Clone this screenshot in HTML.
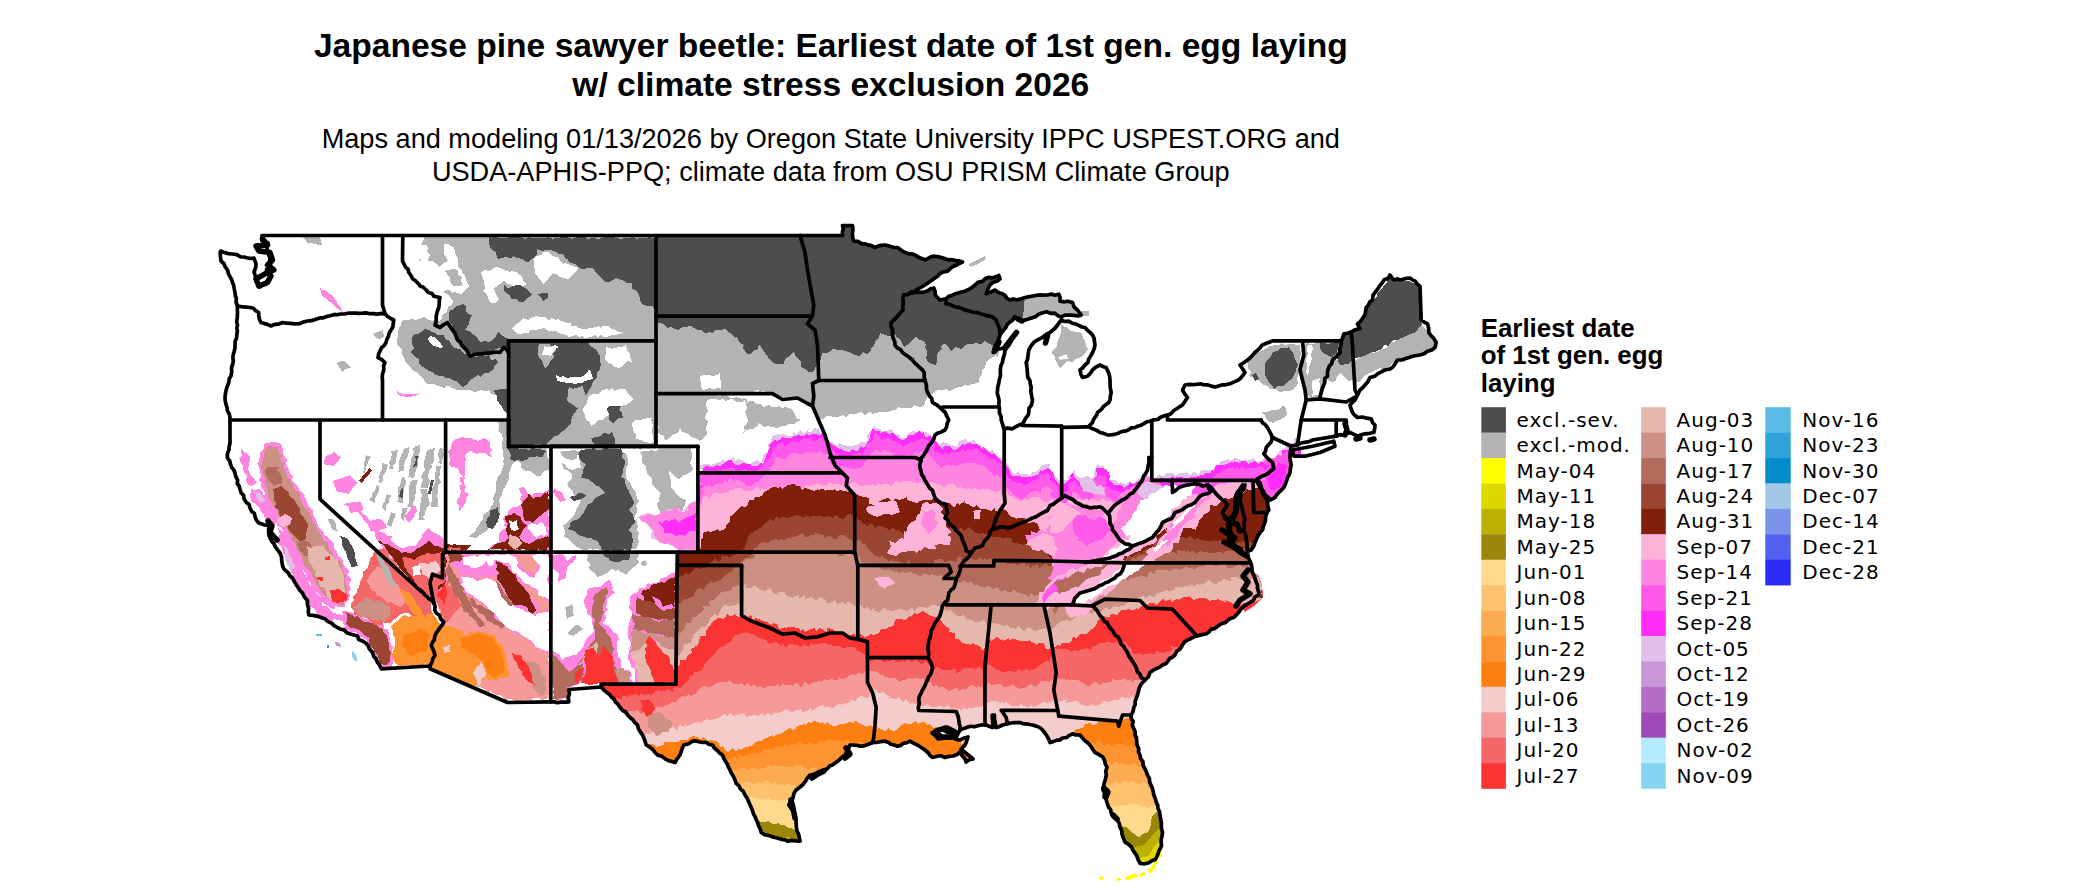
<!DOCTYPE html>
<html><head><meta charset="utf-8"><title>Japanese pine sawyer beetle map</title>
<style>
html,body{margin:0;padding:0;background:#fff;}
body{width:2100px;height:892px;position:relative;overflow:hidden;font-family:"Liberation Sans",sans-serif;color:#000;}
.t{position:absolute;left:0;width:1661.6px;text-align:center;white-space:nowrap;}
.title{font-weight:bold;font-size:33.6px;line-height:39.6px;top:25.6px;}
.sub{font-size:27.15px;line-height:33px;top:122.4px;}
.lt{position:absolute;left:1480.7px;top:314.5px;font-weight:bold;font-size:25.9px;line-height:27.7px;white-space:nowrap;}
svg{position:absolute;left:0;top:0;}
.ll{font-family:"DejaVu Sans",sans-serif;font-size:20px;letter-spacing:1px;fill:#000;}
.bd polyline,.bd polygon{stroke:#000;stroke-width:3.7;stroke-linejoin:round;stroke-linecap:round;}
</style></head><body>
<div class="t title">Japanese pine sawyer beetle: Earliest date of 1st gen. egg laying<br>w/ climate stress exclusion 2026</div>
<div class="t sub">Maps and modeling 01/13/2026 by Oregon State University IPPC USPEST.ORG and<br>USDA-APHIS-PPQ; climate data from OSU PRISM Climate Group</div>
<div class="lt">Earliest date<br>of 1st gen. egg<br>laying</div>
<svg width="2100" height="892" viewBox="0 0 2100 892">
<defs><clipPath id="us"><polygon points="262,235.5 842.5,235.5 842.5,225.5 852.5,225.5 853.8,241.2 865,243.8 875,247.5 885,245 897.5,247.5 905,252.5 915,255 925,260 935,256.2 945,258.8 962.5,262 950,268.8 937.5,276.2 925,285 915,291.2 903.8,295 915,292.5 927.5,291 933.8,288 935.5,295.5 940,300 946,298.8 955,293.8 965,291.2 975,285 985,278.8 998.8,275.5 1000,278.8 990,285 986.2,293.8 995,290 1002.5,293.8 1010,300 1021.2,298.8 1032.5,296.2 1047.5,295 1058.8,294.2 1060,301.2 1072.5,302.5 1077.5,310 1081.2,315 1071,315.2 1064.9,315.2 1060.9,317.2 1054.8,313.2 1046.7,311.7 1038.7,314.2 1030.6,318.2 1020.5,320.3 1014.5,316.7 1007.4,324.3 1000.3,334.4 997,343 994,349 993.3,352.5 998,349 1005.4,346.5 1016.5,332.4 1006.5,348 1004.4,354.5 1002.4,362.6 1000.3,370.7 999.3,380 997.5,390 998.8,405 1001.2,420 1003.8,428.8 1012.5,428.8 1022.5,423.8 1028.8,412.5 1032.5,400 1031.2,387.5 1027.5,375 1026.2,362.5 1028.8,350 1033.8,342.5 1042.5,337.5 1050,332.5 1057.5,325 1061.2,320 1075,323.8 1085,327.5 1092.5,335 1095,345 1091.2,355 1085,365 1080,370 1082.5,377.5 1087.5,376.2 1092.5,370 1100,365 1106.2,367.5 1110,380 1111.2,392.5 1108.8,402.5 1103.8,406.2 1097.5,412.5 1092.5,422.5 1088.8,426.2 1100,432.5 1110,435 1125,431.2 1137.5,426.2 1150,421.2 1167.5,415 1182.5,405 1187.5,397.5 1182.5,390 1185,385 1200,383.8 1215,387 1230,383.8 1240,378.8 1245,372.5 1240,365 1247.5,360 1255,352.5 1265,343.8 1272.5,340.9 1302.5,340.9 1341.2,340.9 1343.8,333.8 1351.2,332 1360,328.8 1357.5,323.8 1365,315 1366.2,307.5 1372.5,300 1375,292.5 1382.5,282.5 1390,275 1393.8,280 1410,278 1420,286.2 1421.2,320 1427.5,323.8 1428.8,332.5 1436.2,342.5 1435,347.5 1427.5,351.2 1420,355 1412.5,356.2 1405,358.8 1397.5,360 1392.5,367.5 1385,370 1377.5,373.8 1370,377.5 1365,385 1360,390 1357.5,395 1355,400 1350,405 1352.5,412.5 1357.5,417.5 1362,417 1371.2,418.8 1375,425 1373.8,432.5 1365,433.8 1357.5,436.2 1350,432.5 1346.2,433.8 1336.2,436.2 1312.5,440 1297.5,445 1291.2,446.2 1290,458.8 1291.2,465 1287.5,477.5 1283.8,487.5 1275,497.5 1270,500 1265,495 1260,487.5 1256.2,480 1260,482.5 1262.5,492.5 1267.5,500 1268.8,510 1267,512.5 1265,522.5 1260,532.5 1255,542.5 1251.2,550 1247.5,551.2 1246.2,540 1243.8,530 1245,520 1242.5,510 1240,500 1241,492 1245,485 1241,488 1237,493 1235,500 1235,510 1231.2,517.5 1227.5,525 1230,532.5 1228.8,540 1232.5,547.5 1240,552.5 1247.5,556.2 1250,561.2 1253.8,575 1257.5,585 1258.8,595 1250,602.5 1242.5,607.5 1236.2,615 1228,620 1218,626 1206,634 1197,636 1187.5,640 1182.5,645 1175,655 1162.5,665 1150,672.5 1145,680 1141.2,684 1137.5,695 1133.8,707.5 1131.2,715 1135,735 1140,755 1147.5,775 1153.8,795 1160,815 1162.5,832.5 1161.6,845.6 1159,850.8 1155.6,859.3 1148.8,862.7 1140.3,863.5 1136.9,855.9 1131.8,847.3 1125,842.2 1121.6,830.3 1117.3,820.1 1111.3,813.3 1107.1,803 1102.8,789.4 1105.4,779.2 1107.1,767.3 1102.8,757 1095,752.5 1087.5,742.5 1080,735 1072.5,733.8 1060,740 1050,742.5 1042.5,730 1032.5,725 1020,722.5 1007.5,723.8 1002.5,725 996.2,727.5 994.5,715 992.5,727.5 986.2,725 971.2,726.2 960,730 957,736 950,733 940,729 932,733 938,739 950,738 960,740 968,737 966,743 961,749 967,754 973,759 966,762 960,752 953,756 945,757.5 938,756 932.5,757.5 925,750 917.5,745 910,741.2 897.5,746.2 885,741.2 872.5,742.5 860,746.2 850,745 845,755 832.5,765 820,771.2 810,775 802.5,785 793.8,793.8 788.8,805 793.8,812.5 796.2,825 800,841.2 787.5,841.2 775,837.5 761.2,832.5 757.5,822.5 751.2,807.5 745,795 735,780 730,770 722.5,755 712.5,745 702.5,742.5 692.5,741.2 683.8,745 680,755 675,762.5 665,758.8 655,752.5 646.2,745 642.5,735 637.5,725 630,717.5 620,707.5 610,695 601.2,687 568.8,689.5 568.8,701.8 550.8,701.8 507.5,702.5 430,668.8 430,666 381.2,668.8 377.5,662.5 372.5,652.5 365,642.5 353.8,635 337.5,627.5 325,618.8 308.8,615 307.5,600.5 300,590.5 292.5,578 282.5,565.5 280,553 270,538 268.8,525.5 258.8,523 250,508 241.2,493 235,473 227.5,458 230,443 230,420 227,407.5 225,397.5 228.8,382.5 232.5,365 235,345 237.5,325 237.5,306 235,292.5 232.5,282.5 227.5,270 221,261 220.5,251 232,254 244,257 254,258 256,264 254,272 256,280 260,287 266,284 270,276 271,268 270,258 267,250 268,243 262,241 262,235.5"/><polygon points="1292.5,450 1312.5,446.2 1333.8,441.2 1335,446.2 1320,452.5 1305,456.2 1293.8,456.2"/><polygon points="1245,485 1241,492 1240,500 1242.5,510 1245,520 1243.8,530 1246.2,540 1241,488 1237,493 1235,500 1235,510 1231.2,517.5 1227.5,525 1230,532.5 1228.8,540 1232.5,547.5 1240,552.5 1247.5,556.2 1250,561.2"/><polygon points="1253,575 1257,585 1258,595 1250,602 1242,607 1245,611.5 1253,606.5 1263,597 1261.5,584 1257.5,574"/></clipPath></defs>
<g clip-path="url(#us)" shape-rendering="crispEdges">
<polygon fill="#e0c0e8" points="635,898 637,894 636,892 634,890 634,886 634,880 636,881 634,874 637,874 636,868 638,863 638,860 634,856 635,856 634,851 637,847 636,842 634,839 637,836 635,834 636,829 637,827 635,823 636,821 637,815 638,810 636,810 634,805 634,803 637,799 638,794 637,792 636,787 638,786 636,781 634,778 637,776 638,769 635,767 634,763 634,758 634,757 634,751 635,751 634,745 636,744 638,740 635,735 635,733 638,726 634,723 635,721 636,716 634,714 635,711 638,708 636,704 637,698 638,698 638,694 635,689 634,687 634,680 635,677 635,673 634,670 634,668 634,667 637,660 635,657 635,652 638,653 636,647 634,642 635,639 638,635 634,635 636,628 636,624 636,625 638,620 635,615 634,614 636,610 635,604 638,604 638,600 638,596 635,591 635,585 634,583 635,582 638,577 638,576 638,569 635,565 634,562 637,562 638,556 637,554 634,550 639,546 639,541 637,538 638,534 643,527 642,526 646,517 646,511 653,513 652,512 659,510 659,508 661,506 668,509 669,510 672,510 677,507 677,505 680,504 683,501 685,501 689,498 693,501 696,502 697,496 698,489 698,486 697,485 698,480 701,476 700,473 702,470 700,466 704,464 709,464 711,465 716,463 718,462 720,462 723,460 726,462 730,460 734,457 735,461 740,458 739,460 742,460 745,463 751,464 751,463 757,460 761,464 761,462 764,454 770,451 768,445 771,441 772,436 778,434 780,436 781,434 787,435 787,436 793,436 793,432 796,434 800,430 804,433 809,429 808,432 813,431 814,428 820,430 820,433 826,433 826,437 829,441 834,443 837,447 839,443 843,445 844,445 847,446 851,446 856,445 858,444 860,442 863,442 868,441 867,436 872,429 875,425 876,429 878,428 883,431 884,431 889,430 891,429 892,429 895,435 899,434 901,439 908,437 908,433 911,432 913,431 917,432 923,431 923,434 926,432 928,433 933,437 935,440 937,442 940,444 943,442 947,443 951,445 955,446 958,446 959,441 965,439 967,441 967,442 974,440 976,443 976,443 981,446 986,448 987,450 991,451 992,449 994,452 997,456 1002,458 1006,463 1008,464 1012,472 1014,474 1018,472 1021,474 1021,474 1027,474 1030,477 1032,472 1035,472 1039,470 1042,465 1042,465 1048,464 1050,464 1049,469 1054,474 1057,478 1059,481 1062,480 1067,480 1070,482 1067,476 1073,475 1074,468 1076,475 1079,477 1081,478 1088,476 1091,478 1094,477 1094,472 1098,463 1099,466 1104,466 1105,471 1108,477 1108,480 1115,480 1118,483 1121,482 1121,483 1127,484 1127,483 1130,480 1132,483 1136,482 1139,478 1143,477 1145,480 1151,479 1153,479 1157,477 1159,474 1162,476 1165,476 1166,473 1172,473 1173,474 1175,476 1181,473 1183,473 1185,473 1186,472 1190,475 1194,472 1199,475 1200,471 1201,470 1205,470 1208,470 1212,471 1216,466 1218,464 1220,462 1222,461 1229,459 1230,461 1235,458 1235,458 1238,459 1244,461 1247,457 1246,461 1253,459 1254,457 1256,462 1262,461 1265,457 1264,456 1269,458 1274,458 1276,457 1278,453 1279,451 1283,449 1288,444 1288,443 1294,443 1294,438 1299,438 1298,440 1300,442 1298,448 1301,452 1301,455 1298,457 1301,463 1298,463 1299,470 1299,472 1300,478 1298,477 1298,483 1300,485 1301,491 1299,492 1301,496 1301,499 1298,506 1298,510 1299,510 1298,514 1300,520 1297,521 1298,528 1297,527 1297,532 1301,538 1300,542 1301,542 1298,548 1300,547 1300,553 1299,556 1298,558 1298,563 1302,565 1302,569 1299,576 1301,577 1297,581 1299,587 1298,588 1301,589 1299,597 1301,597 1297,600 1301,605 1301,611 1299,612 1302,617 1298,621 1298,622 1297,628 1301,631 1302,631 1298,637 1302,643 1299,643 1299,648 1302,650 1301,656 1301,660 1300,661 1299,665 1301,667 1298,674 1298,674 1297,680 1299,685 1301,689 1298,688 1298,693 1301,697 1298,700 1300,705 1301,709 1300,709 1301,713 1300,717 1301,720 1298,724 1298,730 1300,731 1299,738 1300,738 1301,743 1302,744 1300,751 1301,755 1297,755 1298,758 1302,764 1302,766 1302,770 1299,775 1302,775 1300,782 1298,784 1298,786 1299,792 1301,793 1297,798 1301,800 1299,804 1301,809 1298,810 1299,816 1301,817 1298,824 1299,825 1299,832 1299,834 1299,837 1302,843 1299,842 1301,846 1297,853 1300,856 1299,860 1300,860 1297,865 1301,871 1298,873 1299,876 1298,878 1300,885 1298,886 1302,892 1298,891 1302,899 1300,898 1299,899 1295,901 1291,898 1287,899 1282,902 1281,898 1274,899 1272,899 1266,899 1266,902 1259,900 1259,898 1256,898 1251,900 1248,899 1243,900 1240,901 1236,900 1231,901 1230,899 1228,901 1223,898 1219,898 1214,900 1210,900 1209,898 1206,898 1203,901 1198,898 1195,899 1193,898 1189,902 1185,902 1179,902 1177,902 1176,898 1171,902 1164,899 1164,898 1161,899 1158,898 1152,902 1147,899 1145,899 1140,898 1137,902 1136,902 1130,901 1126,900 1125,899 1123,900 1118,902 1112,902 1111,899 1108,899 1106,900 1099,901 1096,898 1094,898 1091,899 1086,902 1083,901 1078,898 1073,898 1072,900 1068,902 1063,899 1062,898 1055,899 1052,899 1049,900 1047,899 1044,900 1038,902 1035,898 1031,901 1031,901 1025,899 1020,901 1019,899 1016,900 1014,901 1007,902 1003,900 1001,899 996,901 992,900 993,898 986,901 984,901 982,898 976,899 971,902 971,901 964,902 964,900 960,900 954,898 951,898 948,901 946,902 943,899 938,900 936,900 930,901 930,899 926,898 919,899 918,902 915,899 912,899 905,902 904,901 900,902 896,902 893,902 889,901 886,899 880,901 876,902 873,898 869,902 867,898 862,898 862,901 858,901 852,900 850,902 848,902 841,902 842,902 834,899 831,898 831,902 826,902 823,899 817,898 816,899 811,900 806,899 804,901 800,899 800,900 796,901 788,900 787,901 783,901 780,899 778,898 775,898 767,899 767,902 760,900 759,901 754,900 751,902 747,902 744,899 742,900 736,901 732,901 732,901 728,899 723,899 722,898 719,898 712,899 712,900 706,902 701,900 699,901 697,901 691,899 687,902 686,901 680,900 680,900 673,900 673,899 666,899 665,902 659,898 656,899 654,898 649,898 649,901 641,902 638,899"/>
<polygon fill="#ff2df7" points="638,901 637,896 635,894 634,888 636,884 636,884 637,879 637,875 635,872 636,869 638,865 636,862 636,857 637,856 637,852 637,848 637,844 635,841 634,836 637,834 637,829 636,826 636,822 637,821 635,816 637,812 636,811 634,805 635,803 638,798 634,795 636,792 636,788 637,784 636,782 635,778 636,775 634,772 635,765 635,763 634,759 636,757 635,751 635,750 638,745 635,743 636,737 635,736 637,732 636,728 635,726 635,721 637,718 636,713 636,709 637,706 637,702 636,699 636,695 634,693 635,688 635,685 636,683 637,678 638,676 634,673 638,669 635,666 637,659 634,659 637,653 634,649 635,648 635,642 638,641 635,638 636,634 637,631 637,627 635,623 636,620 636,617 636,611 635,607 636,603 636,600 636,598 636,596 634,592 636,587 637,585 635,580 638,575 637,574 634,570 637,568 635,564 636,559 638,554 637,553 636,549 637,544 638,541 638,535 640,531 643,526 646,521 648,515 651,517 655,515 656,512 659,511 664,512 664,512 671,511 670,510 673,510 680,510 682,508 686,505 687,502 691,502 694,501 697,503 698,497 696,493 699,492 700,486 701,484 700,478 700,475 701,472 703,470 703,468 706,466 712,467 716,466 715,465 720,466 725,463 726,461 730,460 731,459 733,463 736,465 739,465 743,463 748,464 751,464 751,466 757,466 760,463 763,464 765,459 767,454 770,447 769,446 775,439 776,441 779,440 783,437 785,438 789,438 791,438 794,436 799,435 801,436 806,435 807,433 808,435 814,434 815,434 821,435 822,433 825,436 828,439 831,444 835,446 835,446 840,449 844,450 844,451 850,452 852,449 856,451 859,450 860,446 864,448 866,445 870,438 870,435 873,428 875,431 880,431 880,433 886,431 888,434 893,433 894,434 896,435 899,439 902,440 906,439 908,435 914,435 913,435 919,431 921,433 924,432 925,437 931,436 933,439 937,443 941,448 943,449 944,446 947,446 949,446 954,450 957,449 962,444 963,443 964,445 968,443 973,444 976,444 978,444 983,450 983,447 986,450 992,454 994,453 997,457 1000,460 1000,459 1006,466 1009,468 1011,475 1012,476 1016,476 1020,476 1022,477 1027,477 1030,476 1030,477 1034,476 1039,474 1040,470 1042,471 1048,468 1050,469 1053,473 1054,475 1055,480 1060,484 1061,486 1064,484 1067,481 1071,478 1070,475 1073,473 1075,478 1078,481 1084,480 1086,480 1088,480 1091,481 1097,475 1096,468 1103,468 1105,469 1109,473 1110,477 1109,480 1114,485 1115,485 1121,485 1122,485 1124,488 1129,485 1129,483 1134,484 1136,482 1140,483 1144,482 1145,479 1150,480 1153,478 1156,479 1159,481 1161,477 1166,479 1168,477 1169,479 1172,476 1175,478 1177,477 1182,477 1183,478 1189,478 1190,477 1194,477 1195,477 1202,475 1203,475 1206,473 1211,473 1211,470 1214,471 1216,465 1222,465 1222,465 1227,464 1231,462 1234,463 1234,461 1239,463 1241,461 1245,461 1248,464 1250,463 1255,461 1258,464 1260,462 1264,462 1266,463 1270,460 1271,459 1275,460 1279,457 1282,454 1282,450 1289,450 1289,447 1294,444 1296,441 1299,441 1297,443 1301,449 1301,452 1300,456 1301,456 1300,461 1300,464 1299,470 1300,471 1299,475 1301,478 1298,483 1298,487 1301,490 1298,493 1299,495 1298,499 1298,503 1298,506 1298,511 1301,515 1299,518 1298,522 1299,525 1300,528 1298,531 1298,535 1299,539 1297,542 1301,545 1299,549 1298,555 1298,557 1298,558 1301,563 1298,566 1299,571 1298,573 1301,578 1298,580 1299,585 1300,589 1301,592 1300,596 1300,598 1300,603 1301,604 1301,607 1300,613 1299,618 1300,619 1301,625 1300,626 1299,630 1300,633 1299,637 1299,640 1301,645 1299,647 1298,650 1298,655 1300,656 1301,661 1301,666 1301,667 1299,674 1298,674 1300,679 1301,684 1300,688 1300,690 1300,693 1299,697 1299,702 1300,704 1298,707 1299,711 1300,716 1301,718 1299,722 1302,724 1300,729 1298,731 1302,737 1300,737 1301,743 1301,748 1301,749 1298,752 1300,756 1298,758 1300,764 1299,769 1300,768 1299,775 1299,778 1298,780 1301,785 1300,787 1300,792 1299,795 1300,800 1300,801 1298,804 1301,807 1298,811 1300,817 1300,821 1298,821 1301,826 1301,829 1299,832 1298,839 1300,840 1300,843 1298,849 1300,853 1300,855 1299,856 1302,863 1299,867 1301,868 1300,874 1300,877 1299,879 1301,881 1299,887 1300,891 1299,892 1299,895 1302,899 1297,898 1293,900 1289,898 1284,901 1282,899 1278,899 1274,898 1273,899 1267,901 1263,899 1263,899 1258,901 1256,899 1250,901 1247,902 1243,902 1240,899 1237,899 1234,899 1231,900 1226,899 1223,899 1221,898 1216,900 1211,901 1208,901 1205,899 1201,898 1197,901 1194,901 1190,900 1187,900 1183,898 1180,899 1176,901 1173,900 1172,901 1168,901 1162,899 1158,901 1157,899 1152,901 1150,899 1147,899 1142,899 1137,902 1136,901 1130,898 1126,899 1124,900 1119,899 1118,899 1115,900 1111,899 1107,901 1103,898 1101,901 1095,898 1094,900 1087,899 1084,901 1081,902 1080,898 1076,900 1073,901 1067,898 1066,900 1063,901 1059,901 1055,900 1049,901 1047,900 1045,899 1041,898 1037,901 1032,900 1031,901 1026,899 1021,899 1019,899 1015,899 1013,901 1007,899 1005,900 1003,899 997,902 993,900 990,901 988,901 982,901 981,900 978,901 972,899 969,899 964,899 962,901 959,898 955,900 952,899 947,898 947,901 940,901 940,900 933,900 931,899 928,898 926,901 921,902 918,899 913,899 908,901 908,899 902,901 901,902 895,901 894,901 888,899 887,899 881,900 878,901 874,898 872,901 869,901 866,902 861,900 856,899 854,898 851,899 847,902 842,898 840,899 837,898 834,901 830,900 825,901 822,900 818,900 816,901 813,899 807,900 805,899 800,898 797,900 796,902 792,902 789,900 785,898 781,900 776,900 775,900 770,899 765,902 761,899 760,900 754,901 751,900 748,900 745,900 740,899 739,900 733,901 730,898 727,899 724,900 719,900 715,900 714,898 709,898 706,901 703,901 700,898 698,901 691,901 688,899 687,900 683,899 679,898 674,899 669,900 666,899 665,900 662,900 659,900 655,901 649,901 646,901 644,901 638,899"/>
<polygon fill="#ff59ec" points="637,902 637,894 637,891 636,891 634,888 637,881 634,879 638,876 634,869 634,870 634,865 635,862 635,856 638,854 637,852 638,845 635,842 636,842 638,834 634,835 637,829 636,824 638,822 638,819 634,815 635,814 636,806 634,804 636,802 635,797 634,795 635,788 636,790 634,782 637,779 635,777 635,773 636,772 638,764 636,764 638,760 637,756 635,751 637,750 638,746 635,743 637,738 637,734 636,730 634,726 635,726 636,720 635,715 635,711 634,711 636,706 636,702 634,697 635,695 637,692 638,688 638,685 634,680 636,680 635,676 636,673 634,667 638,663 635,658 634,656 637,652 635,648 637,648 637,641 637,641 637,633 638,634 635,627 634,625 638,622 638,616 635,616 637,610 637,607 634,603 634,601 635,597 636,592 636,587 638,587 638,580 637,580 635,574 634,570 637,567 638,565 636,562 636,559 637,553 639,549 639,547 640,541 642,539 642,531 645,529 646,520 651,522 655,519 659,517 661,515 661,515 664,517 669,515 674,516 673,515 679,517 679,510 685,509 689,508 691,507 695,508 695,511 695,506 695,501 698,498 697,493 699,491 702,486 699,480 700,478 701,473 706,475 707,476 710,473 712,474 719,470 721,472 722,468 726,470 727,468 732,467 735,470 737,471 740,471 746,469 749,473 749,469 751,473 754,473 757,472 760,467 766,461 767,460 771,456 773,449 773,448 778,443 780,444 783,442 784,446 788,445 790,442 793,441 796,442 799,442 804,438 806,439 812,438 812,441 818,440 818,438 821,438 823,440 828,444 830,446 835,453 837,454 841,457 845,456 845,455 849,459 851,455 855,454 860,452 862,456 863,454 866,448 867,443 872,442 875,433 877,435 880,437 881,440 883,439 890,438 891,441 893,441 898,442 901,444 903,447 907,444 910,443 911,442 914,442 918,440 921,439 923,439 929,441 930,442 935,444 934,451 939,453 944,455 947,451 947,455 953,452 952,453 955,452 962,451 963,448 965,452 970,449 972,450 976,448 979,451 981,452 983,454 986,455 989,459 991,459 997,461 998,462 1004,465 1006,473 1007,475 1012,481 1013,481 1017,483 1021,483 1023,485 1028,484 1028,484 1034,480 1037,481 1037,479 1040,474 1045,474 1047,473 1052,477 1049,479 1053,482 1058,487 1059,492 1062,491 1065,492 1069,490 1069,483 1072,482 1075,479 1075,480 1078,487 1081,485 1087,487 1087,488 1093,485 1093,480 1098,475 1103,477 1106,475 1106,481 1106,487 1109,486 1112,490 1118,492 1119,491 1120,491 1127,494 1130,491 1130,489 1134,489 1137,489 1140,488 1145,486 1148,487 1147,485 1152,485 1155,485 1157,487 1160,486 1166,485 1167,486 1170,486 1171,483 1177,481 1181,481 1182,481 1187,483 1190,482 1192,483 1193,480 1199,480 1202,480 1201,479 1207,483 1209,481 1211,480 1216,474 1216,474 1219,473 1223,470 1227,469 1230,467 1235,468 1238,467 1240,471 1241,466 1244,469 1247,469 1249,468 1255,468 1258,467 1262,466 1265,470 1268,467 1268,466 1273,465 1277,462 1278,463 1281,458 1282,454 1286,456 1292,451 1295,449 1296,451 1298,449 1300,448 1298,453 1298,458 1297,462 1298,462 1299,466 1299,473 1300,475 1297,478 1297,483 1297,486 1298,488 1300,491 1297,498 1298,501 1301,503 1297,504 1301,508 1299,514 1297,517 1297,521 1299,523 1298,527 1298,529 1298,536 1299,540 1297,544 1299,547 1300,550 1298,553 1298,554 1297,559 1299,562 1301,564 1300,568 1300,575 1300,575 1298,581 1302,581 1300,588 1301,590 1301,594 1301,595 1302,601 1299,603 1298,610 1300,610 1299,614 1298,617 1299,625 1302,627 1299,629 1301,635 1301,637 1298,641 1301,645 1297,648 1299,649 1302,655 1301,656 1301,663 1302,666 1301,670 1300,671 1301,677 1301,678 1302,682 1302,684 1302,691 1298,694 1298,695 1299,698 1300,705 1301,708 1299,712 1301,715 1302,719 1299,719 1300,726 1299,728 1301,733 1297,735 1297,736 1301,741 1300,745 1299,747 1299,754 1300,755 1298,758 1301,763 1301,768 1298,771 1297,775 1298,776 1302,780 1298,786 1300,790 1299,791 1302,795 1302,797 1301,800 1300,803 1298,811 1300,814 1299,815 1298,819 1302,823 1299,828 1302,831 1298,834 1300,839 1299,841 1301,843 1300,848 1302,851 1299,857 1298,860 1301,862 1300,866 1302,870 1301,870 1299,874 1302,881 1298,883 1300,884 1299,891 1301,892 1301,895 1300,900 1299,901 1294,901 1289,902 1287,901 1281,898 1279,902 1277,899 1270,900 1270,898 1266,898 1260,898 1257,899 1257,902 1249,899 1250,898 1243,900 1238,899 1236,899 1236,899 1228,902 1226,902 1223,901 1218,898 1217,900 1212,901 1210,899 1204,902 1202,899 1199,899 1196,898 1193,900 1187,902 1183,899 1178,900 1178,901 1173,902 1168,899 1167,902 1164,901 1161,899 1158,901 1152,899 1150,899 1144,902 1142,900 1139,902 1133,899 1129,900 1128,902 1125,900 1120,900 1116,902 1115,902 1109,901 1108,900 1105,902 1101,902 1097,902 1091,901 1090,901 1085,898 1083,902 1078,899 1074,898 1073,902 1070,899 1066,898 1063,899 1055,901 1052,899 1048,900 1047,902 1041,902 1038,899 1037,899 1032,900 1028,901 1025,902 1024,900 1017,901 1013,900 1012,898 1009,901 1005,900 1001,900 996,902 997,902 993,899 990,898 984,898 980,901 978,900 972,898 969,899 965,901 963,900 958,901 954,899 952,901 951,901 947,902 943,901 936,899 932,902 932,901 926,899 922,901 923,899 915,898 913,902 912,900 905,898 901,901 899,902 898,901 892,902 887,898 886,900 880,899 876,902 876,902 874,900 869,899 866,902 859,898 856,900 853,898 852,901 847,898 845,900 838,899 837,902 833,901 828,899 828,899 820,900 817,898 815,900 812,901 808,898 806,898 801,900 798,901 793,901 792,900 785,902 784,898 779,902 775,899 774,902 770,901 764,898 765,902 757,898 754,902 751,901 751,901 747,899 740,898 739,898 737,901 729,902 726,900 722,901 722,902 714,902 714,902 710,901 707,901 701,898 699,899 695,898 693,898 690,902 685,898 682,899 678,898 677,900 670,898 669,902 666,898 660,899 658,898 654,902 651,898 644,898 644,900 640,900"/>
<polygon fill="#ff85e0" points="635,901 637,899 637,895 638,892 637,883 637,885 636,881 634,878 636,873 635,867 635,864 634,861 639,859 639,856 638,854 638,846 634,843 633,839 638,840 635,835 638,832 638,827 634,825 635,820 635,816 639,810 636,810 636,808 635,804 637,801 634,793 635,794 633,787 637,787 634,781 637,779 637,776 634,769 633,768 634,762 639,761 637,757 637,754 635,747 633,743 635,740 634,739 639,737 635,734 634,726 635,724 637,721 637,716 639,714 638,708 638,706 638,706 637,699 633,695 638,691 637,691 637,685 634,681 639,679 637,676 634,670 633,671 634,668 635,663 634,660 635,654 636,649 634,650 635,644 638,639 634,636 635,633 637,630 638,624 637,626 634,617 636,614 636,614 634,607 636,604 634,602 634,596 635,595 639,592 633,587 637,585 638,584 638,576 639,575 634,569 639,565 635,561 641,558 640,552 640,549 640,546 644,538 651,535 649,531 655,533 654,531 661,530 661,530 667,531 667,532 675,531 677,529 680,526 679,526 686,521 685,518 690,518 691,523 696,524 696,519 695,516 697,509 699,508 700,505 701,497 703,493 704,491 700,490 704,486 707,487 708,485 712,487 714,485 719,483 723,484 724,480 727,483 730,478 735,481 740,479 739,481 745,483 746,486 751,486 756,482 759,483 756,486 760,479 764,475 771,473 769,468 773,466 775,459 775,457 781,458 785,460 789,455 786,458 792,453 796,453 796,453 801,455 801,454 808,452 811,454 810,452 817,453 820,451 825,455 823,453 831,455 830,464 836,464 838,466 841,469 841,466 844,467 846,467 851,469 852,469 861,468 860,468 864,464 867,460 870,456 869,456 875,450 877,450 880,453 880,453 884,450 890,452 893,454 895,451 894,456 901,456 900,456 904,459 906,455 911,456 918,450 916,454 924,450 923,453 926,454 930,454 930,456 934,460 940,467 941,468 946,465 948,465 954,467 951,465 958,466 961,463 965,465 964,463 967,463 974,463 973,461 979,465 979,465 984,466 988,468 989,471 993,475 993,476 997,475 1003,481 1006,486 1006,487 1012,492 1012,494 1019,498 1021,500 1025,496 1025,499 1026,497 1030,492 1035,491 1041,493 1041,488 1042,488 1047,486 1051,489 1053,490 1050,495 1056,499 1060,501 1061,504 1066,505 1067,501 1072,500 1072,492 1074,492 1076,492 1083,501 1081,499 1087,498 1086,501 1094,498 1093,491 1096,491 1098,487 1106,487 1105,491 1106,497 1112,499 1111,506 1116,503 1117,503 1125,503 1124,507 1130,507 1131,507 1135,502 1137,503 1141,499 1141,503 1144,502 1148,498 1151,499 1158,496 1160,497 1159,499 1163,496 1167,499 1172,497 1170,498 1177,499 1182,495 1184,498 1184,495 1187,495 1190,493 1192,497 1196,495 1202,496 1201,497 1208,497 1210,495 1214,489 1216,488 1220,484 1221,484 1226,483 1229,485 1232,480 1236,483 1237,482 1236,484 1242,481 1244,483 1250,484 1249,481 1252,479 1256,479 1262,480 1260,478 1267,478 1269,479 1274,481 1274,478 1280,474 1283,473 1283,471 1287,465 1291,468 1293,464 1295,464 1300,458 1298,462 1302,468 1297,473 1296,474 1299,479 1299,478 1299,486 1301,487 1297,493 1301,493 1301,501 1299,501 1300,508 1297,508 1298,514 1297,516 1299,521 1297,526 1302,527 1301,528 1302,534 1301,539 1298,543 1297,541 1299,550 1302,554 1299,557 1300,556 1300,564 1299,566 1298,568 1299,572 1299,573 1296,579 1301,584 1298,585 1299,588 1300,596 1298,598 1301,602 1301,605 1298,610 1302,608 1302,614 1297,616 1301,623 1297,625 1300,632 1298,634 1298,634 1297,639 1300,642 1297,645 1297,648 1298,653 1298,657 1299,663 1299,667 1299,666 1300,669 1298,672 1301,681 1299,681 1299,684 1301,688 1297,694 1300,693 1302,701 1299,704 1302,706 1299,709 1300,714 1301,720 1297,720 1302,726 1300,728 1299,734 1300,734 1298,736 1302,743 1297,744 1300,749 1299,754 1299,756 1302,760 1300,762 1299,767 1301,768 1299,773 1299,779 1300,779 1299,786 1298,788 1297,789 1297,796 1298,796 1297,800 1301,806 1302,811 1300,814 1297,818 1299,817 1301,825 1299,824 1302,831 1300,836 1297,834 1298,837 1301,844 1298,845 1298,851 1301,857 1299,861 1300,861 1298,863 1303,871 1301,870 1298,873 1299,880 1297,883 1301,883 1300,891 1300,893 1302,897 1299,899 1299,902 1295,900 1287,898 1285,901 1279,902 1281,900 1272,902 1271,901 1269,901 1264,903 1264,903 1259,899 1254,899 1253,902 1249,902 1247,901 1239,902 1235,901 1231,902 1230,899 1229,897 1225,902 1217,902 1216,902 1213,900 1211,898 1207,898 1200,898 1200,900 1196,899 1192,901 1185,900 1185,898 1181,899 1176,903 1176,903 1170,900 1168,902 1163,902 1159,903 1156,898 1154,898 1150,897 1148,900 1143,898 1139,899 1133,902 1129,900 1125,902 1127,897 1121,900 1119,901 1113,903 1108,898 1109,898 1101,900 1099,898 1099,900 1094,899 1092,898 1088,901 1085,902 1079,900 1077,900 1069,902 1070,901 1066,898 1061,902 1060,903 1052,901 1051,899 1045,898 1043,900 1039,899 1037,902 1034,898 1032,899 1029,903 1020,900 1022,899 1016,899 1009,898 1006,899 1006,900 1004,901 997,903 995,900 993,901 986,901 983,903 979,903 974,897 974,898 970,898 968,901 964,903 962,901 957,897 949,900 951,899 946,897 941,902 939,902 932,898 929,902 925,903 923,902 921,899 920,899 915,897 912,903 904,901 902,898 899,901 899,903 895,901 890,898 887,900 881,902 877,898 873,898 872,902 866,900 865,900 860,900 854,897 853,898 852,898 849,898 841,900 839,899 838,898 834,902 829,900 828,901 820,897 816,899 813,901 811,899 808,903 803,898 800,899 800,901 794,898 788,898 789,901 781,901 777,900 776,898 774,901 770,898 767,900 763,898 761,897 754,899 750,898 750,903 744,899 742,898 737,901 734,898 728,900 730,903 721,900 720,898 718,900 715,899 712,902 706,898 703,898 700,901 696,903 689,901 691,898 684,897 682,901 677,901 674,901 670,903 667,897 662,901 663,901 655,902 655,898 649,901 644,897 642,902 642,899"/>
<polygon fill="#ffb3d9" points="638,901 638,897 638,894 638,890 634,886 636,882 635,879 636,874 635,872 636,868 637,863 636,860 637,859 637,855 635,853 636,847 635,844 637,842 636,838 635,833 635,829 635,828 637,822 635,821 637,817 637,813 635,807 635,803 638,802 637,801 638,794 635,790 637,789 636,784 635,781 637,779 638,776 636,770 635,769 634,762 635,762 638,756 638,755 636,748 637,745 634,745 636,738 636,734 634,731 635,726 635,726 635,722 637,716 634,715 637,710 635,709 638,703 636,701 635,695 635,694 637,690 634,685 635,683 635,682 634,678 635,674 635,669 635,663 637,664 635,660 636,657 634,651 635,649 637,646 636,640 637,636 635,635 636,633 634,627 635,621 634,618 635,616 636,612 637,610 638,604 636,602 635,601 635,597 635,591 637,589 635,583 638,581 634,579 636,574 635,573 636,566 640,562 638,557 640,555 642,549 644,545 648,540 650,536 652,532 659,533 661,531 663,529 664,531 670,529 673,528 676,528 678,527 681,524 684,524 685,520 691,521 694,523 696,520 696,519 698,515 698,509 701,507 703,497 706,496 710,499 712,494 716,493 719,493 718,494 723,493 727,492 731,490 734,490 733,490 736,488 742,488 742,489 746,491 752,491 755,488 757,487 761,490 763,487 763,490 768,488 773,486 775,487 778,487 778,489 782,488 788,485 790,486 791,485 797,486 798,486 799,487 805,488 806,484 809,486 814,485 816,483 821,485 822,486 823,485 827,486 829,483 835,484 836,484 839,484 841,485 845,486 849,485 853,482 856,483 860,486 862,486 864,486 869,484 868,486 873,484 875,487 878,483 880,485 883,484 888,484 891,486 892,486 895,481 901,483 903,481 907,481 910,481 912,483 914,482 916,484 922,481 924,485 925,485 932,482 932,482 935,483 939,484 941,485 944,487 949,484 950,484 953,484 958,488 962,485 961,488 966,489 968,487 970,490 975,488 978,490 983,489 982,489 989,489 991,491 993,491 995,492 1001,490 1001,495 1007,492 1009,496 1013,496 1012,497 1018,500 1019,501 1024,500 1024,499 1028,500 1031,497 1036,497 1039,497 1041,500 1042,500 1045,502 1048,501 1052,499 1055,501 1059,501 1062,503 1067,503 1068,500 1073,500 1075,502 1076,502 1079,498 1081,500 1088,499 1089,501 1091,498 1095,500 1100,502 1100,500 1104,498 1107,502 1109,501 1114,502 1118,502 1118,506 1120,505 1123,506 1126,503 1130,502 1132,501 1137,500 1142,501 1142,499 1148,498 1150,497 1154,498 1155,500 1156,496 1162,498 1165,496 1167,496 1170,496 1173,496 1175,497 1177,498 1182,495 1183,496 1188,497 1190,495 1196,494 1199,497 1202,497 1202,496 1207,492 1211,494 1214,491 1213,490 1216,485 1222,483 1224,485 1225,484 1228,482 1234,482 1234,480 1241,481 1242,481 1246,483 1249,481 1251,482 1252,484 1259,483 1262,481 1265,479 1267,481 1271,481 1274,477 1276,477 1277,474 1282,474 1286,472 1285,469 1290,469 1289,472 1288,478 1289,482 1289,486 1289,486 1289,489 1290,494 1288,500 1289,499 1292,504 1289,506 1288,513 1290,516 1289,518 1292,522 1292,528 1288,532 1288,534 1292,538 1290,542 1288,544 1289,547 1288,552 1290,556 1291,559 1292,563 1290,564 1292,568 1288,571 1291,578 1291,580 1292,584 1290,586 1291,589 1288,594 1292,596 1291,602 1288,602 1290,607 1292,613 1290,616 1291,616 1292,620 1288,625 1288,629 1290,634 1290,637 1291,640 1289,642 1290,646 1291,650 1289,654 1292,655 1289,658 1288,662 1290,669 1291,673 1292,675 1290,676 1289,680 1291,683 1290,688 1290,692 1288,697 1292,700 1288,703 1292,709 1291,707 1292,714 1289,719 1292,722 1289,724 1289,726 1291,731 1289,735 1292,738 1292,742 1292,743 1290,749 1291,754 1291,755 1291,759 1291,765 1288,765 1292,767 1291,771 1291,778 1289,780 1289,785 1290,788 1289,791 1292,796 1292,797 1290,801 1289,806 1288,809 1291,814 1288,814 1290,821 1288,824 1289,826 1292,827 1289,831 1288,836 1291,840 1288,845 1290,845 1292,852 1289,856 1292,856 1288,863 1292,863 1291,870 1291,873 1292,874 1292,881 1289,883 1291,888 1290,888 1289,893 1288,898 1292,899 1287,901 1281,901 1281,899 1274,899 1274,900 1270,898 1263,899 1264,898 1256,901 1253,901 1249,899 1249,902 1244,900 1238,899 1236,901 1235,901 1230,901 1225,899 1222,899 1221,899 1215,899 1214,901 1209,899 1208,902 1202,900 1200,899 1194,898 1192,901 1186,900 1187,900 1180,902 1179,899 1172,901 1172,902 1168,899 1163,899 1160,900 1158,902 1155,900 1152,898 1148,901 1144,900 1141,898 1137,902 1131,902 1127,901 1125,900 1120,902 1119,898 1117,899 1110,900 1108,902 1106,901 1099,898 1094,900 1094,900 1092,900 1085,900 1081,902 1079,900 1075,899 1071,900 1068,902 1065,899 1059,898 1057,901 1056,899 1052,900 1048,900 1042,898 1041,901 1036,902 1035,899 1028,900 1027,899 1020,900 1017,901 1016,899 1012,899 1007,898 1007,900 1003,899 1000,900 995,899 991,898 990,901 984,901 979,899 976,902 971,900 972,901 968,899 962,901 958,901 955,901 953,902 951,899 948,898 944,898 939,899 936,899 930,901 928,901 924,898 922,899 917,898 913,901 912,901 906,901 904,899 900,900 897,898 892,899 887,899 887,900 880,901 877,901 873,898 870,900 867,902 867,899 862,901 858,899 856,902 848,899 846,898 843,902 838,902 835,898 835,899 828,898 825,898 821,899 819,900 814,900 813,901 808,902 806,900 801,899 796,902 795,898 793,902 785,901 782,900 782,899 777,901 772,901 769,902 765,901 760,899 757,898 756,898 754,898 749,902 743,899 743,900 740,899 734,902 730,902 729,899 724,902 718,902 718,901 714,898 712,898 708,901 702,901 699,901 693,902 692,902 689,902 684,900 679,900 676,902 676,900 674,902 670,898 665,901 661,898 659,900 654,902 649,898 649,899 641,898 642,901"/>
<polygon fill="#80200a" points="599,898 602,897 600,891 600,891 598,886 598,885 598,881 602,876 598,873 600,868 598,865 601,860 602,858 599,853 600,852 600,849 600,844 602,839 598,836 599,832 600,828 602,826 602,824 601,821 599,817 599,813 600,810 599,805 601,803 602,797 599,793 601,792 601,789 600,785 602,781 601,778 600,775 600,769 600,766 600,764 599,759 600,756 602,751 598,750 600,746 600,742 599,737 602,737 599,732 599,726 602,726 599,720 601,719 600,714 599,712 602,709 598,704 602,701 600,695 598,694 598,691 601,686 602,685 601,677 600,675 599,674 601,667 599,664 600,661 600,660 599,656 599,653 602,647 600,642 600,641 601,636 598,632 600,629 599,627 602,623 599,620 599,617 598,612 600,611 599,604 598,601 599,598 601,595 600,591 601,590 600,586 599,583 600,578 599,573 598,572 599,568 600,564 599,559 599,557 600,551 604,553 604,552 608,554 612,552 614,552 617,552 622,554 625,555 628,551 628,552 632,553 635,557 634,559 637,565 635,565 638,570 638,565 638,562 640,558 637,553 643,555 646,554 647,552 649,555 652,553 656,552 660,555 662,552 667,554 669,552 674,551 674,552 678,553 681,554 686,553 685,554 688,552 691,553 697,551 698,554 701,547 701,546 701,540 703,537 703,533 708,531 710,532 714,531 718,529 719,531 725,529 727,524 730,521 730,516 733,515 737,510 741,506 745,507 748,505 749,500 754,500 755,497 757,497 762,496 764,492 768,490 773,487 775,487 779,488 780,486 782,489 787,486 787,485 794,484 796,486 798,486 801,487 802,490 805,488 811,490 814,491 818,489 817,490 823,489 825,491 826,490 833,490 834,489 836,491 841,490 842,491 846,491 848,492 853,491 855,493 858,495 859,496 865,497 869,498 869,504 874,505 878,506 877,502 880,501 884,499 888,498 893,501 894,499 896,499 899,500 905,498 907,497 907,500 910,501 917,503 920,501 920,501 923,500 927,500 931,500 933,499 937,501 940,501 942,501 943,503 949,503 953,507 956,506 957,503 959,505 965,501 964,503 968,504 970,506 974,507 977,505 980,509 984,509 985,509 991,511 995,507 995,511 999,511 1001,508 1007,511 1008,513 1011,517 1016,518 1016,519 1018,518 1025,518 1025,521 1028,523 1033,522 1037,523 1039,527 1039,529 1046,535 1044,539 1047,544 1046,545 1046,552 1048,554 1052,556 1053,560 1052,564 1051,566 1054,568 1056,573 1053,577 1055,581 1053,583 1056,587 1054,594 1057,598 1054,598 1057,604 1058,599 1062,598 1065,599 1067,593 1072,591 1073,590 1079,588 1079,586 1082,583 1087,580 1090,577 1090,577 1095,577 1096,574 1102,570 1102,569 1108,567 1110,566 1113,563 1115,562 1119,562 1124,559 1124,556 1129,557 1130,555 1136,552 1139,551 1141,551 1142,548 1148,545 1148,545 1153,544 1157,541 1156,535 1159,534 1162,531 1168,527 1172,526 1175,524 1177,523 1178,522 1180,518 1184,519 1188,514 1190,515 1195,511 1198,512 1200,512 1203,514 1208,513 1210,510 1210,505 1216,506 1219,503 1220,503 1224,498 1226,498 1228,499 1235,497 1234,494 1237,495 1243,494 1246,490 1246,489 1253,491 1254,488 1259,488 1259,487 1265,488 1267,490 1269,490 1270,493 1271,493 1270,497 1268,501 1271,504 1269,508 1271,513 1270,516 1270,519 1269,524 1270,529 1268,532 1270,534 1269,538 1267,539 1268,543 1267,549 1270,552 1268,556 1271,559 1268,562 1269,565 1268,571 1270,574 1268,575 1269,578 1268,583 1269,588 1270,591 1270,595 1269,595 1271,602 1268,603 1268,608 1268,609 1269,613 1268,618 1268,620 1268,624 1269,629 1269,632 1267,637 1270,639 1267,642 1271,646 1268,651 1271,652 1269,657 1268,660 1270,665 1270,668 1269,669 1267,676 1271,680 1268,683 1268,685 1268,690 1271,694 1269,698 1268,700 1270,702 1269,705 1271,709 1268,712 1270,718 1270,722 1271,723 1270,726 1268,729 1268,734 1271,739 1268,740 1270,745 1268,747 1270,753 1268,757 1269,760 1270,762 1272,766 1269,770 1271,775 1271,777 1271,781 1272,786 1271,786 1270,791 1269,796 1269,799 1270,801 1271,806 1272,811 1271,811 1271,815 1272,819 1269,820 1270,826 1269,828 1270,831 1268,836 1269,840 1270,843 1268,845 1270,853 1269,854 1269,859 1270,863 1268,863 1269,868 1269,871 1272,875 1270,881 1271,883 1271,885 1268,891 1270,893 1268,898 1269,901 1266,902 1262,899 1261,899 1255,900 1255,898 1248,901 1244,900 1243,901 1240,898 1237,899 1233,900 1230,900 1223,898 1221,898 1216,902 1214,902 1209,900 1207,898 1202,902 1201,900 1197,902 1195,900 1187,902 1184,899 1181,900 1179,900 1175,898 1173,900 1167,901 1167,902 1163,898 1157,900 1153,901 1153,898 1147,902 1145,900 1138,900 1137,901 1132,899 1132,898 1127,898 1124,900 1121,899 1117,899 1110,898 1107,900 1107,899 1103,898 1098,900 1093,900 1091,899 1089,901 1082,898 1079,899 1078,902 1076,902 1068,901 1068,900 1065,900 1058,899 1054,900 1053,902 1047,898 1048,899 1041,902 1037,901 1037,900 1032,898 1028,901 1026,900 1019,899 1018,898 1012,899 1012,900 1006,902 1004,899 1000,902 996,900 993,902 990,899 986,899 982,901 977,900 975,900 973,900 969,899 964,900 961,899 959,900 954,899 952,902 949,899 942,901 938,902 938,899 933,901 928,899 927,901 923,898 918,899 914,901 913,902 909,902 905,900 901,900 900,900 892,899 890,901 888,900 886,901 879,898 878,900 874,900 868,900 868,900 861,898 861,900 855,901 854,902 850,901 844,900 843,899 837,902 836,898 830,900 830,901 826,898 821,899 817,898 814,898 811,901 809,901 802,902 800,902 796,898 794,899 792,900 788,900 782,901 780,900 774,900 773,899 767,900 766,898 760,902 757,901 753,898 751,902 749,898 745,901 740,901 737,899 734,898 729,902 727,900 724,900 719,900 714,899 710,902 711,901 704,902 701,901 699,900 696,899 693,900 689,901 683,900 680,898 679,901 674,900 672,898 666,901 663,900 659,899 657,899 655,902 651,899 646,898 641,898 639,902 636,899 631,902 626,902 626,898 623,901 617,900 615,900 612,902 606,898 605,901"/>
<polygon fill="#9a4632" points="601,898 598,898 599,893 602,888 601,884 600,884 598,880 602,877 601,874 601,869 602,866 601,862 598,857 599,856 601,850 602,845 598,843 598,843 599,836 602,833 601,829 600,829 599,823 600,817 598,816 601,812 598,811 598,807 598,802 598,797 600,796 600,791 600,788 599,786 598,779 600,776 601,771 601,769 602,766 600,762 600,758 601,756 601,752 600,749 601,746 600,740 598,737 598,733 601,731 602,727 599,723 598,722 600,716 602,715 600,711 601,707 598,703 602,699 601,694 601,695 599,689 600,685 599,680 601,679 602,678 602,674 602,666 598,667 602,662 601,657 600,652 600,650 598,649 600,646 599,641 599,638 599,634 600,629 598,626 600,624 599,618 599,617 599,613 598,607 601,605 598,601 602,598 600,594 600,589 602,588 599,583 598,583 602,576 604,577 605,575 610,575 612,575 613,575 619,578 623,578 624,575 629,577 632,575 635,577 635,577 637,577 641,578 643,578 649,578 653,576 655,576 659,579 661,577 662,579 668,579 668,579 673,579 677,577 677,578 682,576 686,572 685,573 688,574 691,573 695,568 700,569 702,568 705,568 708,564 711,562 715,559 718,562 721,559 722,555 724,556 731,557 730,556 737,554 740,552 740,554 745,547 746,543 749,535 752,533 757,530 760,528 760,528 764,524 770,520 769,518 772,521 777,517 779,519 781,517 788,518 788,518 790,517 796,515 798,515 802,517 806,517 805,514 811,518 811,516 815,516 821,516 823,517 824,517 827,516 831,517 832,518 835,515 842,519 842,519 844,519 848,514 853,515 856,515 856,518 859,520 863,523 867,526 872,523 875,528 876,527 877,526 881,526 886,528 889,530 893,528 896,531 898,530 901,532 904,534 904,533 910,532 913,535 916,533 918,533 922,530 924,530 927,530 929,529 935,529 938,531 938,529 940,531 946,527 948,528 952,527 956,529 955,530 962,528 964,531 968,527 971,529 974,531 975,533 980,534 983,533 985,534 987,534 990,534 992,537 998,537 1000,537 1002,539 1003,538 1010,538 1011,538 1013,543 1015,543 1021,544 1022,545 1025,544 1031,545 1033,543 1033,544 1036,548 1040,549 1045,545 1047,551 1047,554 1052,560 1053,562 1052,563 1053,570 1054,571 1053,576 1052,578 1054,582 1057,586 1056,593 1054,595 1058,600 1055,605 1055,609 1058,604 1061,602 1067,601 1066,600 1072,596 1076,592 1077,593 1081,590 1081,586 1085,585 1088,582 1092,580 1097,577 1097,574 1099,575 1106,570 1106,572 1112,571 1115,566 1114,564 1119,561 1121,562 1126,559 1126,558 1129,555 1132,557 1139,552 1142,554 1144,550 1148,548 1147,551 1151,548 1156,541 1156,541 1159,538 1165,534 1167,534 1172,537 1174,537 1174,539 1180,537 1182,537 1186,538 1187,538 1190,536 1194,540 1198,538 1200,540 1203,540 1206,541 1211,541 1213,542 1213,540 1217,541 1221,540 1226,543 1226,543 1232,540 1234,544 1235,544 1241,541 1240,543 1245,540 1248,542 1253,543 1255,539 1256,538 1259,539 1258,543 1258,548 1260,549 1261,553 1258,559 1261,563 1259,564 1261,566 1262,573 1260,573 1259,578 1262,581 1260,584 1262,591 1262,594 1258,595 1258,600 1258,602 1258,609 1261,610 1262,612 1258,617 1262,619 1261,625 1261,627 1258,630 1261,635 1261,637 1259,641 1262,647 1258,651 1258,653 1259,658 1261,661 1258,661 1261,668 1258,672 1262,673 1260,678 1262,682 1260,686 1260,686 1260,691 1259,695 1259,698 1261,704 1260,708 1258,709 1261,714 1259,715 1262,721 1261,723 1258,727 1260,733 1261,735 1260,739 1258,744 1260,745 1258,746 1261,753 1261,754 1260,760 1261,764 1258,767 1258,770 1260,771 1260,777 1262,778 1260,785 1258,789 1262,790 1259,792 1259,797 1261,803 1260,807 1260,809 1258,811 1258,813 1262,817 1259,822 1260,824 1258,830 1260,831 1260,836 1262,838 1258,841 1260,849 1261,849 1260,853 1262,859 1261,860 1260,865 1259,869 1258,871 1262,875 1260,880 1262,884 1259,887 1258,890 1258,891 1258,896 1261,898 1258,898 1255,902 1250,902 1248,900 1244,898 1240,901 1237,898 1230,900 1229,901 1223,900 1224,899 1219,902 1215,900 1210,900 1205,898 1203,898 1202,899 1199,900 1195,902 1191,900 1185,900 1182,902 1177,901 1175,900 1172,902 1171,899 1167,902 1162,900 1157,901 1155,901 1153,901 1149,900 1142,900 1138,898 1140,899 1132,900 1128,901 1125,899 1124,902 1117,901 1116,900 1112,898 1108,900 1105,902 1101,902 1100,901 1095,900 1093,898 1087,898 1084,900 1083,902 1077,900 1072,901 1071,898 1069,898 1062,900 1062,898 1055,901 1052,902 1047,899 1045,902 1040,901 1041,902 1037,898 1032,899 1026,899 1026,900 1019,899 1016,902 1016,900 1013,902 1006,899 1002,901 1001,900 998,900 992,901 992,898 986,898 984,900 981,901 978,900 973,902 970,899 963,902 959,902 960,901 957,901 952,900 946,898 945,900 939,900 936,899 935,901 931,902 926,900 923,899 921,902 915,901 911,898 910,901 905,902 903,899 900,902 893,902 891,899 887,900 884,899 879,901 878,901 873,902 868,898 864,900 863,899 860,898 854,902 855,898 850,900 846,902 843,902 840,902 833,902 831,902 830,902 826,899 821,901 815,900 814,901 810,901 808,899 805,902 799,900 797,902 792,899 789,901 784,902 783,901 779,898 775,900 770,902 769,900 763,899 761,901 756,900 753,900 752,900 749,901 742,901 740,901 739,899 735,899 731,898 728,900 723,900 719,899 717,901 710,899 711,899 704,900 701,902 701,898 693,898 691,899 689,902 682,898 679,899 675,900 673,901 673,902 666,901 661,901 662,902 654,898 655,901 650,898 646,898 643,901 638,898 636,902 632,899 627,902 627,899 620,902 617,900 613,901 613,900 609,900 603,902"/>
<polygon fill="#b36b5b" points="602,901 601,898 602,895 600,889 598,886 599,880 602,878 602,873 599,873 601,869 600,863 602,863 600,858 602,854 600,851 601,848 599,845 599,841 599,839 602,835 599,829 600,827 598,823 602,817 602,816 602,813 601,810 600,803 602,804 601,797 600,795 599,791 600,790 601,786 602,779 601,776 600,774 601,769 601,766 601,763 601,762 599,754 602,753 601,751 602,745 602,741 601,740 599,735 599,731 600,730 598,727 601,721 601,716 601,716 599,710 599,706 602,704 600,701 598,694 599,693 598,689 599,685 601,682 601,680 599,673 602,672 600,669 600,667 598,664 601,657 602,656 600,648 601,647 600,645 598,642 599,635 598,631 599,630 602,624 599,622 601,618 601,614 598,612 601,607 598,606 601,607 607,603 609,603 610,604 617,607 619,606 621,605 625,605 626,607 629,605 634,607 635,605 639,604 641,606 643,605 647,605 652,603 654,603 658,606 659,604 662,604 668,607 670,604 672,604 675,607 676,604 679,604 683,600 685,599 690,598 694,596 695,591 699,588 704,590 705,586 706,585 712,581 712,583 717,581 720,580 725,575 726,575 729,573 733,571 734,567 738,565 739,564 744,558 749,557 751,555 754,553 754,548 757,547 761,542 763,542 768,543 771,540 774,540 775,539 778,540 781,539 784,540 791,537 790,539 793,537 799,535 803,533 805,537 809,537 810,535 815,535 815,533 818,534 824,535 824,538 829,536 829,535 833,539 837,539 839,535 845,535 847,538 848,539 852,540 855,541 860,540 862,544 865,543 868,549 868,548 871,552 874,555 879,557 883,556 883,557 889,561 893,559 892,561 898,561 902,563 904,563 904,564 910,560 910,563 914,565 917,563 921,565 923,565 928,563 932,564 934,562 934,560 940,559 943,560 944,562 950,561 951,560 956,562 958,557 962,557 961,560 964,560 970,557 974,561 976,560 980,558 983,561 985,557 986,561 989,559 993,559 996,559 1000,560 1004,560 1006,563 1006,564 1011,564 1012,564 1019,565 1019,564 1025,563 1026,566 1029,563 1030,568 1035,565 1038,564 1039,568 1045,564 1046,564 1049,566 1054,566 1055,572 1054,571 1052,578 1052,583 1052,582 1057,587 1055,592 1053,594 1055,600 1057,603 1054,606 1058,608 1058,607 1064,602 1066,602 1068,602 1069,599 1073,598 1078,594 1078,593 1084,590 1087,589 1088,586 1094,581 1097,580 1100,579 1103,579 1105,574 1107,573 1112,571 1115,568 1116,566 1117,565 1120,565 1126,563 1129,562 1132,558 1133,556 1135,559 1138,556 1142,555 1148,555 1151,555 1151,555 1156,552 1157,553 1163,551 1166,553 1167,552 1169,552 1174,552 1177,554 1177,550 1184,551 1187,552 1187,550 1191,553 1192,550 1196,554 1201,551 1203,552 1207,552 1208,553 1211,553 1216,553 1216,552 1221,552 1223,553 1226,551 1232,551 1235,551 1236,553 1239,554 1244,552 1243,551 1250,552 1252,551 1253,552 1257,553 1258,549 1261,556 1260,559 1258,562 1259,565 1259,566 1259,573 1261,577 1260,576 1262,581 1261,586 1260,587 1259,594 1260,598 1262,600 1263,601 1260,607 1258,612 1259,614 1259,617 1260,620 1259,625 1261,626 1263,630 1259,634 1260,639 1263,640 1261,646 1259,648 1260,655 1262,656 1258,659 1262,663 1260,668 1258,671 1262,672 1260,679 1260,681 1260,685 1260,687 1263,693 1263,694 1261,698 1263,702 1262,704 1261,708 1263,712 1263,717 1260,720 1263,724 1263,727 1262,729 1263,735 1262,737 1262,741 1260,747 1262,749 1263,753 1261,757 1263,760 1261,762 1259,768 1263,770 1261,774 1259,776 1260,780 1261,784 1263,787 1259,788 1263,794 1261,795 1259,799 1263,802 1261,808 1262,810 1262,816 1264,817 1261,820 1261,824 1259,831 1260,834 1263,838 1259,840 1263,844 1262,847 1263,851 1261,854 1262,856 1263,863 1263,862 1261,870 1260,872 1263,875 1261,876 1263,881 1262,886 1263,887 1264,894 1264,895 1263,899 1259,901 1255,902 1251,900 1249,898 1246,899 1243,898 1236,900 1233,900 1229,901 1228,901 1222,898 1220,898 1218,900 1215,902 1210,902 1206,899 1200,901 1200,901 1196,900 1194,899 1187,902 1186,902 1184,900 1176,900 1174,899 1172,899 1170,899 1163,902 1159,901 1156,900 1153,899 1152,902 1149,898 1141,900 1141,900 1138,902 1133,899 1128,898 1125,901 1121,898 1119,902 1116,898 1111,899 1109,900 1104,902 1100,900 1100,899 1094,901 1090,901 1086,902 1084,901 1080,901 1076,898 1072,899 1067,901 1066,900 1063,898 1057,901 1053,902 1052,902 1050,900 1044,900 1043,900 1039,902 1036,900 1032,900 1028,900 1026,902 1021,900 1015,900 1015,899 1011,899 1007,899 1003,901 997,902 996,899 991,900 990,898 983,899 982,900 980,901 974,900 970,901 969,899 965,898 963,900 959,901 952,901 951,899 948,901 944,899 942,902 936,902 935,899 928,899 926,898 921,901 916,901 915,901 911,900 907,898 907,899 900,902 897,900 892,900 893,902 889,902 882,898 878,901 877,899 874,899 870,900 864,901 861,902 861,900 855,899 850,901 848,900 845,899 840,901 838,898 837,898 830,898 828,901 822,902 822,902 817,900 812,899 812,899 809,902 805,898 799,902 795,899 790,900 789,899 784,901 781,901 780,900 773,900 771,898 769,900 763,899 762,902 757,900 753,900 751,899 748,900 741,898 740,898 737,900 734,902 730,901 724,902 725,900 721,900 715,898 712,901 710,902 705,902 701,898 698,900 696,899 689,901 686,902 684,898 681,901 676,902 671,898 671,901 667,902 662,898 660,899 656,899 654,899 650,900 644,902 641,899 637,901 636,899 630,900 627,900 625,898 619,902 619,898 613,900 612,899 609,898 606,898"/>
<polygon fill="#cc9184" points="601,902 601,899 599,895 602,888 601,888 599,882 601,879 602,875 600,870 599,870 599,867 602,861 599,855 598,856 602,853 599,849 600,843 602,842 601,835 598,831 599,828 600,825 599,824 599,816 598,815 598,812 598,808 601,805 599,803 602,799 602,796 599,791 600,788 598,782 600,780 602,776 598,772 602,767 600,766 602,761 601,761 602,755 599,752 601,749 601,744 601,740 599,735 600,732 599,729 599,726 602,723 600,719 600,718 600,713 599,708 599,704 599,700 600,699 598,696 600,692 600,689 601,683 600,680 601,677 599,672 602,668 599,669 598,663 600,661 601,659 599,651 599,647 599,646 602,640 599,640 600,634 601,633 605,636 607,635 614,633 614,635 619,636 622,635 623,636 627,637 630,635 634,635 636,636 639,637 641,635 647,637 648,634 649,635 654,635 656,635 660,633 664,636 664,634 667,635 673,635 675,636 676,632 681,633 685,628 686,623 691,623 692,617 695,617 700,613 704,610 703,606 710,606 709,601 713,600 715,599 720,593 721,592 728,591 731,591 733,586 734,587 738,585 739,587 742,580 742,579 741,574 742,572 745,568 743,562 746,559 752,559 755,556 756,553 761,552 764,553 764,551 769,550 770,550 772,554 779,554 780,553 784,552 786,550 788,551 791,553 794,551 800,553 803,553 802,552 809,554 809,552 813,550 815,554 820,552 822,553 824,551 829,554 831,554 836,554 839,556 838,556 843,556 847,553 849,553 853,555 854,555 860,557 860,560 862,563 868,565 871,568 874,566 876,568 878,567 883,570 887,570 888,569 892,571 896,572 896,570 898,573 903,572 904,573 911,572 913,574 916,574 917,575 921,576 924,574 929,575 929,576 931,574 938,576 941,575 942,576 947,578 947,578 950,578 955,579 955,580 960,583 962,581 968,583 969,582 971,582 975,585 976,584 979,586 983,587 988,586 989,585 992,589 998,587 1001,592 1001,591 1006,590 1007,592 1011,592 1014,590 1017,592 1018,593 1024,594 1026,595 1029,597 1031,593 1035,596 1037,595 1040,595 1045,598 1046,597 1050,595 1054,597 1056,603 1057,604 1053,610 1054,614 1057,611 1060,606 1067,606 1068,606 1072,600 1075,599 1077,596 1079,594 1082,591 1088,590 1089,592 1093,588 1097,591 1100,587 1103,588 1102,586 1108,586 1112,586 1115,586 1115,585 1117,584 1120,581 1125,579 1129,581 1130,578 1135,578 1135,577 1142,576 1142,576 1148,577 1148,575 1150,571 1154,574 1156,570 1163,570 1162,569 1165,570 1170,571 1172,569 1175,569 1177,569 1180,570 1184,568 1186,567 1190,568 1195,569 1199,567 1200,566 1202,567 1208,564 1210,565 1212,565 1216,566 1217,566 1219,564 1226,564 1226,567 1228,568 1232,568 1236,566 1240,564 1242,567 1246,567 1249,564 1251,566 1252,567 1255,566 1259,563 1262,569 1261,573 1260,578 1258,579 1259,583 1260,588 1259,589 1262,594 1260,596 1261,599 1261,603 1262,605 1262,613 1258,613 1262,620 1259,623 1261,624 1261,628 1259,634 1262,634 1260,640 1260,641 1261,648 1258,648 1260,656 1263,654 1261,658 1259,662 1261,670 1263,670 1263,675 1259,680 1260,684 1259,687 1261,689 1259,692 1262,696 1263,699 1263,701 1262,707 1263,709 1261,715 1260,716 1263,721 1261,721 1262,727 1260,730 1259,736 1263,740 1262,740 1261,747 1259,748 1259,750 1260,756 1259,761 1261,761 1259,766 1260,770 1259,772 1261,775 1261,782 1262,782 1262,785 1260,788 1262,793 1260,796 1263,800 1262,806 1261,809 1261,813 1262,813 1263,817 1261,821 1261,827 1263,829 1259,833 1264,837 1262,841 1262,846 1264,848 1263,849 1261,855 1262,860 1263,860 1260,866 1260,868 1261,871 1263,876 1262,877 1264,883 1264,886 1263,891 1263,894 1260,894 1263,902 1258,899 1255,902 1253,898 1246,899 1246,899 1243,900 1236,900 1232,902 1228,900 1226,898 1222,902 1222,900 1218,902 1215,901 1210,900 1207,901 1205,898 1201,901 1195,902 1191,899 1189,902 1184,902 1182,902 1177,901 1176,902 1172,902 1168,900 1162,900 1163,902 1155,899 1152,902 1148,901 1145,899 1145,898 1140,899 1137,898 1133,899 1131,899 1126,898 1124,901 1120,901 1113,901 1111,899 1110,901 1104,898 1102,898 1096,898 1092,901 1089,902 1086,901 1085,901 1080,898 1078,902 1073,898 1067,899 1068,899 1061,900 1057,901 1057,899 1049,902 1050,901 1043,902 1042,898 1040,901 1033,902 1031,901 1025,899 1025,898 1019,898 1017,898 1015,900 1011,902 1009,898 1002,901 998,902 995,901 991,901 988,900 986,902 980,898 977,901 976,901 973,899 968,898 964,901 960,901 956,900 955,899 951,900 945,898 944,902 941,902 937,901 934,900 929,898 924,898 920,899 918,900 917,899 914,902 907,900 903,898 900,899 895,898 896,902 893,898 885,902 883,899 881,900 876,898 871,901 872,898 865,900 862,900 859,899 854,900 854,898 849,902 846,899 844,901 841,899 835,900 833,901 828,900 826,899 819,898 816,898 816,900 812,900 807,899 805,900 799,901 798,902 793,900 791,900 784,900 781,899 780,899 776,899 770,901 770,901 765,898 761,902 759,900 755,898 748,902 745,899 743,901 741,902 739,899 732,898 729,898 728,900 723,898 721,899 717,899 711,898 709,899 705,901 700,898 698,899 694,899 689,898 689,901 685,901 681,898 679,900 673,899 669,902 666,902 661,900 658,899 655,899 653,900 651,898 647,900 643,899 637,902 636,901 632,901 630,901 627,899 620,902 619,902 614,900 613,899 605,898 603,900"/>
<polygon fill="#e6b8ad" points="599,900 598,896 600,891 600,892 601,888 602,882 598,877 600,877 599,870 601,869 600,863 600,862 601,860 598,856 599,851 599,849 600,842 600,839 598,835 599,833 598,828 602,827 602,823 602,820 599,814 598,814 601,808 598,806 602,801 602,799 599,793 601,794 599,787 598,783 599,781 599,778 599,773 600,769 598,765 598,764 598,760 602,757 599,753 600,749 598,744 598,741 599,737 601,734 600,733 600,730 601,725 599,719 601,717 599,712 598,713 600,709 602,703 599,702 599,697 602,693 600,692 602,689 601,682 598,677 602,676 602,675 599,671 599,664 599,664 602,658 600,657 605,657 605,654 609,657 613,657 613,655 620,655 622,657 624,656 628,655 630,657 635,657 635,656 639,657 641,655 644,657 649,653 649,653 654,656 656,653 660,656 663,654 665,654 671,654 673,655 674,654 679,656 683,649 683,645 685,644 691,643 693,636 695,633 698,631 702,626 704,627 709,623 710,618 715,614 718,616 721,609 721,609 724,605 730,606 731,606 737,604 737,604 743,604 744,601 744,595 744,591 741,588 746,584 746,588 752,588 752,588 754,585 757,587 761,590 765,591 768,589 770,588 774,594 779,594 778,592 785,592 784,593 787,596 793,598 793,597 799,595 799,599 805,595 805,599 808,598 811,597 816,600 821,597 821,598 825,599 827,603 832,602 835,600 838,605 838,604 842,602 847,605 847,602 852,603 855,607 856,605 860,604 864,609 867,607 871,610 875,608 874,611 880,612 880,611 883,608 886,609 891,611 896,610 897,610 899,609 901,609 907,611 910,609 912,607 914,611 918,607 921,607 923,607 927,608 932,605 933,605 938,606 939,606 942,609 943,608 948,611 950,610 953,613 955,615 959,616 964,615 966,619 971,620 974,621 974,622 979,622 983,620 986,623 987,626 988,625 991,623 998,624 999,624 1004,626 1007,625 1008,626 1011,628 1014,628 1016,630 1018,626 1024,631 1028,627 1031,629 1032,630 1036,631 1040,629 1043,629 1045,628 1048,628 1052,629 1052,629 1054,627 1060,622 1062,621 1067,620 1069,621 1069,622 1074,619 1076,616 1079,614 1082,616 1085,616 1087,612 1092,614 1094,611 1096,610 1100,612 1103,609 1108,607 1108,610 1115,606 1115,606 1118,607 1124,605 1124,605 1130,601 1132,600 1136,602 1137,601 1139,597 1143,596 1146,599 1149,595 1151,596 1155,597 1156,594 1161,592 1162,592 1167,590 1169,591 1175,590 1175,587 1179,587 1180,587 1186,586 1189,587 1189,584 1194,586 1197,583 1199,585 1202,584 1205,583 1209,580 1213,583 1217,584 1219,581 1220,582 1224,579 1225,580 1231,581 1231,577 1237,577 1241,580 1243,577 1245,579 1247,578 1252,579 1255,577 1257,578 1261,576 1259,577 1260,581 1262,584 1262,589 1259,593 1259,599 1261,598 1259,602 1260,607 1259,611 1260,616 1261,616 1262,619 1259,622 1263,628 1262,634 1258,637 1258,640 1262,642 1262,647 1260,648 1259,651 1261,657 1259,660 1258,663 1261,665 1261,669 1263,673 1263,680 1263,680 1262,683 1263,689 1258,690 1259,695 1263,700 1260,704 1258,706 1260,707 1263,714 1263,717 1261,718 1261,726 1261,728 1261,730 1259,733 1259,736 1259,742 1264,746 1263,747 1263,751 1263,754 1260,759 1260,761 1262,767 1264,770 1260,773 1262,777 1263,780 1264,783 1261,785 1260,790 1259,794 1259,796 1263,803 1259,805 1261,806 1260,812 1261,816 1259,819 1262,821 1262,828 1264,830 1262,834 1261,838 1261,840 1263,844 1262,846 1261,851 1261,854 1261,857 1262,863 1260,865 1262,869 1263,871 1259,875 1262,879 1264,883 1263,885 1263,888 1264,893 1262,897 1262,902 1257,898 1255,899 1250,902 1248,899 1244,899 1240,898 1240,901 1233,898 1233,902 1225,902 1224,902 1220,900 1214,900 1212,902 1208,902 1205,902 1204,902 1199,899 1194,899 1190,899 1188,902 1182,900 1181,898 1179,899 1176,898 1173,899 1165,898 1162,898 1159,902 1156,899 1155,898 1148,902 1146,898 1141,901 1142,899 1137,900 1131,899 1128,899 1127,898 1121,901 1116,902 1115,901 1110,899 1110,902 1102,902 1099,898 1098,898 1096,902 1089,898 1087,901 1081,901 1078,899 1075,898 1073,899 1071,902 1067,900 1063,899 1059,900 1055,900 1054,902 1050,902 1044,898 1040,900 1039,901 1036,901 1030,898 1027,899 1026,902 1021,901 1018,900 1013,902 1011,900 1009,898 1004,900 998,898 996,902 991,902 991,898 986,900 981,898 977,902 976,902 971,900 966,900 965,902 959,901 955,902 952,901 951,899 947,900 942,899 938,901 939,900 932,900 927,901 927,898 922,898 920,898 917,898 913,898 908,901 907,902 899,901 897,898 894,902 888,901 887,902 884,899 882,898 878,899 871,898 871,898 868,898 865,898 860,900 856,902 851,902 849,902 844,902 843,900 837,902 835,902 833,901 829,898 826,901 819,898 815,899 815,901 811,899 809,898 802,900 798,901 798,901 792,900 788,900 786,898 784,902 780,898 774,901 773,901 770,900 763,900 760,899 759,899 755,900 748,900 749,901 745,901 743,898 736,898 734,899 730,901 724,901 722,899 720,901 714,901 710,898 711,902 707,902 703,900 698,900 697,902 691,899 688,900 686,902 681,898 677,898 674,902 671,900 665,902 665,900 657,901 656,899 652,899 647,901 646,900 643,900 637,899 635,901 632,901 627,901 625,899 619,901 619,902 616,902 611,899 606,902 602,900"/>
<polygon fill="#fa3333" points="600,898 598,895 601,894 598,888 602,884 601,883 602,880 598,877 601,869 602,867 600,865 600,862 598,859 600,852 600,849 600,848 601,842 599,842 601,835 601,832 598,830 598,824 601,825 598,820 598,813 598,809 601,810 598,803 598,801 599,796 602,792 601,789 601,785 598,786 599,780 601,779 600,771 601,770 600,765 602,760 600,759 602,757 599,751 600,748 598,747 600,739 598,735 602,732 600,733 601,727 599,724 602,718 599,716 600,715 600,708 601,704 598,700 600,699 600,696 598,690 600,688 600,687 600,682 598,678 598,673 598,670 598,669 602,666 604,666 610,667 614,668 616,667 620,667 619,666 625,665 625,668 631,667 634,667 636,665 639,669 642,666 646,669 648,667 653,669 653,668 656,666 662,666 665,667 668,665 669,665 674,669 675,667 680,665 680,660 686,660 687,656 692,653 691,649 698,645 699,642 700,636 706,636 706,631 711,624 712,622 718,618 719,618 724,619 728,613 729,616 732,616 734,614 739,617 742,616 746,615 747,618 751,615 753,620 755,618 761,620 762,621 767,622 770,624 771,625 773,623 777,624 779,629 785,627 784,628 789,627 794,627 795,628 799,628 801,632 802,628 805,632 811,629 815,628 816,631 820,628 820,628 827,632 827,628 832,629 836,633 838,633 841,634 842,634 844,634 849,636 853,634 856,635 859,633 860,634 865,637 868,636 871,633 872,635 877,634 880,632 881,629 885,629 886,629 889,627 893,626 896,619 901,619 905,620 906,619 910,616 910,617 915,613 916,614 919,613 923,611 928,614 928,615 935,617 938,617 938,619 941,620 944,625 950,629 949,632 955,633 955,639 958,639 962,643 968,644 971,645 972,643 974,644 976,645 980,646 983,651 986,645 990,639 991,638 991,641 997,637 1001,640 1003,639 1003,641 1009,638 1009,640 1013,639 1019,640 1018,641 1024,641 1028,641 1030,640 1031,642 1035,643 1036,645 1039,643 1044,643 1046,649 1051,649 1051,650 1058,645 1059,646 1063,643 1067,643 1069,643 1072,640 1073,637 1076,638 1080,634 1085,634 1088,633 1090,630 1094,628 1096,625 1098,620 1100,619 1105,616 1105,617 1110,617 1111,614 1118,615 1118,613 1121,610 1123,610 1130,609 1130,610 1135,610 1136,608 1138,609 1142,606 1145,606 1147,605 1150,603 1155,603 1156,605 1159,602 1163,599 1166,601 1171,599 1172,602 1177,599 1178,600 1184,597 1187,597 1188,596 1190,597 1193,600 1199,598 1202,598 1203,598 1208,599 1209,601 1212,600 1216,600 1218,599 1219,600 1226,602 1225,600 1230,602 1235,605 1234,605 1241,605 1244,603 1246,604 1249,604 1253,601 1255,602 1259,600 1261,602 1261,605 1258,606 1259,612 1258,615 1258,616 1259,622 1261,627 1259,626 1262,633 1262,637 1258,638 1259,642 1259,648 1262,648 1263,656 1260,659 1263,661 1260,664 1262,667 1260,669 1259,676 1260,679 1260,682 1259,683 1261,687 1259,692 1261,697 1262,699 1260,703 1259,705 1261,712 1261,712 1263,718 1259,720 1258,725 1259,729 1262,732 1261,733 1259,738 1259,741 1262,743 1261,749 1259,750 1262,754 1259,758 1263,765 1259,766 1261,767 1260,774 1259,779 1260,779 1263,782 1259,787 1260,790 1262,796 1261,795 1261,803 1261,803 1260,807 1261,811 1262,816 1259,817 1263,824 1263,824 1262,827 1262,832 1263,838 1261,841 1264,846 1262,848 1261,852 1260,854 1260,856 1263,861 1260,867 1261,868 1262,870 1264,877 1264,878 1264,884 1264,884 1260,887 1260,894 1260,896 1261,901 1256,901 1257,899 1251,901 1247,902 1247,899 1241,898 1238,899 1236,901 1233,902 1229,899 1224,898 1219,902 1219,898 1213,900 1210,900 1205,902 1202,901 1200,902 1196,900 1193,899 1186,902 1186,901 1183,899 1180,901 1177,900 1173,898 1166,900 1165,899 1158,902 1155,902 1152,901 1150,899 1146,899 1143,899 1140,899 1134,901 1131,902 1128,899 1126,902 1121,901 1118,902 1114,898 1109,900 1109,899 1104,900 1100,898 1098,901 1092,902 1089,900 1085,901 1083,900 1079,900 1074,902 1072,899 1071,899 1067,900 1060,900 1058,899 1058,902 1052,902 1049,899 1043,900 1040,901 1038,899 1036,902 1031,902 1027,898 1024,899 1022,900 1019,898 1013,898 1008,901 1004,899 1002,902 998,898 997,901 990,902 991,902 987,900 983,898 979,899 974,899 969,902 969,898 964,898 961,898 960,899 954,899 952,898 946,899 944,899 942,899 934,900 931,898 929,900 924,898 922,900 919,901 913,898 910,901 909,898 904,899 903,900 899,898 892,899 891,900 889,902 885,902 883,902 875,899 871,901 870,898 864,900 863,900 859,901 857,901 852,898 851,898 844,898 842,901 836,900 835,901 829,901 827,899 822,902 821,902 817,898 813,898 808,902 804,899 801,901 802,898 795,902 791,899 792,902 785,901 784,899 776,899 776,902 771,900 768,901 762,902 763,898 755,899 752,901 752,900 749,899 742,899 740,898 739,901 732,899 729,899 727,901 725,898 718,899 718,900 713,902 708,899 706,901 704,899 700,900 696,901 691,902 685,899 684,902 679,901 675,899 673,901 670,902 668,899 663,899 661,899 654,899 651,902 650,899 645,902 644,899 641,898 638,899 634,898 629,902 626,900 619,899 620,902 613,899 611,899 606,902 602,901"/>
<polygon fill="#f56666" points="600,900 602,898 601,891 602,891 598,885 601,884 600,881 598,874 602,873 599,869 600,866 599,860 601,859 599,855 599,851 598,847 600,842 599,840 599,837 602,835 599,828 598,828 601,824 602,819 598,814 599,814 598,808 598,804 600,803 602,797 599,793 598,789 598,786 600,784 602,781 598,775 601,776 601,769 599,766 600,762 598,757 602,759 602,752 601,748 598,743 599,744 600,737 600,735 598,731 602,728 602,726 598,723 601,717 598,715 598,710 598,707 602,704 600,701 604,700 605,698 610,701 614,698 614,698 616,698 622,700 622,695 627,697 632,694 631,696 637,693 638,696 642,693 643,695 648,694 652,695 654,692 659,690 661,692 663,691 668,690 668,689 674,692 673,688 677,687 681,688 685,683 689,679 689,676 694,675 694,672 701,671 703,668 705,663 709,659 711,658 713,655 715,653 718,649 721,647 724,646 727,643 731,642 734,636 739,634 743,633 743,633 746,632 748,633 752,634 756,636 759,638 763,639 765,641 766,639 769,644 776,642 779,644 782,646 782,644 786,647 789,644 790,644 797,645 799,647 803,646 804,644 809,647 811,643 814,646 814,644 819,644 820,643 825,643 829,645 830,644 833,646 838,646 841,647 845,649 847,646 848,647 854,647 857,649 856,651 859,651 864,654 867,656 871,662 874,660 876,659 881,660 883,662 886,662 888,661 893,660 896,659 895,662 900,662 903,659 904,662 908,659 912,662 915,659 919,662 920,664 924,663 925,661 931,666 934,667 934,669 937,667 941,669 943,670 946,670 950,670 956,669 956,673 960,672 962,669 966,668 971,668 973,668 974,670 980,666 981,669 984,668 988,664 990,665 995,668 995,669 999,670 1001,671 1006,673 1007,671 1012,671 1015,673 1015,672 1019,669 1022,671 1027,669 1030,671 1030,670 1035,669 1040,665 1041,666 1042,663 1047,661 1050,662 1051,655 1055,648 1059,649 1062,649 1065,649 1070,650 1071,652 1075,650 1079,651 1078,650 1084,649 1087,648 1091,650 1094,645 1095,647 1097,644 1101,643 1102,643 1109,642 1112,643 1114,643 1116,642 1119,644 1124,642 1127,644 1129,647 1132,650 1132,653 1136,654 1139,653 1143,655 1145,654 1148,654 1150,653 1154,655 1156,651 1163,653 1162,653 1168,651 1172,650 1171,646 1174,647 1179,648 1180,644 1183,644 1190,645 1189,643 1192,641 1196,640 1199,639 1199,644 1200,648 1199,648 1200,653 1199,657 1202,662 1201,662 1200,669 1202,673 1198,678 1198,680 1200,684 1202,687 1198,690 1198,692 1198,695 1198,700 1198,702 1201,706 1200,712 1201,715 1202,716 1198,723 1202,723 1202,726 1199,733 1198,737 1199,740 1198,742 1200,746 1202,747 1201,754 1200,755 1201,759 1199,764 1201,768 1200,768 1198,774 1198,778 1198,782 1198,785 1199,790 1200,791 1202,794 1202,797 1198,801 1199,806 1198,811 1201,813 1202,813 1201,821 1198,822 1198,828 1200,831 1199,834 1201,836 1199,838 1201,843 1199,846 1199,849 1200,853 1199,857 1202,862 1199,867 1202,868 1201,873 1200,877 1201,880 1202,882 1198,883 1201,889 1202,895 1199,895 1200,898 1194,898 1192,900 1188,901 1187,902 1183,901 1180,901 1175,900 1174,899 1168,898 1165,898 1161,898 1156,902 1154,902 1152,900 1147,901 1145,898 1141,899 1135,899 1135,902 1129,898 1125,899 1122,902 1119,900 1116,898 1112,900 1107,899 1106,901 1101,898 1099,898 1092,902 1092,902 1087,901 1086,901 1078,899 1077,900 1074,898 1069,898 1066,898 1062,898 1061,899 1056,900 1050,900 1051,899 1046,901 1042,899 1039,901 1035,901 1033,901 1028,898 1023,899 1021,898 1017,898 1014,899 1012,898 1006,901 1005,899 1002,902 997,899 991,901 987,901 985,898 983,899 977,898 977,899 973,901 966,899 965,899 960,902 957,901 954,902 950,898 948,901 946,898 939,900 936,898 932,898 929,898 924,898 924,901 919,902 914,900 914,898 907,900 905,898 903,901 899,900 895,900 892,899 889,900 883,900 882,900 876,900 875,898 872,900 866,900 864,898 858,900 854,900 851,898 848,902 846,899 843,900 836,900 836,902 834,898 828,899 824,902 821,900 819,902 814,900 809,899 805,901 804,898 800,902 798,899 792,900 789,902 788,902 785,898 781,899 774,901 771,899 771,898 763,899 763,902 758,900 753,901 752,899 748,902 743,899 742,901 736,898 732,901 728,900 728,899 721,901 720,901 718,899 712,900 711,899 704,899 703,901 697,902 697,899 693,901 688,899 682,902 680,902 679,902 675,901 672,902 669,902 662,902 658,898 658,900 655,899 647,898 648,902 642,901 636,902 634,898 632,900 628,901 623,901 620,899 620,901 615,901 610,899 607,902 602,901"/>
<polygon fill="#f59999" points="600,902 601,899 600,893 599,888 599,884 601,883 601,880 602,875 601,872 600,867 599,864 600,861 600,858 602,854 602,849 601,847 600,843 599,842 598,837 600,832 599,831 599,826 600,823 600,818 598,812 601,809 600,806 601,803 598,799 599,798 601,795 602,790 598,787 599,783 598,779 599,776 602,771 600,769 601,764 599,762 599,758 601,754 602,750 599,747 602,745 598,738 599,738 601,731 601,731 602,725 602,721 602,717 599,714 605,716 606,715 608,715 610,715 617,714 618,714 620,716 623,713 628,714 629,711 634,711 638,710 641,714 642,713 646,711 647,707 649,706 655,708 659,706 659,707 664,707 664,706 669,704 671,702 676,702 679,698 683,696 686,697 688,694 691,696 692,695 696,694 698,690 701,687 703,686 708,687 709,688 715,684 716,683 722,682 723,683 725,682 727,682 730,680 733,684 740,684 741,682 744,686 748,683 752,688 753,684 757,688 757,687 760,686 766,689 767,686 770,686 774,686 779,684 779,687 783,684 785,685 790,685 793,686 795,683 798,683 800,687 802,687 805,681 808,685 815,682 815,682 820,681 822,682 824,679 829,681 829,679 836,680 838,681 839,677 841,679 846,678 850,675 853,674 855,675 859,673 862,674 865,671 867,670 871,671 872,671 877,672 881,675 883,673 883,676 887,677 892,679 892,678 896,678 899,682 903,680 904,680 910,678 911,679 915,678 920,679 923,678 925,682 927,682 931,682 932,686 937,685 939,688 943,686 944,688 946,689 949,691 953,689 956,688 959,691 963,689 965,690 969,686 973,685 977,688 977,686 983,688 985,687 985,685 990,683 991,685 998,684 1000,684 1004,688 1004,687 1009,686 1013,685 1013,685 1019,689 1019,689 1023,688 1026,687 1029,685 1031,684 1036,687 1037,685 1040,682 1042,681 1048,681 1049,682 1051,680 1056,677 1060,679 1064,679 1066,681 1068,678 1070,681 1072,680 1079,680 1080,682 1083,683 1085,684 1088,687 1092,683 1096,682 1099,685 1103,683 1105,683 1109,682 1112,682 1112,679 1118,681 1118,680 1123,679 1124,678 1127,681 1131,679 1132,682 1135,680 1140,680 1143,680 1148,682 1149,681 1150,683 1157,678 1158,682 1160,686 1160,689 1156,693 1161,695 1160,697 1158,700 1158,707 1159,708 1157,711 1158,715 1158,720 1158,723 1158,726 1158,732 1160,734 1160,736 1157,740 1157,745 1161,748 1157,749 1160,755 1157,761 1160,764 1161,767 1161,771 1157,772 1159,777 1157,778 1160,785 1159,789 1161,792 1157,793 1160,799 1161,799 1160,802 1158,806 1159,810 1160,814 1161,818 1162,820 1157,826 1159,831 1157,831 1158,836 1161,841 1158,843 1161,847 1158,850 1157,854 1158,856 1159,863 1158,862 1158,868 1159,874 1161,874 1158,879 1162,881 1161,885 1162,892 1158,894 1160,896 1160,902 1156,900 1153,898 1151,898 1148,898 1143,899 1140,901 1137,902 1134,898 1127,900 1127,899 1120,900 1117,898 1116,900 1113,898 1107,898 1106,900 1101,898 1097,899 1095,899 1092,899 1087,900 1082,898 1077,902 1078,901 1071,898 1068,898 1065,899 1061,902 1059,902 1054,898 1053,901 1050,899 1046,898 1042,901 1038,901 1034,900 1030,901 1029,899 1024,899 1018,901 1014,902 1011,898 1011,900 1005,900 1005,901 998,902 994,898 993,902 990,899 986,899 980,902 980,902 975,901 970,899 970,901 966,898 960,902 959,902 955,899 951,898 946,898 943,898 939,901 937,902 935,899 928,900 924,902 923,901 919,899 914,901 909,902 906,899 906,902 899,902 898,898 894,899 891,901 889,902 885,901 881,902 878,900 875,902 868,899 867,900 862,900 858,900 856,901 853,898 847,900 846,899 843,899 837,902 833,902 831,898 827,900 822,899 820,900 819,899 815,899 811,898 807,901 805,898 801,898 798,899 794,898 791,900 784,902 783,901 778,899 776,902 773,901 766,900 763,900 762,900 755,899 753,900 749,898 746,900 745,899 742,901 738,902 734,902 728,901 725,898 721,901 717,898 717,902 710,898 706,900 707,898 702,900 699,900 696,898 693,901 686,898 686,901 680,902 678,900 671,900 669,900 666,902 662,898 658,902 656,899 654,902 649,898 645,898 644,901 638,901 637,902 630,900 629,900 625,900 621,900 617,899 614,901 609,900 606,902 601,899"/>
<polygon fill="#f5cccc" points="602,901 599,898 600,891 598,887 599,886 602,884 600,880 601,877 599,873 599,867 599,864 599,862 598,857 601,856 601,851 601,845 602,845 601,838 600,836 602,835 598,832 599,824 600,822 602,817 602,817 599,810 601,806 599,803 599,804 602,798 601,795 601,793 602,790 599,786 599,779 601,775 602,776 602,769 600,764 600,765 598,758 599,755 599,752 598,750 600,746 599,744 601,739 599,737 603,735 606,733 609,733 614,736 613,734 619,735 621,735 623,735 625,733 629,733 632,733 635,735 641,736 644,735 646,735 646,733 649,734 653,732 655,734 659,729 662,730 664,731 669,727 674,727 677,731 678,729 679,725 685,727 685,724 688,726 694,723 696,723 698,722 700,723 707,719 708,720 712,720 713,719 716,719 720,717 725,714 726,714 727,716 730,713 733,716 739,714 741,714 744,713 746,717 749,716 754,715 757,716 759,716 761,713 765,716 768,712 771,716 772,714 776,713 781,712 781,712 788,709 788,710 792,712 795,711 797,710 802,709 802,712 807,711 811,708 811,711 817,708 817,707 822,705 825,707 827,707 833,708 836,705 836,705 842,704 841,706 844,703 851,702 850,700 856,701 856,699 861,696 862,696 866,698 869,697 871,692 874,688 878,693 883,692 886,695 890,696 889,698 896,699 898,697 902,700 904,703 905,699 911,704 910,703 917,704 918,707 919,704 922,707 927,704 932,707 933,708 935,707 941,705 943,708 947,706 947,705 951,709 953,709 956,708 961,710 965,707 965,709 970,708 971,708 976,707 977,707 979,707 984,706 987,703 989,702 991,701 997,701 1001,703 1001,701 1004,703 1006,702 1013,706 1016,706 1018,706 1021,704 1021,705 1028,707 1031,705 1033,707 1036,706 1040,704 1043,702 1046,702 1046,703 1051,702 1053,700 1058,701 1060,702 1060,702 1067,699 1066,703 1070,702 1076,701 1077,701 1082,705 1083,705 1084,706 1091,706 1090,704 1096,706 1098,705 1101,704 1103,701 1109,702 1109,701 1112,701 1114,700 1118,700 1121,697 1127,698 1129,700 1130,696 1135,698 1137,696 1138,694 1143,695 1145,694 1151,691 1149,694 1148,700 1151,701 1151,707 1151,708 1149,712 1150,718 1148,723 1151,723 1148,729 1148,733 1148,736 1148,738 1148,742 1147,744 1149,749 1151,752 1152,754 1150,759 1148,762 1149,766 1149,771 1151,773 1151,777 1147,782 1151,785 1149,789 1152,791 1147,794 1148,798 1150,800 1147,805 1150,809 1151,814 1152,815 1149,819 1148,825 1151,828 1149,830 1150,831 1148,837 1152,838 1149,844 1149,846 1148,850 1148,853 1148,860 1151,861 1149,866 1149,870 1152,871 1150,875 1152,878 1148,881 1152,887 1151,889 1151,893 1150,897 1151,902 1147,902 1141,899 1142,898 1136,899 1133,899 1131,898 1127,902 1122,902 1119,899 1115,898 1111,898 1106,902 1105,902 1101,899 1097,899 1096,898 1089,899 1087,899 1082,901 1082,900 1076,900 1072,898 1068,899 1067,900 1064,898 1058,898 1057,898 1052,900 1050,900 1044,902 1041,898 1038,900 1032,898 1031,901 1027,901 1023,901 1022,900 1019,900 1013,898 1009,901 1008,900 1003,901 997,900 998,898 990,900 989,899 985,902 984,902 977,899 974,902 972,900 966,901 967,899 960,898 959,899 952,902 951,900 946,902 943,901 941,899 939,900 932,899 927,900 928,901 922,899 920,902 914,899 911,902 908,901 906,901 901,898 899,899 896,900 892,901 889,902 886,902 879,901 876,901 874,900 868,898 864,898 865,902 858,900 856,901 850,902 846,898 846,899 842,900 838,900 836,900 833,900 830,898 823,898 818,900 817,898 812,899 812,900 806,900 803,900 798,902 797,901 795,898 787,899 784,898 782,902 779,901 775,902 774,898 769,902 766,900 761,898 757,898 752,901 751,899 748,899 746,899 739,899 739,902 732,902 727,901 726,899 723,899 719,901 715,902 714,898 707,898 704,898 701,898 698,899 697,901 690,900 686,898 686,898 680,899 676,899 672,902 669,901 665,902 665,900 662,901 658,900 650,898 651,902 645,902 644,899 640,901 636,899 629,899 627,900 624,900 620,898 616,901 613,902 612,900 606,901 605,902"/>
<polygon fill="#fd7f12" points="599,899 598,898 599,892 601,889 601,884 600,880 601,878 601,876 598,871 601,869 600,863 599,861 600,858 602,855 600,851 600,845 598,844 600,842 599,836 599,834 601,828 599,827 601,824 599,820 600,817 599,813 602,809 599,804 599,803 599,797 599,794 601,789 599,785 600,784 601,781 599,779 598,772 601,770 600,767 600,762 599,759 598,757 599,752 602,750 601,744 604,743 605,744 610,748 611,746 614,747 616,748 620,745 625,748 628,749 630,747 634,747 635,748 639,749 644,749 643,747 648,745 650,744 655,745 656,747 659,746 664,745 664,742 670,742 671,742 673,742 679,742 680,740 686,740 687,740 690,737 693,736 696,737 700,738 701,740 703,737 707,741 711,740 715,741 718,742 720,747 723,746 725,750 728,752 732,748 736,751 739,748 740,750 746,747 747,747 751,746 752,745 756,742 758,741 761,741 764,739 769,737 773,735 773,737 778,734 779,734 782,733 788,729 790,728 792,730 796,729 797,726 801,725 804,724 806,725 808,722 811,723 814,721 821,723 822,722 825,724 827,722 830,725 834,726 836,726 840,724 844,724 845,724 849,722 854,723 854,721 856,721 859,723 865,726 866,727 871,725 872,727 878,729 877,727 881,729 885,731 889,728 890,730 894,731 896,730 900,726 905,723 907,724 911,724 912,723 916,721 918,724 922,722 925,722 927,725 929,724 933,728 937,727 937,727 942,727 944,730 947,733 949,734 954,734 959,740 962,739 961,744 968,745 968,750 972,752 976,755 979,758 982,758 984,762 987,761 990,762 991,759 995,762 1001,759 1001,759 1005,761 1007,761 1011,760 1013,760 1015,758 1022,759 1022,762 1025,758 1031,760 1033,759 1033,759 1039,760 1042,760 1044,758 1046,754 1050,756 1052,753 1057,751 1057,747 1063,746 1063,745 1069,742 1072,736 1073,733 1076,729 1078,729 1084,727 1085,724 1090,723 1093,725 1097,724 1099,721 1103,722 1104,720 1109,721 1110,721 1114,723 1115,723 1118,722 1123,722 1124,719 1128,718 1131,716 1132,718 1136,717 1141,713 1142,714 1142,716 1144,721 1142,725 1144,730 1143,731 1141,736 1143,741 1142,740 1143,747 1142,748 1142,754 1144,755 1143,759 1141,765 1145,766 1143,772 1143,775 1146,777 1145,780 1146,783 1142,789 1143,791 1145,793 1143,799 1143,802 1143,806 1145,807 1145,814 1143,817 1143,821 1146,824 1144,826 1143,832 1146,834 1146,836 1143,840 1147,844 1146,848 1144,851 1143,854 1147,860 1145,862 1144,866 1146,867 1147,871 1143,873 1144,880 1144,884 1146,884 1146,888 1146,891 1146,896 1146,898 1141,900 1136,900 1137,898 1133,899 1129,901 1124,901 1122,900 1118,900 1113,902 1108,902 1107,899 1105,898 1100,902 1097,902 1093,901 1091,902 1085,899 1081,898 1080,900 1077,898 1071,900 1067,901 1063,898 1062,900 1056,901 1052,899 1050,902 1047,900 1044,902 1039,899 1036,898 1031,901 1029,899 1023,902 1023,901 1019,900 1017,902 1013,901 1009,902 1003,900 1001,899 998,900 996,900 990,900 985,898 981,902 981,901 975,901 971,900 969,901 964,902 963,902 957,901 957,902 950,899 950,901 943,900 940,901 936,901 934,898 929,901 929,902 921,902 921,900 914,901 913,899 910,898 908,902 903,902 897,900 897,902 892,898 888,900 885,899 880,899 877,902 873,899 873,898 865,900 864,901 862,902 855,901 852,900 851,898 846,902 842,901 840,899 834,901 830,902 828,900 823,900 821,901 816,899 815,901 812,898 809,900 805,902 802,899 796,900 793,898 790,902 785,901 783,899 781,898 777,898 774,899 770,901 766,901 761,900 759,901 754,899 752,898 748,900 745,899 739,901 736,898 732,902 730,898 725,900 723,898 720,900 716,898 710,901 707,900 705,902 702,898 697,901 694,900 691,899 687,901 684,899 680,902 679,901 675,899 671,901 669,899 661,900 661,899 658,899 653,902 651,899 647,898 642,898 640,900 633,902 632,902 630,900 624,901 621,899 615,901 616,901 611,901 606,899 605,902"/>
<polygon fill="#fd9431" points="700,900 701,896 700,891 700,891 699,887 701,883 699,878 700,877 698,870 699,869 698,864 699,862 700,856 700,855 702,850 701,848 701,843 701,838 700,835 700,830 699,829 701,827 702,822 701,817 698,813 701,811 698,806 701,806 700,800 702,797 701,793 701,789 698,787 701,780 702,778 700,773 701,775 707,772 709,769 713,770 713,765 719,765 722,761 724,760 725,760 729,759 734,756 738,759 738,755 743,756 747,755 749,754 749,754 753,753 756,754 762,753 762,749 767,750 771,748 773,751 774,748 777,746 783,747 785,744 789,746 791,744 792,745 796,744 798,742 800,742 804,745 809,743 809,742 816,744 819,742 821,741 824,742 826,740 828,740 832,740 834,741 838,740 840,741 845,741 848,739 849,741 854,743 857,742 859,741 862,742 864,743 870,747 870,745 872,747 876,748 879,747 884,747 888,748 889,747 892,748 896,747 897,750 899,751 903,752 906,751 912,750 913,752 918,752 921,754 924,751 925,754 928,752 931,756 934,753 936,757 940,754 942,757 945,757 949,759 951,757 955,757 958,759 963,759 964,759 965,759 970,762 974,763 974,765 981,762 981,765 983,765 987,767 989,765 992,763 998,766 998,767 1001,764 1005,764 1009,763 1013,766 1017,766 1016,764 1019,767 1024,766 1028,766 1032,764 1032,765 1036,765 1038,764 1043,763 1046,763 1048,767 1050,764 1053,760 1057,762 1060,760 1062,757 1068,752 1070,750 1072,748 1077,746 1078,747 1081,743 1084,742 1087,742 1089,743 1091,743 1096,744 1097,741 1103,743 1104,746 1108,743 1111,745 1112,745 1117,744 1122,744 1123,744 1126,747 1128,745 1131,745 1134,747 1140,743 1142,747 1145,747 1146,747 1151,746 1150,750 1152,751 1148,756 1148,761 1152,765 1148,766 1148,771 1148,771 1149,775 1152,782 1151,785 1150,786 1149,789 1148,793 1150,796 1150,801 1149,803 1150,810 1151,813 1149,814 1151,817 1150,822 1149,824 1149,830 1150,834 1151,839 1149,839 1149,842 1149,847 1150,850 1151,855 1152,858 1150,862 1152,864 1152,868 1151,873 1149,876 1150,877 1149,884 1149,884 1151,889 1150,891 1150,896 1150,900 1147,902 1141,898 1139,898 1134,901 1134,898 1128,899 1125,902 1120,900 1118,899 1114,901 1112,901 1109,899 1103,898 1102,901 1098,900 1093,898 1090,898 1086,901 1084,902 1081,901 1078,898 1074,901 1069,898 1066,902 1063,902 1060,898 1055,902 1053,900 1048,900 1044,899 1041,900 1036,899 1035,900 1030,900 1026,902 1023,900 1019,900 1016,900 1011,899 1009,901 1007,898 1002,899 999,902 997,901 994,900 989,898 986,899 981,899 978,900 976,900 972,899 967,900 963,900 958,898 956,901 953,901 948,899 948,898 941,900 939,902 937,900 932,900 931,898 925,901 922,898 919,902 916,899 913,898 905,901 905,901 901,898 895,901 895,899 891,899 886,901 884,901 878,901 877,901 873,900 868,902 867,899 862,901 858,899 854,898 853,900 850,899 846,901 841,898 835,900 832,901 829,902 827,898 825,901 818,899 817,902 812,901 811,902 806,901 800,901 800,899 796,899 793,899 788,901 783,898 780,900 778,902 776,898 771,898 765,898 765,901 760,900 757,898 753,902 747,901 744,900 741,898 737,900 737,898 731,899 728,899 724,902 720,901 719,900 715,900 713,898 708,901 704,902"/>
<polygon fill="#fdab50" points="713,900 716,895 715,894 716,889 716,888 714,881 716,880 715,877 717,872 715,867 713,864 715,860 714,859 716,854 713,852 717,848 716,844 714,840 713,836 714,831 716,829 714,827 716,823 717,818 715,814 716,813 713,808 713,806 715,800 716,799 717,794 713,790 714,788 714,785 714,782 720,778 719,777 725,773 728,770 729,769 732,770 738,770 741,768 741,768 746,768 747,770 751,768 755,767 756,769 760,769 764,768 765,768 768,765 771,766 775,765 779,766 783,766 785,767 787,766 788,767 795,767 794,765 798,765 801,765 805,768 807,769 812,768 815,767 817,769 818,771 822,770 827,771 828,774 833,773 834,772 837,776 842,774 845,774 847,777 848,776 855,774 856,778 860,777 862,777 866,779 869,776 870,778 875,779 876,777 878,779 881,777 886,780 891,778 891,778 894,778 899,781 902,781 903,782 907,779 911,779 911,781 915,782 920,779 924,780 925,779 930,780 930,779 933,779 939,780 941,781 941,780 947,778 951,780 950,782 955,781 960,778 960,780 963,781 966,780 970,781 973,780 977,780 981,779 980,781 987,778 987,781 992,780 995,781 997,780 999,779 1004,781 1005,778 1011,777 1012,778 1016,776 1019,776 1020,777 1025,776 1028,775 1029,776 1031,778 1036,777 1039,776 1040,777 1044,776 1049,774 1050,775 1055,776 1057,773 1060,774 1064,774 1067,772 1070,773 1073,770 1075,773 1078,770 1079,772 1082,770 1087,769 1090,771 1091,767 1097,766 1099,762 1101,764 1105,762 1108,762 1111,765 1115,762 1118,763 1118,764 1123,763 1128,765 1127,766 1134,763 1134,763 1137,765 1139,767 1145,764 1148,765 1151,764 1155,766 1154,769 1154,770 1155,776 1152,779 1154,784 1152,786 1155,788 1153,795 1154,797 1153,799 1155,803 1152,810 1152,811 1155,815 1153,819 1153,823 1154,827 1155,828 1156,832 1153,835 1153,838 1153,843 1155,848 1155,852 1156,855 1154,856 1155,860 1156,863 1156,867 1155,872 1155,876 1156,877 1156,884 1156,886 1155,888 1155,892 1154,898 1154,899 1153,900 1149,899 1146,900 1142,900 1137,899 1132,900 1129,902 1126,899 1123,900 1122,898 1116,900 1113,901 1109,901 1106,899 1102,899 1097,902 1096,898 1093,900 1088,901 1084,901 1082,901 1076,898 1075,900 1070,902 1067,902 1062,901 1062,899 1055,900 1052,900 1048,898 1044,898 1042,901 1039,899 1036,902 1034,899 1029,898 1026,899 1022,902 1018,899 1012,901 1011,901 1005,899 1003,899 999,899 998,901 994,899 989,902 985,898 984,899 981,899 974,899 973,901 969,900 965,899 963,900 956,900 954,899 953,901 947,902 943,899 942,898 938,899 932,902 931,899 925,901 924,899 917,899 916,899 913,900 907,900 904,901 903,899 897,900 893,898 891,899 888,900 883,902 881,901 878,899 872,899 870,901 865,899 861,901 861,900 856,900 852,899 847,899 845,899 842,899 838,902 834,902 829,902 830,902 826,902 821,901 816,901 812,901 811,901 808,899 804,902 800,901 795,900 793,900 789,899 783,900 783,902 777,902 774,902 771,901 768,901 763,899 762,898 758,902 754,900 751,901 746,898 742,901 739,899 736,899 733,902 729,901 724,902 723,898 717,900"/>
<polygon fill="#fec26f" points="724,898 724,898 725,894 725,888 727,888 725,884 726,879 723,877 723,872 724,869 725,863 725,860 725,860 726,856 725,851 725,846 724,844 725,842 726,836 727,834 723,830 724,826 725,824 726,821 725,814 725,814 724,811 723,806 724,802 724,799 724,797 730,793 730,790 733,789 738,783 739,785 742,783 745,782 750,782 750,782 753,784 759,782 763,784 764,781 768,781 772,784 774,782 777,785 781,783 781,785 785,785 789,783 791,786 796,784 796,786 799,785 804,789 806,787 809,788 812,788 814,789 818,793 822,790 823,792 825,792 828,791 835,792 835,791 840,793 843,792 845,793 846,794 851,795 855,795 857,794 860,794 863,797 866,795 870,795 873,798 874,796 878,796 881,798 885,797 888,797 890,799 892,799 895,800 900,798 902,799 906,801 909,802 913,800 912,801 919,802 920,798 923,799 925,799 930,802 933,800 937,802 938,800 940,799 945,799 947,801 950,798 953,798 956,799 960,800 962,801 967,800 969,799 973,798 975,800 975,799 980,799 983,802 987,802 989,799 990,800 995,801 997,799 1002,802 1004,801 1005,800 1011,798 1014,800 1014,801 1021,799 1021,800 1023,802 1029,800 1029,799 1032,799 1037,799 1040,801 1041,802 1047,800 1047,802 1052,798 1056,799 1057,796 1063,798 1066,797 1067,797 1068,794 1074,794 1077,794 1078,794 1080,792 1083,789 1086,788 1091,788 1094,789 1096,785 1102,788 1105,787 1106,783 1111,786 1111,783 1113,783 1117,782 1120,784 1124,781 1127,782 1128,782 1132,781 1138,784 1139,784 1142,783 1145,781 1147,784 1152,784 1156,781 1155,783 1160,781 1159,786 1161,788 1159,792 1159,797 1158,799 1161,802 1160,809 1162,811 1161,815 1160,816 1160,819 1158,825 1162,828 1160,831 1160,837 1162,837 1159,843 1160,848 1161,850 1159,854 1160,858 1158,860 1159,864 1160,869 1160,870 1160,875 1158,879 1160,883 1161,887 1158,889 1159,893 1162,896 1161,898 1155,900 1155,901 1151,902 1145,902 1141,900 1138,898 1135,901 1133,899 1128,902 1125,901 1123,898 1116,901 1116,899 1112,901 1107,901 1105,900 1101,899 1095,898 1095,902 1091,901 1086,898 1084,900 1080,901 1075,902 1073,900 1068,900 1067,899 1061,901 1059,900 1056,900 1050,899 1047,899 1043,902 1040,899 1036,900 1032,900 1029,900 1025,899 1025,898 1020,901 1017,899 1012,900 1010,902 1006,899 1000,900 1000,899 996,901 990,899 988,899 983,901 980,900 980,898 973,898 970,901 968,899 963,900 960,898 958,901 954,898 950,899 948,899 941,900 939,900 936,900 932,902 927,900 923,901 920,900 919,898 913,900 911,899 907,902 904,899 901,899 895,898 895,902 889,901 887,899 885,902 878,899 877,900 871,898 870,902 865,901 862,902 857,900 855,902 853,901 848,899 846,901 843,899 837,900 833,902 830,901 827,902 825,899 822,901 817,901 812,899 808,899 806,901 802,901 799,902 797,898 793,899 790,898 784,898 782,898 776,900 773,898 772,901 767,901 764,901 758,898 757,899 753,901 750,899 748,900 742,900 737,900 736,899 733,900 730,900"/>
<polygon fill="#fed98e" points="733,902 734,898 736,892 735,890 737,884 734,880 735,878 734,875 737,870 735,867 735,863 734,860 737,857 737,851 734,851 733,846 734,841 735,840 735,833 734,834 736,828 734,824 733,820 736,817 736,815 736,809 738,805 740,802 742,800 747,797 751,797 752,797 756,798 758,799 763,800 766,799 770,798 772,801 772,801 776,800 778,801 784,799 785,801 791,798 791,801 794,801 798,804 802,803 805,807 806,804 812,804 812,808 817,805 819,808 821,808 824,807 830,808 831,810 836,810 837,807 839,807 842,808 847,810 847,811 853,810 857,809 856,809 860,812 865,810 868,812 870,811 873,814 876,811 879,813 883,813 884,814 888,814 893,816 893,815 896,814 898,816 902,816 906,816 910,814 913,816 915,816 917,813 921,813 923,817 928,816 930,814 933,813 937,816 937,814 942,815 946,813 949,816 950,813 953,814 957,814 958,814 961,813 967,815 968,814 972,815 975,814 978,816 982,816 985,815 985,817 991,815 992,813 994,817 999,815 1004,815 1004,815 1008,815 1012,813 1015,816 1019,814 1018,817 1022,816 1028,816 1028,815 1032,814 1035,817 1038,815 1041,814 1045,813 1047,815 1052,814 1055,815 1054,814 1058,815 1063,815 1063,813 1069,811 1070,813 1075,811 1076,810 1080,812 1081,810 1086,811 1087,812 1092,810 1096,809 1098,809 1102,809 1102,808 1105,810 1108,807 1114,807 1114,806 1119,806 1123,805 1127,806 1127,805 1131,804 1136,804 1138,806 1141,804 1142,807 1145,806 1148,808 1152,806 1156,806 1156,807 1161,808 1163,807 1168,806 1167,813 1166,816 1166,819 1165,824 1169,828 1168,829 1168,834 1169,836 1167,839 1167,844 1166,847 1166,852 1166,854 1169,859 1166,862 1167,867 1167,869 1168,872 1168,875 1169,879 1167,881 1168,886 1167,889 1170,893 1167,897 1166,899 1166,898 1160,899 1156,898 1154,900 1148,901 1147,901 1142,901 1142,902 1136,898 1132,901 1129,900 1126,900 1121,901 1119,900 1115,900 1112,901 1109,900 1106,901 1102,898 1099,900 1093,901 1089,900 1085,901 1085,901 1080,901 1075,900 1073,899 1071,902 1066,898 1062,901 1059,901 1056,901 1053,902 1048,901 1046,899 1043,898 1038,898 1036,901 1029,899 1028,899 1022,899 1020,900 1016,899 1015,898 1008,899 1006,901 1002,902 999,898 994,900 990,901 989,899 987,902 981,899 978,899 976,899 971,900 969,900 962,898 960,900 956,901 953,900 948,898 946,901 942,902 937,898 935,899 931,899 931,899 927,902 921,901 919,901 915,900 909,901 908,902 905,900 901,899 896,899 894,899 889,901 888,899 885,899 879,901 877,901 874,900 869,898 865,898 863,899 859,898 856,899 849,899 848,900 843,900 839,899 836,902 832,901 831,898 828,901 824,898 818,901 818,901 811,901 807,899 805,901 801,899 799,899 794,898 790,901 786,900 783,901 780,900 778,902 772,900 771,898 765,899 763,898 758,900 757,902 754,898 747,900 746,899 742,902 738,900"/>
<polygon fill="#9a860b" points="745,900 746,897 745,893 745,890 745,885 746,882 744,879 744,876 744,873 745,868 746,865 745,861 744,858 745,856 745,851 746,848 745,843 746,840 744,837 745,833 745,829 749,828 751,825 753,822 758,820 760,822 764,822 765,822 768,821 773,824 776,824 778,823 781,825 785,825 786,827 790,828 793,829 795,831 798,833 802,835 804,837 809,838 810,841 815,841 817,840 819,841 822,842 825,842 829,842 832,843 836,843 838,842 840,843 843,844 847,843 851,844 854,844 856,846 859,845 863,845 865,846 867,847 871,846 874,848 878,846 881,849 882,848 887,849 890,849 891,850 895,849 898,849 902,849 905,849 906,850 910,850 913,850 916,851 919,851 922,850 924,850 928,849 931,850 933,851 937,851 939,851 943,849 946,849 949,851 952,849 956,850 958,851 960,849 963,850 966,851 969,851 974,851 977,850 979,850 981,850 985,850 987,849 990,849 993,849 997,850 1001,849 1004,851 1006,849 1009,849 1011,850 1015,851 1018,850 1022,850 1024,850 1026,849 1029,851 1033,849 1037,849 1038,850 1043,850 1046,851 1049,851 1052,850 1055,851 1057,850 1060,850 1063,851 1066,849 1069,850 1073,850 1074,849 1077,850 1081,850 1083,851 1088,849 1090,851 1092,849 1095,850 1100,851 1102,845 1104,840 1107,835 1112,829 1114,824 1118,824 1120,824 1124,827 1126,827 1129,830 1133,833 1134,834 1139,837 1141,835 1143,834 1148,832 1150,828 1151,825 1151,822 1152,817 1154,814 1156,812 1159,812 1162,811 1165,812 1169,812 1169,816 1168,820 1169,822 1167,825 1168,829 1168,834 1168,836 1167,841 1168,844 1169,846 1167,852 1169,855 1169,858 1167,861 1169,864 1168,868 1169,872 1168,874 1168,879 1167,882 1167,885 1169,890 1167,893 1168,898 1169,901 1164,901 1161,899 1157,900 1153,899 1150,899 1146,900 1143,900 1141,900 1136,900 1134,899 1130,901 1127,899 1123,900 1118,899 1116,900 1111,900 1108,901 1105,900 1101,901 1098,900 1093,900 1090,900 1088,900 1083,900 1079,901 1076,901 1073,900 1069,901 1066,899 1062,899 1059,901 1054,899 1051,900 1049,899 1045,900 1041,900 1039,901 1035,900 1032,901 1027,900 1023,899 1020,899 1015,901 1012,901 1009,899 1006,899 1002,900 998,899 995,901 991,901 988,900 984,900 981,900 978,901 974,900 970,900 968,899 963,899 959,900 957,900 954,900 950,899 945,900 941,900 938,901 935,901 931,901 929,900 925,899 921,900 918,901 915,901 910,900 907,901 903,901 901,900 897,901 893,901 888,901 885,900 882,900 880,899 875,901 872,900 869,901 864,900 862,899 858,900 854,901 851,901 848,901 845,901 839,899 837,900 833,901 829,900 827,900 823,899 820,900 817,900 812,900 809,901 805,899 801,900 798,900 794,900 790,901 787,901 785,900 780,901 776,901 773,900 770,900 767,900 762,899 759,900 755,900 752,900 748,900"/>
<polygon fill="#bdb005" points="761,899 759,897 761,893 760,888 760,886 759,882 760,879 759,875 760,871 760,867 761,863 760,860 760,856 761,853 760,849 760,844 763,843 767,841 770,839 773,838 775,835 777,836 781,837 783,837 788,837 790,839 794,840 796,842 799,843 803,845 806,846 807,846 810,846 815,848 816,848 819,847 824,848 826,850 828,850 832,850 836,850 838,851 840,851 844,851 847,852 850,853 853,853 855,854 860,855 862,854 865,855 868,854 871,856 874,856 878,856 881,857 883,857 886,858 889,858 891,859 895,858 898,861 901,861 904,859 906,859 911,859 913,859 915,861 920,861 922,859 926,861 928,860 931,859 935,859 937,860 940,861 942,860 946,860 949,861 953,860 955,860 958,860 960,861 965,860 967,860 970,860 972,860 976,861 978,861 983,861 985,860 987,861 991,859 994,859 998,859 1001,860 1004,860 1005,861 1009,859 1011,859 1015,860 1018,861 1021,860 1024,861 1028,860 1030,859 1032,859 1036,860 1038,860 1043,861 1046,861 1048,860 1050,861 1054,859 1058,860 1060,859 1062,860 1065,860 1069,860 1073,861 1076,859 1078,860 1081,860 1083,860 1088,860 1089,860 1092,860 1097,861 1099,860 1102,860 1105,860 1108,860 1110,860 1114,860 1117,860 1120,860 1122,857 1127,855 1129,853 1133,851 1134,847 1138,846 1140,846 1143,845 1148,840 1150,839 1152,835 1155,833 1158,829 1162,827 1165,826 1167,826 1168,829 1169,834 1168,837 1168,840 1167,844 1168,847 1168,851 1167,853 1168,858 1168,861 1169,864 1167,868 1167,872 1168,876 1168,879 1168,883 1168,886 1169,889 1167,893 1168,897 1169,901 1164,899 1162,900 1157,900 1153,900 1150,901 1148,901 1144,899 1140,900 1135,900 1132,901 1129,899 1125,900 1122,900 1119,900 1116,899 1112,900 1108,901 1105,899 1102,899 1097,900 1095,901 1091,900 1088,900 1083,901 1080,901 1076,901 1073,901 1070,899 1066,900 1063,900 1058,900 1056,900 1052,900 1049,899 1045,900 1042,901 1038,900 1035,901 1030,899 1028,900 1023,900 1020,900 1016,900 1013,899 1010,900 1007,899 1002,901 999,900 996,900 992,900 989,899 986,900 982,901 978,899 975,900 971,901 967,899 963,901 961,900 957,901 954,899 951,901 946,899 943,899 938,900 937,899 932,901 929,901 926,899 921,900 918,900 915,899 911,901 909,900 903,899 900,900 898,900 894,901 890,900 887,899 882,901 880,901 876,900 873,901 869,901 866,900 862,901 859,900 854,900 851,901 847,900 845,901 841,900 837,899 834,899 831,901 826,900 823,901 820,901 816,899 813,901 810,901 805,900 803,900 800,900 795,900 792,901 789,901 785,900 781,900 777,900 774,900 771,899 767,900 763,900"/>
<polygon fill="#dfd800" points="1130,901 1130,897 1131,893 1130,888 1130,885 1130,881 1131,878 1129,873 1130,870 1133,866 1137,861 1138,858 1143,857 1145,857 1149,855 1152,850 1154,846 1156,844 1159,842 1163,840 1166,839 1166,843 1167,846 1166,851 1167,853 1166,856 1167,861 1166,865 1168,867 1167,871 1168,876 1168,878 1167,882 1168,886 1168,890 1168,893 1168,897 1168,900 1164,901 1160,899 1157,901 1153,900 1149,899 1145,900 1141,900 1138,900 1134,901"/>
<polygon fill="#ff85e0" points="1048,517 1053,516 1051,514 1053,512 1056,507 1060,505 1063,500 1063,504 1071,504 1071,505 1076,506 1083,506 1087,510 1090,507 1093,510 1098,510 1103,509 1103,509 1105,510 1110,514 1109,510 1111,507 1114,506 1116,503 1119,497 1121,493 1124,492 1125,490 1129,489 1134,486 1140,487 1139,485 1141,481 1145,477 1146,475 1153,479 1157,481 1159,482 1161,485 1158,490 1158,489 1157,496 1152,499 1153,500 1147,500 1145,506 1144,510 1141,514 1139,519 1135,524 1134,524 1133,530 1128,533 1125,537 1125,538 1119,537 1118,541 1113,546 1112,547 1109,549 1107,551 1103,556 1099,560 1099,560 1092,560 1092,563 1087,566 1083,566 1080,569 1077,570 1076,577 1070,579 1070,581 1067,579 1060,582 1058,580 1053,581 1047,578 1051,576 1053,570 1054,565 1053,561 1053,560 1054,559 1052,556 1046,552 1043,550 1039,550 1038,549 1035,545 1031,546 1028,542 1025,535 1031,535 1031,531 1036,533 1040,529 1047,533 1046,529 1049,527"/>
<polygon fill="#ff85e0" points="1054,520 1057,520 1060,513 1062,511 1065,510 1066,506 1071,505 1074,510 1075,510 1082,508 1087,513 1088,515 1094,514 1097,510 1100,512 1106,513 1108,514 1107,520 1111,514 1114,514 1115,512 1117,507 1117,503 1121,503 1125,499 1125,497 1131,493 1133,491 1135,492 1142,493 1142,487 1145,484 1150,480 1151,483 1155,486 1158,484 1158,489 1153,493 1151,495 1148,501 1148,501 1147,502 1143,508 1142,510 1136,514 1135,517 1135,522 1131,523 1131,527 1126,530 1126,532 1122,536 1120,537 1117,538 1116,544 1112,545 1105,546 1103,551 1102,552 1098,556 1095,554 1094,556 1089,559 1087,561 1084,563 1079,557 1074,555 1072,552 1072,552 1069,549 1066,544 1066,540 1063,540 1059,538 1058,534 1056,529 1056,528"/>
<polygon fill="#ff59ec" points="1074,512 1079,514 1081,516 1085,515 1089,519 1095,520 1098,517 1103,518 1107,521 1107,524 1111,531 1109,531 1106,535 1101,540 1095,541 1092,542 1087,546 1084,544 1083,542 1078,541 1079,537 1074,534 1073,528 1072,524 1073,523 1072,517"/>
<polygon fill="#ffb3d9" points="1047,519 1051,518 1052,517 1052,510 1055,507 1058,505 1062,502 1063,504 1071,506 1071,508 1075,509 1082,514 1078,515 1074,518 1073,519 1071,522 1066,526 1065,529 1062,531 1056,533 1051,533 1050,530 1051,527"/>
<polygon fill="#ffb3d9" points="1028,541 1029,539 1032,539 1040,535 1042,533 1045,534 1046,534 1053,536 1055,542 1054,544 1058,549 1055,554 1055,556 1057,560 1054,557 1052,555 1045,553 1041,549 1040,551 1032,550 1031,546 1026,545"/>
<polygon fill="#ffb3d9" points="1100,510 1104,511 1108,516 1110,516 1111,512 1113,512 1114,509 1115,504 1117,501 1122,504 1120,510 1117,512 1118,519 1114,522 1110,521 1106,524 1108,523 1103,517 1104,514"/>
<polygon fill="#e0c0e8" points="1139,487 1140,487 1143,484 1146,482 1151,482 1153,483 1157,485 1163,486 1160,492 1158,496 1155,498 1151,498 1146,502 1144,498 1141,497 1138,493"/>
<polygon fill="#e0c0e8" points="1079,479 1081,478 1087,478 1091,479 1095,482 1096,486 1101,485 1104,489 1105,495 1103,495 1098,494 1095,494 1091,493 1086,491 1084,492 1082,487 1080,485"/>
<polygon fill="#ffffff" points="1130,535 1126,536 1125,534 1121,528 1124,526 1126,524 1130,519 1132,517 1133,513 1137,509 1137,506 1140,504 1140,500 1148,499 1149,495 1152,493 1157,492 1159,489 1163,488 1165,485 1171,486 1175,485 1179,488 1185,486 1189,484 1194,484 1197,482 1195,487 1192,491 1192,495 1187,496 1187,499 1182,499 1181,504 1177,507 1172,508 1171,511 1171,515 1167,517 1165,520 1161,522 1161,528 1159,531 1157,533 1153,538 1154,539 1149,540 1144,543 1142,545 1137,546 1133,546 1129,542"/>
<polygon fill="#ffffff" points="1098,561 1101,559 1106,555 1108,556 1110,550 1114,548 1115,549 1119,547 1123,541 1126,540 1128,541 1134,543 1129,548 1127,548 1123,550 1121,553 1120,556 1114,557 1113,563 1111,564 1107,568 1100,570 1101,566"/>
<polygon fill="#ffb3d9" points="1160,538 1163,535 1168,532 1167,527 1169,526 1170,521 1177,517 1179,515 1181,513 1180,513 1184,506 1187,508 1190,504 1192,500 1194,497 1201,496 1204,493 1207,493 1209,492 1215,488 1216,492 1218,499 1221,501 1214,499 1211,503 1208,504 1206,510 1204,514 1203,517 1199,520 1199,521 1198,525 1196,527 1196,530 1190,528 1184,528 1184,527 1182,532 1180,538 1179,543 1173,543 1173,548 1171,552 1166,553 1161,556 1157,558 1155,559 1156,563 1152,563 1147,564 1143,563 1141,561 1148,555 1146,552 1149,548 1154,547 1156,547 1157,544"/>
<polygon fill="#ff85e0" points="1165,536 1168,535 1165,529 1170,531 1170,523 1175,523 1179,517 1180,516 1181,515 1187,511 1190,508 1192,506 1193,504 1198,498 1202,499 1207,497 1211,494 1210,499 1204,501 1200,506 1196,509 1194,514 1196,517 1191,520 1187,521 1182,527 1182,527 1179,530 1178,536 1178,537 1171,541 1172,541 1169,546 1164,545 1162,549 1161,544 1161,542"/>
<polygon fill="#ffffff" points="1173,522 1177,520 1180,516 1183,513 1186,510 1187,509 1190,504 1193,502 1195,499 1195,507 1190,510 1190,511 1185,515 1183,520 1180,522 1177,524 1176,526 1170,530 1174,525"/>
<polygon fill="#ffffff" points="1153,549 1156,546 1160,545 1161,541 1168,540 1164,544 1161,546 1158,549 1155,552"/>
<polygon fill="#ffb3d9" points="1034,602 1038,602 1039,598 1039,592 1044,592 1045,589 1045,587 1049,583 1050,582 1057,576 1059,575 1062,575 1067,573 1067,571 1073,568 1078,571 1080,567 1083,566 1090,564 1093,566 1094,565 1101,563 1105,562 1105,561 1110,563 1115,561 1117,561 1124,560 1124,562 1129,563 1136,566 1138,566 1140,568 1139,571 1133,570 1130,574 1130,574 1123,578 1120,581 1119,584 1117,584 1116,587 1111,591 1107,594 1106,596 1102,595 1098,597 1095,600 1095,600 1091,606 1088,608 1086,606 1080,612 1078,615 1075,613 1070,612 1067,615 1065,607 1064,604 1062,604 1055,604 1051,606 1048,610 1042,608 1041,605"/>
<polygon fill="#ff59ec" points="1042,599 1044,593 1045,592 1049,587 1051,585 1053,583 1058,579 1062,579 1065,576 1066,576 1068,579 1063,583 1061,584 1058,587 1058,591 1053,593 1048,597 1047,598 1043,605 1043,600"/>
<polygon fill="#ffffff" points="1071,604 1077,599 1077,597 1080,592 1086,593 1087,591 1093,589 1097,585 1100,582 1101,581 1105,579 1111,579 1111,577 1115,574 1118,572 1123,568 1126,568 1129,566 1135,563 1132,564 1130,570 1127,572 1125,575 1120,577 1117,579 1116,582 1113,585 1107,586 1107,588 1103,589 1102,593 1098,594 1096,596 1091,600 1088,599 1085,604 1080,605 1073,606"/>
<polygon fill="#ffffff" points="1104,582 1108,579 1109,577 1112,577 1114,572 1119,570 1121,567 1125,564 1129,565 1131,564 1135,562 1141,562 1144,563 1149,560 1147,563 1145,565 1141,567 1137,571 1134,572 1132,575 1129,575 1125,579 1121,580 1118,584 1115,585 1109,584"/>
<polygon fill="#b36b5b" points="1054,583 1057,581 1063,580 1066,578 1069,577 1073,574 1078,571 1083,573 1086,570 1087,568 1091,569 1095,567 1101,567 1106,564 1111,565 1108,564 1105,568 1101,570 1101,573 1098,576 1092,577 1087,579 1084,581 1082,583 1080,586 1077,587 1071,588 1070,590 1064,592 1062,592 1059,594 1057,591 1058,588"/>
<polygon fill="#ffb3d9" points="1065,608 1069,607 1074,606 1077,606 1080,606 1085,606 1089,606 1093,607 1089,612 1088,614 1084,616 1080,615 1078,615 1072,618 1069,617 1069,616 1067,610"/>
<polygon fill="#ff59ec" points="1263,462 1268,459 1270,458 1274,458 1278,455 1282,456 1285,452 1289,450 1290,452 1291,457 1290,460 1292,464 1292,469 1292,473 1291,473 1290,479 1287,481 1285,484 1284,487 1283,491 1281,494 1278,499 1271,499 1270,502 1266,498 1263,493 1261,490 1258,485 1259,481 1265,480 1265,475 1268,473 1270,468 1274,470 1271,466 1264,464"/>
<polygon fill="#ff2df7" points="1268,469 1272,467 1276,465 1279,463 1285,465 1288,467 1286,469 1286,475 1284,479 1285,483 1281,486 1280,487 1275,490 1270,489 1268,484 1268,479 1268,476 1269,471"/>
<polygon fill="#cc9184" points="651,714 655,713 659,712 663,714 665,718 669,720 673,723 672,726 669,729 669,732 662,732 659,735 656,736 654,731 650,729 648,727 648,722 648,718"/>
<polygon fill="#fa3333" points="640,700 644,700 649,699 651,702 654,705 655,709 652,714 647,717 644,712 641,710 642,704"/>
<polygon fill="#ffb3d9" points="887,553 891,546 889,541 896,543 898,540 902,538 904,539 904,531 906,533 908,525 911,522 915,521 918,514 920,514 921,509 923,503 927,502 930,504 934,503 939,504 942,508 944,509 940,512 945,516 947,520 946,527 952,532 947,535 951,537 950,545 946,545 940,544 935,545 936,549 929,549 925,547 920,551 919,550 917,553 914,551 910,551 903,552 899,553 896,556 891,555"/>
<polygon fill="#ffb3d9" points="865,509 869,506 874,506 874,500 880,502 885,502 887,502 892,500 896,501 898,506 900,512 897,513 892,515 888,514 883,514 882,515 877,517 872,515 868,513 867,511"/>
<polygon fill="#ff85e0" points="923,511 927,512 933,509 936,514 934,519 938,523 936,526 934,528 928,534 926,531 924,527 922,526 921,522 923,517 924,514"/>
<polygon fill="#ffb3d9" points="874,579 879,577 884,577 888,577 891,579 893,580 895,583 892,585 887,586 885,589 882,587 879,586 877,581"/>
<polygon fill="#ffb3d9" points="973,511 977,510 981,510 980,514 980,519 974,519 974,513"/>
<polygon fill="#ffffff" points="0,0 698,0 698,552 677,552 676,684 601,684 601,900 0,900"/>
<polygon fill="#b3b3b3" points="426,231 428,231 433,230 434,231 439,230 441,229 448,229 451,229 454,230 457,228 461,230 463,230 466,229 469,230 473,231 479,229 483,228 485,231 489,230 491,231 496,230 498,229 503,229 507,230 509,230 513,230 516,229 519,230 523,229 527,230 530,229 534,231 537,229 540,230 545,230 549,231 553,232 556,229 558,231 564,231 566,229 569,230 573,230 577,229 580,230 582,229 587,230 590,231 595,230 598,231 602,230 604,229 609,229 611,229 616,230 619,228 621,231 624,230 628,229 631,231 636,229 640,230 643,229 645,229 649,231 653,229 658,229 661,230 665,229 668,229 673,231 673,229 679,230 681,230 684,230 688,232 691,230 695,230 699,231 702,231 706,229 710,230 713,229 717,229 721,229 723,229 728,229 730,230 734,231 739,230 741,229 745,231 750,230 753,230 756,228 760,231 763,231 766,229 769,230 773,230 775,230 780,230 784,230 788,231 792,231 795,229 798,229 802,229 804,230 807,231 813,229 814,229 818,230 821,230 827,229 830,229 833,230 835,229 839,231 845,228 848,229 852,230 853,231 858,230 861,231 864,231 869,230 873,229 875,230 878,229 883,229 884,228 890,229 894,230 895,230 901,229 903,230 907,231 909,230 913,230 916,229 921,231 924,228 928,231 932,229 936,228 939,230 940,229 945,231 948,230 952,228 954,229 960,230 962,229 967,230 968,230 975,230 978,232 979,229 985,229 986,230 992,230 993,230 998,230 1000,231 1005,229 1010,230 1013,229 1015,230 1019,231 1022,230 1027,228 1029,231 1032,231 1037,230 1040,231 1043,230 1048,229 1051,231 1055,231 1058,230 1060,231 1063,231 1069,231 1070,229 1075,229 1078,231 1082,229 1085,229 1089,231 1092,230 1097,230 1100,228 1100,233 1100,238 1100,241 1100,245 1101,248 1100,250 1099,255 1099,257 1099,261 1100,264 1099,268 1099,273 1102,276 1102,280 1101,282 1101,287 1099,289 1100,293 1100,296 1099,300 1099,304 1095,307 1094,307 1090,313 1086,313 1086,319 1081,320 1077,319 1074,317 1072,319 1067,317 1063,320 1061,320 1058,321 1053,319 1049,319 1047,320 1043,319 1037,319 1035,321 1033,320 1029,320 1023,322 1021,321 1017,322 1014,322 1010,322 1009,325 1007,329 1006,332 1004,335 1005,340 1003,341 1003,346 1003,347 999,352 998,356 998,359 997,365 996,366 991,369 989,371 986,372 983,377 982,378 981,382 977,385 974,385 968,388 963,388 961,387 957,391 952,391 949,391 946,389 943,390 937,390 936,391 932,394 928,396 925,402 924,406 920,407 919,407 914,405 912,408 906,408 902,408 898,407 896,410 893,410 887,412 883,412 880,412 876,413 872,414 870,412 865,415 861,412 858,413 855,414 850,414 846,417 843,415 838,417 833,417 830,416 827,416 823,419 819,419 818,414 815,412 815,408 812,403 807,403 803,401 799,400 795,398 790,398 789,397 784,397 779,397 777,395 772,396 768,392 762,391 759,393 756,392 752,394 749,395 745,394 739,395 735,395 732,394 729,396 724,394 719,395 715,393 711,394 708,392 703,394 701,393 697,393 693,393 687,395 684,396 680,395 677,397 671,396 668,397 664,398 661,398 659,403 659,404 658,408 657,414 658,415 659,421 656,423 658,427 657,431 656,433 658,437 656,441 655,446 651,447 648,446 643,448 640,450 637,447 634,449 630,447 625,447 623,446 619,447 613,448 610,448 609,449 604,447 601,446 597,446 594,447 590,446 585,446 583,448 577,446 575,448 570,446 568,447 563,446 560,447 555,448 553,447 549,448 544,448 542,446 537,445 535,448 531,446 525,448 524,445 518,447 515,446 510,445 508,447 509,442 507,440 506,434 508,431 508,426 507,423 506,419 507,415 506,411 503,409 503,406 500,402 497,398 497,396 491,394 489,390 486,391 480,390 479,391 474,392 470,390 467,390 463,389 458,386 453,384 450,386 447,386 444,388 438,386 436,385 433,384 427,384 424,380 422,378 420,376 417,372 413,371 411,368 410,366 406,363 405,360 402,354 402,350 400,347 397,345 397,342 398,335 398,333 399,328 401,325 401,322 404,320 407,320 413,319 415,320 421,318 424,317 426,319 432,321 434,320 440,321 442,318 442,315 447,312 448,307 452,305 453,301 450,297 447,294 444,293 442,289 440,288 438,286 435,283 433,280 431,277 427,274 427,272 424,268 421,266 419,262 420,257 420,255 421,250 421,249 421,245 423,241 425,236 425,233"/>
<polygon fill="#4d4d4d" points="656,220 659,220 664,220 665,219 670,220 674,219 678,221 680,219 683,220 686,219 693,220 696,221 698,221 700,220 706,221 710,220 713,220 717,220 718,220 722,219 725,220 728,219 733,221 738,219 741,220 744,220 747,220 751,221 755,219 759,222 760,220 764,220 767,221 773,219 774,220 780,219 783,221 785,220 791,219 793,220 795,222 799,220 805,218 808,220 812,221 813,219 819,220 821,219 825,220 829,219 833,219 836,219 840,221 841,221 847,221 849,219 852,220 856,219 860,219 862,221 865,219 869,221 873,220 877,219 882,219 884,219 888,219 893,221 896,220 898,220 900,221 904,220 909,220 911,220 917,220 920,221 924,220 927,221 930,220 935,220 937,219 941,219 944,220 948,221 951,221 955,219 958,221 963,220 964,221 970,219 972,221 977,220 978,220 981,221 985,219 990,220 993,219 995,220 1001,220 1001,223 1000,228 999,231 1002,235 1001,239 1001,241 999,245 1001,249 999,252 999,256 1001,258 998,260 1000,264 1000,271 1001,274 1001,275 999,281 1001,283 1000,288 999,290 1004,293 1007,293 1012,294 1015,296 1020,297 1025,300 1024,303 1024,306 1024,311 1023,314 1023,317 1020,319 1018,321 1014,325 1010,325 1007,327 1004,330 1004,331 1000,336 998,339 997,341 995,346 988,343 985,341 981,344 975,343 972,344 968,344 964,346 961,349 955,347 951,351 948,346 945,344 943,344 941,347 942,349 938,352 937,356 937,361 936,365 932,364 928,362 926,358 927,355 927,351 925,347 926,345 924,341 919,340 916,337 912,340 909,344 904,347 901,341 900,339 897,338 895,334 890,336 888,336 885,335 880,333 879,337 876,340 874,345 872,347 870,352 867,354 863,352 859,356 852,354 851,353 845,351 843,350 837,350 835,349 832,349 830,352 825,353 822,353 821,359 818,362 816,365 815,370 812,372 808,372 805,369 801,367 801,362 799,360 796,357 794,352 792,353 790,356 785,359 784,364 780,364 776,364 772,362 770,360 768,357 765,353 763,351 763,350 759,344 758,349 755,350 750,354 747,354 745,351 743,348 744,345 739,342 737,337 735,338 730,333 729,333 725,329 720,330 716,330 712,333 710,332 705,333 701,330 698,330 692,327 691,326 685,327 683,327 678,330 675,329 671,327 667,328 663,324 660,323 658,323 657,319 656,314 656,311 655,309 655,306 656,300 656,298 655,295 656,290 655,286 656,285 656,280 656,277 657,273 655,268 657,266 656,263 657,258 656,256 657,252 657,248 657,245 658,241 657,238 656,235 656,230 656,226 657,222"/>
<polygon fill="#4d4d4d" points="489,236 491,238 496,236 498,238 503,238 506,238 509,237 513,236 518,236 520,236 525,239 529,237 531,238 536,238 538,238 541,238 546,238 548,237 553,239 555,238 558,238 564,236 566,237 569,238 572,239 577,237 579,237 585,237 587,239 592,238 595,238 597,239 602,238 604,236 609,236 610,236 616,238 617,238 621,239 625,238 631,238 632,236 637,239 639,238 643,238 647,238 649,237 653,238 656,237 656,242 657,244 656,247 659,250 658,256 657,259 658,264 656,265 657,270 657,272 658,275 656,279 657,283 659,285 657,289 657,293 658,297 659,300 658,305 658,309 657,310 653,308 653,306 648,306 644,305 641,303 640,298 638,293 636,290 632,289 632,283 627,283 624,281 621,280 616,278 613,280 609,282 606,282 602,279 600,277 595,271 592,268 587,268 584,269 582,269 577,266 575,264 570,263 567,258 566,259 563,254 558,254 557,252 553,251 551,250 546,250 542,251 537,249 537,254 534,258 530,260 528,262 524,261 522,259 517,258 513,256 511,258 505,257 502,258 498,259 496,253 494,251 490,248 489,242"/>
<polygon fill="#ffffff" points="480,273 485,270 489,271 491,270 496,267 499,268 503,269 505,270 510,272 511,271 516,272 517,273 522,276 524,282 527,284 523,286 517,286 513,287 512,285 507,284 504,281 500,284 496,287 494,288 496,294 498,298 499,300 495,303 491,303 489,300 488,298 487,294 483,291 485,288 484,282 484,281 482,275"/>
<polygon fill="#ffffff" points="533,259 536,256 542,255 543,252 548,252 550,254 555,257 558,257 559,259 563,264 565,263 570,265 575,267 578,268 576,272 571,276 568,279 564,278 559,277 558,275 553,273 550,276 546,282 543,284 541,281 538,277 535,273 535,270 534,265 534,261"/>
<polygon fill="#ffffff" points="512,329 516,324 520,322 523,318 528,320 530,318 536,316 539,317 542,317 545,317 549,320 552,318 556,320 558,319 561,321 567,323 571,323 571,326 576,326 578,328 583,329 585,329 590,328 592,328 598,326 601,328 602,326 608,326 611,329 613,329 619,332 621,332 623,334 621,333 616,335 612,335 606,337 604,337 601,335 598,337 595,335 591,337 584,338 583,336 578,337 576,335 569,337 566,335 561,334 559,333 556,331 550,331 546,330 544,328 539,329 536,330 530,330 529,333 524,333 521,334 519,334 517,334"/>
<polygon fill="#ffffff" points="440,245 443,244 449,244 450,246 454,247 455,252 456,255 458,259 458,263 458,267 461,269 463,274 465,276 466,280 467,282 469,286 465,290 463,293 460,294 454,292 452,293 449,290 445,290 443,294 440,296 440,299 439,304 435,308 435,312 432,307 431,305 431,302 430,298 426,294 426,291 421,289 421,286 419,283 415,280 416,277 416,272 418,267 417,262 421,260 419,257 415,253 413,250 411,247 409,244 415,246 416,244 421,245 426,245 428,245 433,245 434,246"/>
<polygon fill="#b3b3b3" points="427,244 430,243 434,245 437,244 443,241 444,244 444,251 444,254 446,257 448,261 442,264 439,267 437,264 432,261 428,261 430,255 427,251 428,249"/>
<polygon fill="#b3b3b3" points="444,271 448,270 453,269 458,270 458,275 462,277 461,281 463,285 459,286 453,286 451,283 450,281 450,278 447,274"/>
<polygon fill="#4d4d4d" points="504,285 508,288 511,287 516,285 520,285 525,288 527,290 532,294 529,297 523,302 520,302 516,299 511,299 510,295 507,294 504,290"/>
<polygon fill="#4d4d4d" points="538,294 544,293 547,293 548,294 548,298 543,301 542,299 540,297"/>
<polygon fill="#b3b3b3" points="401,337 404,333 408,329 409,326 414,325 416,323 421,323 427,324 430,323 433,325 438,326 440,326 443,329 448,332 452,334 455,337 456,342 459,343 464,347 465,349 467,350 472,354 476,355 480,354 483,354 484,354 490,353 492,352 498,355 499,352 504,353 503,358 504,361 507,363 506,367 503,370 500,375 498,377 492,382 491,382 487,385 483,384 480,387 476,388 471,388 467,389 464,390 458,390 454,389 451,388 449,385 445,383 442,383 436,382 435,379 430,380 428,377 424,376 421,373 418,373 414,371 414,367 412,364 407,362 408,360 404,357 403,352 403,349 400,345 401,340"/>
<polygon fill="#4d4d4d" points="450,310 452,310 456,306 461,305 463,304 466,307 466,311 468,314 472,315 469,322 469,324 465,330 469,331 474,335 477,337 480,342 485,341 488,342 491,341 495,338 498,332 500,334 506,338 509,339 509,341 508,346 504,348 500,348 496,349 492,352 489,354 485,353 482,354 478,353 473,353 470,353 466,351 462,347 459,343 457,340 454,336 453,331 452,330 452,325 449,320 449,314"/>
<polygon fill="#4d4d4d" points="413,335 416,334 418,334 421,332 425,329 429,330 432,332 435,333 438,335 444,335 445,339 450,341 451,344 453,347 458,349 461,349 462,352 465,354 469,355 472,356 476,357 482,355 485,356 489,355 491,360 496,359 498,363 495,365 493,370 488,373 484,373 481,377 478,375 475,377 469,381 468,384 463,387 459,384 458,382 453,380 449,378 446,378 443,376 440,376 435,375 432,372 429,371 426,369 423,367 419,364 419,359 416,358 413,355 411,352 414,348 412,344 412,339"/>
<polygon fill="#ffffff" points="428,338 431,336 436,338 437,340 441,344 443,347 441,348 437,347 434,346 429,342"/>
<polygon fill="#4d4d4d" points="508,340 512,340 515,341 518,342 521,340 527,341 530,342 534,342 536,342 541,341 545,340 549,342 550,342 556,341 559,341 563,340 564,342 569,341 572,342 578,341 581,341 584,341 588,340 589,345 595,349 596,349 598,353 600,356 600,361 601,364 600,369 597,372 597,377 594,380 592,384 591,388 589,389 588,393 583,397 583,401 579,405 578,408 576,411 573,415 571,420 571,423 568,426 564,430 563,431 558,435 555,436 553,437 551,439 547,444 544,447 540,444 535,444 532,445 529,446 527,446 522,446 517,444 516,445 513,446 508,445 509,443 508,437 508,434 509,430 508,427 507,425 509,421 507,418 508,412 507,410 508,406 507,402 508,397 506,395 507,392 507,389 507,384 508,381 508,378 507,375 507,371 509,367 507,361 507,359 509,355 509,352 507,350 507,343"/>
<polygon fill="#b3b3b3" points="539,344 545,344 549,344 551,346 554,346 556,350 553,353 554,357 550,362 549,365 545,368 544,366 542,361 539,358 538,354 538,349"/>
<polygon fill="#b3b3b3" points="569,387 573,389 575,388 580,387 582,385 584,390 585,393 586,396 584,400 581,403 577,408 574,406 573,405 567,401 567,400 568,395 568,391"/>
<polygon fill="#4d4d4d" points="494,390 497,390 500,389 505,389 509,389 509,392 508,395 510,398 507,403 507,408 510,412 509,415 504,411 502,407 499,403 497,401 497,396 495,394"/>
<polygon fill="#ffffff" points="606,347 612,349 614,348 619,347 622,347 626,345 627,350 630,354 630,357 632,362 628,361 624,364 622,367 618,368 615,367 610,363 609,364 604,359 605,358 606,353"/>
<polygon fill="#ffffff" points="588,397 590,395 594,394 598,394 601,391 606,389 609,390 613,388 614,391 619,389 622,389 626,389 627,392 631,397 633,399 629,403 626,405 620,406 616,406 614,410 612,411 609,415 605,417 602,420 598,420 595,424 591,426 590,422 586,420 585,415 583,411 583,410 584,407 587,403"/>
<polygon fill="#ffffff" points="544,346 546,347 551,347 555,345 559,347 556,348 554,351 551,356 546,355 542,355 544,349"/>
<polygon fill="#ffffff" points="556,375 560,377 563,376 567,378 572,377 576,377 581,377 585,375 588,371 589,369 591,372 593,379 588,380 585,381 582,383 578,383 575,384 570,383 568,383 562,382 557,381"/>
<polygon fill="#4d4d4d" points="607,408 610,406 615,406 621,406 619,410 622,413 623,418 619,418 614,422 613,424 609,419 609,414 608,413"/>
<polygon fill="#4d4d4d" points="591,438 597,437 600,436 604,433 609,434 612,431 613,435 615,439 615,445 611,446 607,445 604,446 601,446 597,445 593,443 592,440"/>
<polygon fill="#4d4d4d" points="579,346 584,345 588,348 593,349 594,352 595,357 595,359 597,364 590,363 587,360 587,356 585,354 581,350"/>
<polygon fill="#ffffff" points="631,424 636,420 639,420 645,419 646,418 652,418 651,420 653,425 652,429 652,431 653,436 653,439 654,442 650,443 645,442 641,440 636,439 636,435 634,432 633,429 632,424"/>
<polygon fill="#ff85e0" points="317,280 319,284 320,288 323,290 326,291 330,294 332,295 334,298 337,302 338,305 341,308 343,312 340,310 335,307 332,304 330,302 327,300 325,298 322,296 321,292 320,288 319,284"/>
<polygon fill="#ff85e0" points="394,386 397,390 399,393 405,394 410,394 415,394 418,394 422,392 418,395 414,396 410,397 406,397 402,396 398,395 397,390"/>
<polygon fill="#b3b3b3" points="337,363 341,361 344,361 348,364 351,368 345,369 342,372 341,370 339,367"/>
<polygon fill="#b3b3b3" points="373,333 378,332 383,330 384,337 380,339 376,338"/>
<polygon fill="#b3b3b3" points="299,234 305,236 309,236 312,236 316,237 320,236 321,241 322,245 318,245 316,244 310,243 308,244 306,241 303,238"/>
<polygon fill="#b3b3b3" points="498,421 501,420 503,420 506,422 508,424 509,430 506,433 507,436 506,439 508,444 506,447 511,446 513,448 518,449 521,448 525,447 529,447 532,447 537,446 539,447 544,449 546,448 547,452 547,456 549,460 550,466 550,469 545,471 543,472 541,476 537,476 533,473 530,471 526,471 521,468 521,463 517,461 513,463 511,467 510,471 509,474 509,478 508,481 505,487 503,490 502,495 499,500 500,504 500,506 500,511 498,514 494,519 492,523 489,524 488,529 485,532 480,535 478,536 476,538 469,537 471,534 475,532 477,527 479,525 480,523 483,519 483,515 487,512 489,510 490,509 493,504 494,501 493,499 494,495 496,491 496,487 496,483 498,477 501,473 502,469 504,464 503,462 504,459 503,454 503,452 502,448 502,444 503,439 502,435 498,431 499,429 499,424"/>
<polygon fill="#4d4d4d" points="506,447 510,448 515,448 518,448 520,449 525,449 529,450 532,447 536,449 539,449 543,450 547,451 544,453 543,457 539,457 537,456 534,457 529,457 526,460 521,461 518,460 514,461 510,459 511,455 509,451"/>
<polygon fill="#4d4d4d" points="490,510 495,509 498,506 498,512 500,513 499,518 498,521 494,527 493,529 488,528 486,530 488,528 486,523 487,519 490,515"/>
<polygon fill="#ff85e0" points="448,451 451,448 452,443 455,439 460,438 462,437 466,438 471,438 473,439 478,441 484,438 486,439 490,442 490,448 492,450 490,453 492,457 488,456 485,453 479,453 477,454 472,452 471,451 468,452 465,456 466,459 465,464 465,465 465,471 465,475 464,477 460,474 458,469 457,468 452,467 449,465 450,459 449,455"/>
<polygon fill="#ff85e0" points="460,477 465,477 464,481 464,483 466,487 464,491 469,494 466,499 466,502 464,505 461,509 459,511 459,506 457,504 457,500 460,496 461,491 459,486 462,484 460,481"/>
<polygon fill="#ff85e0" points="519,488 523,487 525,488 527,492 530,497 534,493 537,493 543,493 546,491 548,489 549,491 548,496 548,499 548,503 548,508 550,509 548,515 550,518 549,522 550,525 548,527 549,532 550,535 548,537 548,544 548,546 551,549 547,550 542,549 537,549 534,550 532,548 528,548 525,549 521,548 519,550 515,551 510,548 507,550 504,550 500,549 495,548 493,550 488,549 486,548 488,549 494,544 498,543 499,542 499,535 499,533 501,531 506,528 504,526 505,523 503,519 508,513 509,510 513,507 517,507 522,504 520,499 522,495 520,492"/>
<polygon fill="#80200a" points="521,505 523,502 528,496 529,493 533,499 535,497 540,497 543,494 548,492 549,495 548,498 550,503 549,509 545,512 542,514 540,516 537,518 532,523 530,521 525,521 524,518 523,516 523,511 522,507"/>
<polygon fill="#80200a" points="505,516 511,515 514,513 519,516 521,518 522,522 527,525 523,530 521,534 519,536 521,540 526,543 529,544 533,542 538,539 539,539 545,537 548,536 550,541 549,546 547,549 545,551 540,550 538,549 536,551 530,551 527,550 523,549 519,550 516,549 513,551 508,551 506,549 502,550 499,549 494,549 492,549 487,550 491,548 494,545 498,543 503,542 504,542 509,538 508,537 506,530 507,527 508,524 505,519"/>
<polygon fill="#e6b8ad" points="510,534 513,536 518,537 520,540 522,543 518,548 514,549 510,546 508,543 509,541 509,536"/>
<polygon fill="#ffffff" points="509,520 513,522 517,520 517,525 519,529 515,531 511,530 510,525"/>
<polygon fill="#ffffff" points="528,525 532,523 537,525 541,522 543,523 546,528 546,531 548,534 544,536 541,535 536,538 532,533 528,528"/>
<polygon fill="#80200a" points="446,543 451,545 454,544 458,545 461,545 466,545 471,545 467,550 464,550 460,551 457,550 454,551 450,549 446,551"/>
<polygon fill="#f56666" points="447,548 450,547 453,548 458,548 460,547 461,551 457,550 454,550 451,549 447,551"/>
<polygon fill="#b3b3b3" points="556,452 559,449 563,451 568,452 572,451 576,450 579,451 581,449 584,451 591,449 593,448 597,449 601,449 603,448 609,448 613,448 616,447 618,450 621,449 622,452 626,453 628,460 628,462 628,465 626,467 626,473 626,475 627,480 631,484 632,488 635,491 636,493 637,499 639,501 636,506 637,508 637,512 635,516 634,518 637,522 638,527 637,530 639,533 638,538 639,542 637,547 635,549 632,549 629,551 627,551 621,549 620,551 615,549 612,550 607,551 605,551 602,550 596,549 592,550 591,548 587,550 583,550 579,548 575,546 573,544 571,542 568,538 564,537 565,534 565,531 563,525 565,525 567,522 571,518 574,515 576,511 577,507 579,506 581,500 579,500 574,496 573,492 572,490 569,488 567,483 572,478 572,475 569,471 564,469 562,464 561,459 560,457"/>
<polygon fill="#4d4d4d" points="582,450 588,449 590,449 593,448 597,450 601,450 605,448 610,449 611,449 618,449 621,448 623,454 622,457 625,461 625,464 623,469 623,473 621,477 625,479 625,482 627,488 629,491 630,494 632,498 634,502 633,506 629,509 630,511 633,515 634,518 635,522 631,527 628,530 632,534 633,541 632,546 631,551 624,549 623,551 618,551 613,551 610,550 608,551 602,550 601,547 599,544 598,541 593,540 592,538 587,538 581,536 579,535 574,531 571,530 567,529 570,526 570,523 575,520 578,519 581,516 584,512 586,508 588,504 592,503 595,498 601,495 605,493 603,491 599,486 596,486 592,482 588,479 581,478 583,473 583,470 586,464 581,461 578,455 580,451"/>
<polygon fill="#ffffff" points="555,448 559,448 561,450 566,448 570,448 574,448 579,450 580,450 578,453 579,457 580,462 581,468 577,468 573,470 568,469 565,464 560,463 561,458 557,456 555,451"/>
<polygon fill="#b3b3b3" points="560,452 564,451 570,451 572,450 579,451 577,457 576,459 571,460 567,459 562,456"/>
<polygon fill="#4d4d4d" points="569,497 572,496 576,496 578,493 582,493 586,495 583,498 578,500 573,501"/>
<polygon fill="#b3b3b3" points="640,452 643,451 648,451 651,450 655,451 661,449 664,448 666,454 666,457 668,461 668,467 669,469 669,471 670,478 671,480 671,484 671,488 673,490 675,492 678,496 683,499 686,500 685,505 683,507 683,510 680,514 675,515 673,515 668,515 664,516 664,519 661,523 662,520 661,516 660,511 658,508 657,503 660,501 659,498 661,493 658,491 655,488 652,484 652,478 649,476 647,474 646,468 646,466 642,463 642,457 642,456"/>
<polygon fill="#e0c0e8" points="638,518 639,516 644,514 648,513 652,514 657,516 660,514 664,512 668,509 673,509 676,509 679,509 683,512 685,508 689,504 691,502 699,500 698,504 699,507 697,512 697,514 697,519 700,521 699,525 697,527 699,531 698,536 699,539 700,542 698,545 698,550 694,549 689,549 687,551 683,550 680,549 676,548 672,546 667,544 663,543 659,543 657,540 652,539 651,536 652,531 649,527 645,522 642,521"/>
<polygon fill="#ff85e0" points="640,517 644,516 647,514 651,514 655,516 659,514 664,511 670,511 673,509 677,507 678,510 682,512 688,511 688,505 692,503 696,502 696,505 696,510 697,511 698,515 697,520 697,524 697,527 698,531 696,535 698,539 697,543 697,547 698,551 695,550 689,550 688,549 682,550 680,551 677,549 672,545 668,543 665,544 661,543 657,539 654,536 654,532 653,529 651,528 646,523 641,521"/>
<polygon fill="#ff2df7" points="658,521 662,523 665,520 669,521 673,520 675,519 679,522 684,519 690,516 693,515 698,512 697,516 695,519 698,523 697,525 698,531 690,531 687,533 684,536 681,535 675,536 673,534 670,533 664,533 664,529 660,525"/>
<polygon fill="#ff85e0" points="554,488 557,491 562,492 564,497 566,500 560,502 558,499 555,495 553,492"/>
<polygon fill="#f59999" points="445,553 450,551 451,552 456,553 459,551 463,554 467,553 469,552 472,552 478,553 481,552 486,553 488,553 490,553 496,553 498,552 502,553 505,551 509,552 513,552 518,552 519,551 526,551 527,551 532,553 536,551 538,554 543,552 545,552 548,551 549,555 550,560 548,563 548,565 548,570 550,574 550,577 551,581 551,584 550,588 550,590 550,596 550,596 550,602 549,605 549,610 550,611 549,616 550,618 550,623 551,626 551,628 551,633 550,636 550,639 550,644 548,647 550,649 551,654 548,659 548,660 551,666 550,667 549,671 551,674 549,679 550,682 550,685 551,688 549,694 548,696 550,700 548,698 542,700 539,698 534,698 531,700 527,700 525,700 522,700 519,701 515,701 511,699 506,700 503,698 501,695 498,695 496,695 490,691 488,693 486,690 482,688 479,687 474,686 472,686 467,683 463,682 461,683 458,679 455,680 452,678 447,676 446,676 440,673 437,674 434,672 432,672 427,669 430,665 433,658 432,655 432,651 430,649 430,644 433,642 434,639 436,636 438,634 438,630 442,629 442,622 441,620 440,615 440,612 438,608 438,606 436,602 433,600 432,594 434,591 432,586 431,584 430,579 432,577 434,575 438,574 442,577 444,572 444,567 442,563 443,560 445,557"/>
<polygon fill="#f56666" points="431,576 434,576 439,578 440,577 446,577 449,582 448,586 451,586 454,591 457,594 458,598 459,602 462,605 457,610 455,613 453,614 452,616 449,621 445,623 444,617 442,616 441,613 441,610 439,607 436,601 435,598 435,593 434,590 432,587 433,583 432,578"/>
<polygon fill="#fd9431" points="430,646 431,643 432,639 435,635 437,633 441,629 441,626 443,624 447,626 450,626 455,628 456,629 461,630 463,633 467,636 470,632 475,633 477,631 482,632 485,633 491,634 493,634 495,637 497,641 500,644 503,645 503,648 504,652 506,655 506,660 508,664 507,667 508,670 510,674 507,677 502,678 498,678 498,682 492,679 489,680 485,677 480,682 477,683 474,686 469,685 466,683 462,682 459,681 456,680 452,677 448,675 445,676 441,674 438,673 434,671 432,672 430,670 430,663 434,661 434,656 432,652 432,648"/>
<polygon fill="#fd7f12" points="460,639 466,636 467,638 472,635 475,634 479,634 484,635 486,636 490,637 494,638 494,641 496,645 501,650 501,653 502,656 504,663 503,667 505,668 505,671 501,674 494,678 490,675 487,672 487,670 485,667 484,662 483,661 479,659 478,657 472,653 470,653 464,649 459,648 462,646 462,643"/>
<polygon fill="#f5cccc" points="473,673 475,670 477,666 479,666 482,661 483,667 485,668 486,675 484,677 481,679 481,683 478,686 478,684 476,678"/>
<polygon fill="#f5cccc" points="443,647 446,646 450,645 449,649 451,652 447,652 444,653"/>
<polygon fill="#ff85e0" points="447,552 451,552 452,554 456,552 461,553 463,552 469,554 471,553 475,555 479,555 484,554 487,554 489,552 493,552 497,552 496,558 496,562 497,566 497,569 496,574 496,578 494,576 491,578 485,578 484,576 478,575 475,577 471,575 469,574 464,575 460,576 459,574 458,569 452,567 451,562 451,559 449,555"/>
<polygon fill="#9a4632" points="447,552 450,554 455,554 459,553 462,556 463,555 464,557 460,562 457,561 455,561 449,563 450,560"/>
<polygon fill="#ff85e0" points="461,574 466,576 469,576 472,576 478,577 480,579 486,578 490,579 492,579 495,583 498,584 502,587 503,592 507,593 508,598 510,600 514,602 517,604 518,606 521,606 526,610 530,611 531,611 537,611 540,614 546,610 550,610 550,614 550,616 551,622 549,623 551,628 550,631 549,635 550,640 549,642 551,648 550,650 550,654 544,652 539,649 536,648 532,644 528,641 525,638 522,636 520,635 513,634 511,630 507,628 505,627 501,625 498,621 495,619 494,616 491,613 488,608 484,606 482,602 479,601 476,600 472,597 468,595 464,594 463,588 460,586 459,581"/>
<polygon fill="#ffffff" points="461,577 467,577 470,578 473,578 477,581 481,580 486,578 490,579 494,581 497,583 497,587 499,591 503,591 505,596 508,597 510,603 512,603 514,607 518,608 522,609 525,612 530,612 531,613 535,615 539,613 546,612 549,612 550,615 550,620 548,623 550,628 548,629 549,633 549,638 550,642 550,644 551,650 549,651 546,651 541,649 535,647 534,643 530,640 527,638 521,635 519,632 514,631 510,630 508,628 504,625 501,622 499,620 496,615 493,612 489,612 488,607 483,603 482,602 478,600 476,598 472,595 466,592 465,589 461,585 463,582"/>
<polygon fill="#ff85e0" points="482,554 486,553 491,553 495,553 495,553 502,554 502,553 509,554 510,555 515,554 518,558 519,562 520,564 524,570 526,571 530,572 535,574 535,572 535,569 537,566 536,560 535,557 532,553 533,554 540,553 541,553 547,552 551,553 548,556 549,560 548,563 548,569 551,571 549,574 550,578 551,581 549,585 550,589 548,594 549,596 551,600 546,601 543,597 538,595 537,593 536,592 533,588 528,587 525,582 522,582 520,579 517,577 513,572 510,571 506,569 503,568 498,567 494,566 488,565 489,564 487,559 485,557"/>
<polygon fill="#ffffff" points="485,555 487,556 493,555 496,553 499,555 503,555 508,554 512,556 516,557 517,560 518,562 517,566 521,571 526,573 529,577 534,578 536,573 539,571 540,566 537,563 534,559 531,556 537,554 541,554 544,555 547,553 549,559 549,561 548,567 549,568 549,574 548,576 547,579 549,585 549,588 550,590 550,596 548,600 545,597 543,597 538,595 538,591 535,588 531,587 528,584 524,583 521,578 517,576 516,575 511,573 509,570 505,568 502,566 497,565 495,565 489,566 486,559"/>
<polygon fill="#ffffff" points="462,557 466,557 471,556 474,555 477,557 480,555 483,554 488,559 486,561 483,565 479,567 475,568 471,568 468,565 463,565 463,559"/>
<polygon fill="#ff85e0" points="494,560 500,561 504,563 508,563 510,565 512,570 513,573 517,573 517,577 520,579 523,584 526,587 528,590 529,593 530,597 532,600 536,602 539,605 538,608 537,613 535,617 533,614 530,610 525,609 520,608 517,608 513,605 513,605 510,601 506,597 506,595 504,592 502,588 500,584 497,581 496,577 497,572 496,570 494,566 494,564"/>
<polygon fill="#80200a" points="496,561 501,563 506,566 508,568 511,572 512,573 516,575 517,580 518,582 521,585 524,587 526,591 529,594 530,596 531,602 533,604 536,610 533,614 529,612 527,607 522,605 518,605 514,605 511,600 509,599 508,597 506,593 505,590 503,587 501,584 497,580 497,576 499,573 496,570 497,567"/>
<polygon fill="#b36b5b" points="496,581 500,585 501,587 503,591 505,595 509,599 511,602 514,605 509,606 507,603 505,601 502,598 501,595 500,592 499,589 497,584"/>
<polygon fill="#b36b5b" points="469,598 472,598 475,601 476,605 481,605 483,607 487,609 491,610 494,614 494,617 497,621 501,622 505,626 501,629 498,625 494,625 491,622 487,621 485,617 484,615 478,613 478,609 474,608 472,605 471,602"/>
<polygon fill="#cc9184" points="527,660 530,662 533,662 537,663 539,666 541,671 542,675 546,677 546,681 545,684 546,688 545,694 541,696 539,695 536,692 533,689 532,684 531,680 529,679 528,673 526,671 527,667 527,663"/>
<polygon fill="#fa3333" points="512,653 516,655 520,655 522,656 523,661 526,662 529,667 530,671 532,675 532,679 533,682 535,685 531,683 526,680 524,676 522,675 522,672 518,668 517,662 514,660 513,656"/>
<polygon fill="#b36b5b" points="449,562 450,566 452,569 454,574 456,576 459,580 461,586 464,589 463,592 466,595 468,599 471,603 472,606 473,610 477,615 479,618 483,621 485,626 479,627 477,623 473,618 469,616 469,613 464,612 462,607 461,603 461,602 458,597 454,595 454,593 452,587 451,584 448,581 448,577 446,572 446,569 448,566"/>
<polygon fill="#fa3333" points="436,582 440,581 442,581 444,585 446,587 447,592 447,597 445,598 445,603 444,606 443,602 440,599 436,595 438,593 438,588 435,585"/>
<polygon fill="#ff85e0" points="630,597 632,594 638,592 639,588 645,588 648,583 649,584 655,583 659,582 661,578 666,577 670,574 675,572 676,576 676,581 674,582 675,585 676,588 674,593 677,596 677,601 675,605 676,608 674,610 676,615 675,617 674,623 674,627 674,630 674,633 676,638 675,640 677,644 675,648 674,651 676,655 674,658 675,660 675,664 676,667 676,673 676,675 676,681 674,685 671,683 667,683 664,684 660,682 658,684 656,683 650,682 648,683 643,682 640,684 636,684 635,680 635,676 635,669 632,668 630,662 628,660 628,657 629,652 629,650 631,645 630,641 628,637 628,634 628,631 628,628 629,625 630,619 632,615 632,612 629,609 629,607 630,603"/>
<polygon fill="#80200a" points="641,594 643,590 650,589 651,585 655,584 661,582 665,583 668,579 676,577 676,580 674,585 677,588 674,591 676,595 676,599 674,603 675,606 669,608 666,607 662,606 657,605 654,605 650,601 644,601 644,596"/>
<polygon fill="#9a4632" points="637,597 642,600 644,601 650,601 656,604 660,605 663,606 665,607 669,607 675,609 676,613 675,617 674,619 671,621 666,619 663,619 658,620 653,618 650,618 646,617 643,618 641,615 636,613 636,608 636,608 636,603"/>
<polygon fill="#b36b5b" points="632,614 637,616 640,616 644,617 648,617 650,618 656,621 659,622 664,619 665,620 671,620 677,622 676,624 674,626 676,632 676,634 676,639 671,637 668,638 663,635 657,634 653,635 650,633 648,633 644,630 639,631 635,629 633,630 635,624 634,623 632,617"/>
<polygon fill="#cc9184" points="632,631 636,629 638,631 645,633 649,633 651,633 654,633 659,636 664,636 666,636 669,638 677,637 676,641 676,647 675,648 674,653 672,651 668,649 665,647 661,646 658,642 656,640 649,637 646,642 645,644 644,648 640,654 641,655 638,661 634,655 631,653 632,648 631,646 632,640 632,637 630,633"/>
<polygon fill="#e6b8ad" points="631,652 633,651 638,650 640,648 642,646 647,642 652,637 653,641 659,642 661,647 666,648 670,650 672,649 677,654 674,655 674,659 674,666 674,668 676,671 676,676 677,681 677,684 672,682 668,683 664,682 661,685 656,683 654,683 651,684 646,682 642,684 638,682 638,679 637,673 638,670 634,667 636,662 632,660 631,656"/>
<polygon fill="#fa3333" points="649,636 653,640 656,643 658,647 659,648 662,651 664,654 668,655 670,659 670,664 673,667 674,671 676,676 675,678 676,682 673,682 666,682 665,685 662,684 655,684 654,680 652,676 651,674 651,671 649,667 646,662 646,661 645,656 646,653 645,648 647,646 646,641"/>
<polygon fill="#ff85e0" points="652,596 658,599 661,602 663,607 667,605 672,604 674,608 670,609 667,609 664,611 660,609 656,605 655,602"/>
<polygon fill="#ff85e0" points="584,601 585,598 587,594 587,590 590,588 596,587 600,587 605,582 609,580 611,582 613,589 612,589 615,593 611,595 607,600 607,602 606,608 608,610 605,612 606,618 605,620 602,623 608,626 612,630 613,632 617,634 619,639 617,642 617,645 617,650 618,654 618,656 621,660 621,666 621,669 627,670 630,671 632,675 630,678 633,682 630,684 627,682 623,684 619,683 615,682 612,684 607,684 603,683 602,682 598,682 594,684 589,684 587,684 584,682 580,682 575,684 573,684 570,682 566,678 565,677 562,671 561,670 564,665 563,659 565,657 567,657 574,655 577,655 578,652 582,649 584,645 585,642 588,637 590,635 594,631 593,627 592,623 592,619 591,616 587,614 587,610 585,606"/>
<polygon fill="#b36b5b" points="593,598 595,594 599,592 601,589 603,589 607,587 608,593 605,597 606,597 605,601 603,605 603,609 604,612 602,616 601,620 599,623 603,628 606,631 607,634 610,637 612,642 612,645 614,649 612,654 611,656 614,661 615,663 614,666 617,669 618,675 622,679 623,684 619,684 614,684 612,683 609,682 604,683 600,683 598,683 592,682 590,683 586,682 581,683 580,682 577,682 572,683 569,678 567,675 567,672 569,667 573,667 577,664 580,661 581,659 584,656 586,650 587,650 590,645 592,642 595,639 595,635 595,631 594,626 594,625 595,620 592,616 592,611 592,608 594,602"/>
<polygon fill="#e6b8ad" points="591,647 594,644 597,641 598,647 597,649 597,653 597,656 596,660 597,665 593,666 590,669 585,670 586,668 584,662 582,661 585,655 588,653 587,649"/>
<polygon fill="#fa3333" points="585,650 592,648 594,647 594,649 596,652 599,656 601,652 601,650 603,646 607,649 610,654 613,657 613,661 613,663 613,666 614,670 617,673 616,678 620,682 616,684 612,683 607,682 606,684 602,682 596,684 595,684 590,685 586,684 581,682 583,681 581,676 582,672 582,669 582,667 583,661 585,657 586,653"/>
<polygon fill="#cc9184" points="614,670 620,668 624,668 624,671 631,672 630,675 629,679 631,684 629,683 622,682 620,684 617,677 617,676"/>
<polygon fill="#ff85e0" points="553,555 557,555 562,553 566,558 567,561 573,556 576,555 576,558 574,561 572,563 568,566 567,569 566,574 566,578 563,579 558,582 558,580 559,574 556,571 552,568 553,562 552,557"/>
<polygon fill="#ff85e0" points="552,651 555,652 560,655 561,659 563,661 566,665 569,667 574,665 575,664 578,664 584,660 586,665 586,671 585,676 582,678 580,684 576,685 574,686 567,688 569,692 569,697 569,699 563,698 561,700 556,700 553,699 554,694 554,692 554,689 551,684 552,680 554,677 554,674 553,668 553,667 554,661 552,659 551,653"/>
<polygon fill="#b36b5b" points="553,655 555,656 557,658 561,663 564,665 565,668 569,672 572,670 574,668 578,665 583,664 583,671 584,674 582,678 579,682 577,684 572,686 567,687 567,692 567,695 568,699 563,698 559,698 558,700 553,699 554,695 553,692 554,689 552,684 551,679 551,676 551,673 552,668 552,667 552,663 553,659"/>
<polygon fill="#fa3333" points="576,672 580,669 584,668 583,672 581,677 580,680 578,684 575,682 575,680 575,673"/>
<polygon fill="#b3b3b3" points="587,553 590,553 593,551 597,551 601,553 604,554 609,551 613,551 614,552 620,553 622,554 626,553 630,551 633,553 638,552 639,555 637,559 639,562 634,567 633,567 630,570 627,573 627,575 623,573 618,570 616,571 612,569 607,573 601,576 597,577 595,573 591,571 589,568 590,564 587,560 588,556"/>
<polygon fill="#4d4d4d" points="601,553 604,553 607,553 611,551 616,553 620,554 625,552 627,552 631,551 630,557 629,560 627,560 623,560 619,562 615,562 610,561 609,558 605,557"/>
<polygon fill="#b3b3b3" points="565,607 569,606 572,604 573,607 573,612 574,616 570,617 567,619 566,615 566,610"/>
<polygon fill="#b3b3b3" points="567,633 570,630 572,628 576,625 579,625 583,630 579,631 576,634 573,636 570,635"/>
<polygon fill="#b3b3b3" points="641,562 646,560 647,565 642,566"/>
<polygon fill="#ff85e0" points="241,448 244,452 248,454 250,457 250,459 249,465 248,469 250,473 251,476 255,480 257,483 251,486 248,485 246,481 247,476 244,472 243,468 243,466 241,463 239,458 242,456 241,451"/>
<polygon fill="#ff85e0" points="251,489 254,490 260,489 263,493 264,496 270,497 269,501 274,503 275,507 276,510 276,516 277,518 277,522 274,525 272,523 270,521 265,518 264,515 261,512 260,509 257,506 254,503 251,501 250,495 251,491"/>
<polygon fill="#e0c0e8" points="254,491 258,493 261,494 264,499 267,502 264,502 259,502 257,499 256,494"/>
<polygon fill="#ff85e0" points="278,528 283,532 285,533 287,536 291,541 292,542 293,547 293,549 295,554 298,558 300,558 302,563 303,566 303,570 304,573 306,576 308,580 309,583 311,587 316,592 317,594 320,596 322,600 322,606 327,606 330,610 333,613 338,612 342,615 343,616 343,621 337,620 334,619 332,621 327,620 321,617 317,615 316,611 314,608 310,607 306,604 306,601 304,596 302,593 299,590 298,587 297,582 294,577 292,573 291,573 291,569 289,566 287,561 287,557 284,555 282,550 282,548 278,543 278,537 280,534"/>
<polygon fill="#e0c0e8" points="283,545 287,548 289,552 289,555 292,559 293,564 295,564 295,568 290,570 289,567 286,562 284,557 285,555 285,550"/>
<polygon fill="#ff85e0" points="266,443 273,442 275,442 281,444 283,449 283,451 284,456 285,457 287,460 286,464 289,470 290,474 293,476 292,481 296,484 298,487 301,492 305,495 304,497 306,499 307,503 310,508 313,510 313,514 314,516 316,520 318,525 319,528 324,533 324,535 328,537 331,541 334,544 334,548 337,552 338,556 342,558 343,562 344,566 346,567 349,571 348,576 351,579 351,580 349,584 351,589 349,592 350,595 349,599 345,604 345,607 339,607 336,608 333,609 331,608 325,604 323,603 321,597 317,593 315,590 312,589 311,584 308,581 307,578 306,574 304,571 302,569 301,565 297,562 296,559 294,554 292,551 292,547 289,545 287,541 286,537 283,535 283,531 281,527 277,526 277,521 275,517 274,516 272,512 269,509 269,506 265,503 264,497 265,493 263,489 261,488 261,483 259,480 261,476 260,471 259,467 257,463 259,461 260,455 260,452 264,449 264,444"/>
<polygon fill="#cc9184" points="268,446 275,447 278,447 279,452 281,455 281,461 284,464 283,468 286,471 287,476 290,480 293,485 293,488 297,491 300,493 300,496 301,501 303,505 305,508 309,511 311,516 312,518 313,523 315,524 317,529 319,532 321,535 322,536 324,541 328,542 328,548 332,551 332,553 335,558 338,560 341,563 342,567 342,570 344,572 346,576 345,579 345,583 347,587 347,592 345,596 346,597 344,602 343,606 339,604 334,603 332,602 329,599 327,598 322,593 321,591 318,587 315,582 315,581 312,575 310,570 306,568 305,567 303,561 302,558 301,555 298,551 296,547 296,543 291,539 292,536 288,533 288,530 286,528 284,524 280,520 278,516 278,514 277,509 274,508 272,503 270,501 268,497 268,492 266,491 267,488 265,484 265,478 264,476 263,472 261,469 261,467 262,463 264,457 264,455 265,449"/>
<polygon fill="#9a4632" points="272,490 279,487 281,486 285,490 289,492 289,496 292,498 295,501 299,508 300,508 300,512 302,516 304,518 308,524 308,526 307,531 306,534 306,538 303,542 300,542 298,539 294,536 293,534 290,532 287,526 287,523 284,522 281,519 279,514 279,510 275,508 276,503 274,501 274,497 274,492"/>
<polygon fill="#b36b5b" points="267,467 271,467 274,467 279,467 277,470 281,475 282,478 282,484 276,484 274,486 271,483 269,481 267,477 265,471"/>
<polygon fill="#b36b5b" points="296,541 301,543 302,540 309,542 310,543 312,548 316,549 319,554 315,554 311,559 307,556 304,556 302,552 300,551 298,546"/>
<polygon fill="#e6b8ad" points="307,546 311,548 315,546 319,546 323,546 325,548 326,551 329,554 333,556 334,558 338,560 339,565 340,568 342,570 343,573 344,576 344,582 344,584 345,589 346,593 344,598 342,601 336,602 330,600 327,597 326,591 325,588 320,587 319,583 318,579 315,575 316,572 314,570 312,566 309,561 309,559 308,555 308,551"/>
<polygon fill="#fa3333" points="330,590 333,590 339,589 341,591 345,593 348,596 346,601 342,602 338,603 333,602 332,601 331,595"/>
<polygon fill="#fa3333" points="325,557 330,556 330,560 325,560"/>
<polygon fill="#fa3333" points="317,577 323,577 323,581 317,580"/>
<polygon fill="#ffb3d9" points="278,518 282,516 285,514 289,516 292,518 290,525 286,526 283,527 277,522"/>
<polygon fill="#ff85e0" points="340,611 344,611 350,612 353,613 357,616 362,617 364,619 369,618 374,619 376,623 380,624 384,625 388,629 389,634 389,636 390,638 391,645 393,647 392,651 393,655 394,658 393,662 392,667 387,667 384,669 378,667 377,663 375,659 376,655 373,654 373,649 370,648 367,644 367,640 362,637 358,637 356,632 351,632 348,630 344,629 345,626 343,623 342,618 343,614"/>
<polygon fill="#9a4632" points="344,612 348,613 352,615 355,617 357,616 361,620 365,622 368,622 372,623 376,624 379,628 382,628 384,633 387,635 388,640 389,643 389,649 391,653 390,657 390,661 386,665 379,664 379,660 378,656 375,653 373,648 371,647 369,641 370,638 366,636 362,633 359,630 353,628 350,628 346,624 347,621 347,615"/>
<polygon fill="#f56666" points="351,607 351,603 354,601 353,596 357,593 357,590 359,587 360,583 361,580 363,576 363,571 366,570 368,567 369,564 370,559 373,555 374,552 376,550 382,549 386,546 385,549 389,555 390,558 394,560 396,563 398,567 400,568 401,572 405,575 407,577 410,580 413,582 414,584 418,587 421,589 421,595 426,596 427,600 429,602 431,604 431,610 433,614 429,616 429,619 426,622 422,621 417,619 413,619 411,615 408,613 404,613 401,614 395,619 394,619 390,623 384,624 381,625 375,625 373,624 369,619 365,617 361,617 358,616 354,614 354,611"/>
<polygon fill="#f59999" points="366,580 369,577 372,572 375,570 377,566 379,567 383,568 388,569 389,572 390,577 392,578 396,584 399,585 399,588 405,591 407,592 410,597 406,599 405,603 400,607 396,605 394,604 391,602 387,603 384,599 381,597 376,595 376,592 371,590 370,586 368,583"/>
<polygon fill="#cc9184" points="352,608 355,606 360,602 363,602 365,597 371,599 374,601 378,600 382,602 385,604 389,606 390,608 391,613 390,615 386,620 385,622 379,619 376,620 371,620 368,617 365,618 363,617 358,615 355,609"/>
<polygon fill="#fd9431" points="391,627 393,624 396,622 401,617 405,615 409,617 411,615 415,616 421,616 425,618 427,614 433,614 437,619 439,623 442,626 440,629 438,632 438,637 437,639 436,643 434,646 435,652 434,654 433,661 434,663 430,665 425,663 423,665 418,667 415,665 412,666 410,665 404,665 401,666 399,667 396,664 394,661 392,656 393,651 395,646 395,643 395,638 393,635 393,631"/>
<polygon fill="#fd7f12" points="404,634 408,633 410,633 416,631 418,629 425,630 427,633 431,635 428,637 428,643 428,646 427,651 425,652 418,652 416,654 410,656 407,653 407,650 402,646 403,641 403,638"/>
<polygon fill="#fd9431" points="400,590 405,591 410,593 412,597 415,600 416,604 419,606 422,611 423,614 425,618 421,616 419,616 414,615 412,612 409,607 406,604 405,600 403,597 401,594"/>
<polygon fill="#b3b3b3" points="376,555 382,556 383,558 384,562 386,565 389,568 390,571 392,576 392,579 395,582 395,586 391,586 389,582 386,578 384,574 384,571 382,568 379,563 378,559"/>
<polygon fill="#4d4d4d" points="340,536 347,538 349,541 352,546 354,550 355,553 355,557 356,561 358,566 351,567 351,565 348,559 347,556 346,552 344,549 342,545 342,540"/>
<polygon fill="#b3b3b3" points="328,519 332,519 334,520 336,524 336,528 338,531 332,530 331,526 329,522"/>
<polygon fill="#ffffff" points="383,622 385,623 390,624 392,630 384,629 384,626"/>
<polygon fill="#ffffff" points="335,606 339,607 344,608 342,612 342,615 337,614 334,613"/>
<polygon fill="#ff85e0" points="325,458 326,456 331,454 334,452 336,454 341,457 339,460 335,464 333,466 329,465 325,465 324,462"/>
<polygon fill="#ff85e0" points="333,481 338,479 342,478 345,477 350,475 351,477 355,480 357,483 354,486 352,489 349,494 344,493 340,492 337,492 335,487 334,484"/>
<polygon fill="#ff85e0" points="343,504 349,503 352,502 357,502 360,501 362,505 364,510 359,511 355,512 350,513 349,508 347,506"/>
<polygon fill="#ff85e0" points="367,521 370,521 373,520 378,519 381,519 383,522 386,525 387,528 383,529 379,530 374,532 371,528 368,525"/>
<polygon fill="#ff85e0" points="405,515 408,512 410,511 411,508 415,504 417,511 415,513 414,517 411,520 410,523 406,520"/>
<polygon fill="#ff85e0" points="354,507 360,510 362,513 365,515 368,518 369,520 373,524 374,527 377,529 371,532 370,529 368,525 365,522 363,519 362,516 359,514 357,511"/>
<polygon fill="#80200a" points="359,481 362,477 364,474 367,472 369,468 372,470 370,473 367,476 364,480 362,483"/>
<polygon fill="#b3b3b3" points="404,449 409,447 409,450 408,456 407,458 405,461 404,465 404,469 403,471 397,472 399,470 399,465 399,461 400,459 401,455 403,452"/>
<polygon fill="#b3b3b3" points="415,446 420,445 420,449 420,452 418,456 418,459 418,464 418,466 416,470 415,474 414,478 408,477 409,475 409,472 410,467 411,464 411,459 413,455 414,452 413,449"/>
<polygon fill="#b3b3b3" points="427,450 433,452 432,454 433,459 431,463 432,467 429,470 429,472 428,477 430,481 429,484 428,488 421,488 421,485 423,480 421,477 423,473 425,470 424,465 424,463 425,458 426,454"/>
<polygon fill="#b3b3b3" points="436,466 442,466 440,470 440,475 439,478 441,482 438,486 438,490 438,493 437,496 438,499 438,505 438,507 431,507 431,504 432,500 432,495 432,493 432,489 434,485 435,482 435,477 435,474 436,470"/>
<polygon fill="#b3b3b3" points="377,485 379,487 379,491 377,495 375,499 375,503 369,500 372,496 372,493 375,490"/>
<polygon fill="#b3b3b3" points="387,494 392,496 389,498 389,503 386,505 386,511 382,508 383,504 385,501 386,497"/>
<polygon fill="#b3b3b3" points="420,489 427,489 427,494 428,497 429,500 430,504 427,508 424,510 424,505 422,503 421,500 422,495 421,493"/>
<polygon fill="#b3b3b3" points="391,451 398,450 397,455 396,459 396,462 393,466 394,469 389,469 390,466 389,462 391,459 392,454"/>
<polygon fill="#b3b3b3" points="402,477 405,478 406,481 406,484 404,488 404,491 403,495 403,500 403,503 397,502 398,500 398,494 398,490 398,488 400,485 401,481"/>
<polygon fill="#b3b3b3" points="412,480 418,480 417,483 416,488 416,492 415,496 415,499 413,503 414,508 407,507 409,503 409,499 409,496 409,491 409,488 410,483"/>
<polygon fill="#b3b3b3" points="423,495 428,493 427,499 426,500 425,505 426,509 425,514 423,517 425,520 418,520 419,518 419,514 420,510 420,506 421,501 422,498"/>
<polygon fill="#b3b3b3" points="430,449 435,448 434,453 434,455 434,460 433,464 428,464 428,459 429,456 429,451"/>
<polygon fill="#b3b3b3" points="440,448 444,449 443,451 444,455 442,460 442,464 437,463 440,461 438,456 438,453"/>
<polygon fill="#b3b3b3" points="366,455 371,457 369,460 368,463 366,467 365,473 363,473 364,469 364,463 365,460"/>
<polygon fill="#b3b3b3" points="382,463 388,465 387,469 385,473 383,476 383,480 382,483 377,482 380,480 379,477 381,471 382,469"/>
<polygon fill="#b3b3b3" points="391,512 396,514 394,519 393,522 391,527 387,525 388,521 390,516"/>
<polygon fill="#b3b3b3" points="402,508 408,508 406,513 404,518 404,522 401,519 401,515 402,511"/>
<polygon fill="#4d4d4d" points="415,456 419,456 417,460 417,463 417,466 413,467 415,463 416,460"/>
<polygon fill="#4d4d4d" points="431,480 434,480 433,484 432,489 431,494 428,494 429,489 430,485"/>
<polygon fill="#4d4d4d" points="401,489 403,488 403,493 403,498 399,497 400,493"/>
<polygon fill="#ff85e0" points="375,530 377,529 381,532 384,533 388,536 392,536 391,541 395,543 397,546 402,548 404,548 409,546 415,546 416,546 419,540 422,538 422,534 424,532 428,528 430,530 435,533 439,535 440,536 443,539 445,542 446,547 446,550 446,553 446,557 447,560 446,565 445,570 446,574 446,576 448,580 445,583 443,586 441,590 438,591 436,595 432,597 430,601 426,598 426,596 423,595 419,590 418,588 415,584 412,583 408,581 409,577 406,573 401,573 401,570 399,567 397,564 393,560 392,557 388,554 386,550 383,548 381,545 379,542 376,538 375,535 375,534"/>
<polygon fill="#80200a" points="377,541 381,541 383,544 386,544 389,545 394,548 398,550 401,553 404,552 409,553 414,552 417,548 419,548 425,544 429,541 432,544 434,546 438,546 442,548 446,547 446,552 445,555 446,559 447,561 446,565 445,570 446,573 446,576 446,581 445,583 443,587 441,587 437,592 433,596 432,597 429,602 427,599 426,597 423,593 421,592 418,588 415,584 413,581 411,581 408,577 406,574 404,573 401,570 399,567 397,564 395,562 393,558 390,555 388,552 386,549 384,545 379,543"/>
<polygon fill="#f56666" points="402,558 404,557 410,558 414,560 416,558 422,555 424,555 427,553 433,554 438,553 442,552 444,559 445,562 444,565 446,571 445,575 446,579 444,583 439,585 438,588 437,594 434,595 431,598 429,597 426,593 422,588 418,588 417,585 414,580 412,577 409,573 408,573 406,568 404,567 404,563"/>
<polygon fill="#f5cccc" points="419,563 424,563 428,564 431,562 436,561 439,565 441,569 439,572 433,575 430,579 426,576 422,574 422,571 419,566"/>
<polygon fill="#ffffff" points="412,567 415,566 420,565 420,570 421,575 417,575 413,576 413,570"/>
<polygon fill="#b3b3b3" points="1247,361 1252,357 1253,355 1257,353 1261,351 1263,350 1267,348 1270,346 1275,345 1279,345 1281,343 1285,345 1289,344 1294,344 1296,345 1300,345 1300,349 1301,352 1301,354 1300,359 1302,364 1301,367 1300,372 1298,375 1297,379 1298,383 1296,387 1292,390 1290,391 1285,391 1280,392 1277,390 1274,389 1269,389 1268,386 1263,386 1261,382 1257,379 1254,378 1249,376 1251,372 1248,369 1248,365"/>
<polygon fill="#4d4d4d" points="1273,352 1277,351 1280,348 1286,348 1289,347 1292,352 1293,351 1294,357 1296,361 1298,365 1297,366 1296,371 1293,377 1291,380 1290,380 1287,382 1284,386 1278,386 1274,389 1273,386 1269,383 1268,381 1265,375 1265,373 1265,369 1265,364 1268,359 1271,356"/>
<polygon fill="#4d4d4d" points="1252,375 1256,373 1259,379 1255,381"/>
<polygon fill="#b3b3b3" points="1261,412 1266,412 1272,410 1277,410 1279,409 1283,406 1285,406 1286,409 1287,415 1283,418 1280,420 1276,421 1273,423 1268,421 1265,416"/>
<polygon fill="#ffffff" points="1261,382 1262,384 1267,386 1270,389 1272,391 1275,392 1279,393 1285,394 1281,398 1278,398 1274,400 1271,399 1267,396 1263,395 1263,390 1260,387"/>
<polygon fill="#b3b3b3" points="1305,344 1307,343 1310,344 1314,344 1318,342 1323,343 1324,341 1330,342 1332,344 1337,342 1340,342 1339,347 1339,354 1336,355 1334,361 1332,364 1329,366 1328,371 1326,373 1326,377 1324,383 1325,385 1324,390 1321,393 1319,398 1314,397 1313,399 1308,396 1305,393 1306,390 1306,387 1305,381 1302,378 1303,375 1302,371 1303,367 1302,361 1303,358 1302,354 1303,351 1304,348"/>
<polygon fill="#4d4d4d" points="1320,342 1323,343 1328,344 1331,343 1337,342 1340,343 1338,346 1337,354 1333,355 1333,358 1325,354 1324,354 1321,351 1320,347"/>
<polygon fill="#ffffff" points="1308,345 1312,345 1313,348 1312,352 1311,355 1312,359 1310,365 1309,368 1309,371 1308,376 1306,372 1307,368 1307,365 1306,359 1307,357 1308,353 1307,350"/>
<polygon fill="#ffffff" points="1312,381 1320,378 1319,382 1320,384 1320,388 1319,392 1321,395 1315,395 1312,397 1313,392 1312,387 1312,384"/>
<polygon fill="#b3b3b3" points="1332,361 1336,360 1340,359 1344,361 1348,360 1351,361 1355,359 1355,364 1353,368 1353,373 1355,376 1356,380 1352,380 1349,381 1344,377 1340,373 1337,376 1336,381 1332,382 1328,380 1326,375 1329,371 1331,366 1332,365"/>
<polygon fill="#4d4d4d" points="1343,344 1343,338 1344,332 1347,333 1351,331 1351,336 1351,338 1353,342 1351,347 1351,349 1352,354 1354,356 1353,359 1348,364 1340,365 1338,361 1337,357 1341,351 1339,346"/>
<polygon fill="#b3b3b3" points="1421,325 1423,327 1426,330 1430,333 1432,335 1435,339 1436,343 1436,347 1430,350 1427,350 1425,354 1420,354 1414,357 1413,356 1407,359 1404,360 1400,359 1397,362 1393,362 1390,366 1388,369 1382,369 1380,368 1374,371 1371,372 1368,373 1366,375 1361,379 1361,381 1356,383 1353,382 1356,376 1355,373 1353,372 1353,368 1352,362 1355,361 1359,357 1362,355 1366,353 1371,352 1374,353 1379,351 1381,350 1386,348 1388,346 1390,343 1394,342 1398,338 1401,337 1404,334 1407,333 1413,331 1414,330 1418,326"/>
<polygon fill="#4d4d4d" points="1353,332 1354,330 1354,325 1357,324 1359,320 1362,318 1363,316 1365,311 1368,307 1369,306 1370,301 1374,299 1377,296 1377,293 1380,291 1383,287 1385,284 1387,283 1388,277 1389,276 1395,277 1398,278 1400,279 1403,281 1409,281 1410,282 1416,284 1416,286 1422,288 1422,291 1421,294 1420,296 1420,300 1421,304 1421,307 1420,311 1422,315 1420,321 1422,324 1420,326 1418,329 1414,333 1410,334 1404,337 1399,339 1398,340 1394,340 1390,343 1389,346 1384,345 1382,349 1379,350 1375,352 1372,352 1366,355 1363,356 1360,357 1352,359 1352,357 1354,353 1352,350 1354,347 1352,344 1351,339 1352,335"/>
<polygon fill="#b3b3b3" points="1061,324 1065,327 1066,327 1071,331 1076,332 1078,332 1082,333 1083,338 1085,341 1086,344 1086,347 1088,349 1086,352 1082,356 1081,357 1075,359 1072,362 1068,361 1063,365 1060,368 1058,365 1055,359 1055,357 1052,353 1053,350 1057,347 1057,343 1059,338 1061,333 1061,329"/>
<polygon fill="#ffffff" points="1057,357 1062,356 1067,354 1068,359 1063,359 1060,360"/>
<polygon fill="#ffffff" points="979,380 980,376 982,374 982,370 985,367 986,363 987,361 993,357 995,355 998,358 1001,361 999,363 998,368 996,373 997,375 995,380 992,382 990,386 988,389 984,389 983,385 980,382"/>
<polygon fill="#ffffff" points="944,394 947,392 950,391 956,388 960,387 963,386 965,385 968,386 972,384 974,384 979,382 981,384 986,384 991,382 990,386 989,390 991,394 985,397 983,396 978,396 977,397 972,397 968,398 966,399 961,399 958,399 954,400 951,399 947,397"/>
<polygon fill="#b3b3b3" points="658,397 661,395 666,394 669,395 672,396 676,396 678,395 681,393 685,396 691,393 694,395 696,394 701,394 705,393 707,396 712,394 714,395 720,396 722,394 726,395 731,398 734,398 736,397 742,399 744,398 749,400 753,401 756,404 760,404 764,407 769,405 772,407 777,407 779,406 782,408 786,407 791,409 793,411 795,414 796,418 801,420 795,423 794,424 789,424 785,426 783,426 779,427 777,428 773,427 767,426 765,427 758,423 758,426 753,429 751,429 747,430 743,433 741,434 737,433 733,431 729,432 726,428 722,427 719,426 717,423 713,427 709,429 709,432 706,435 703,439 699,441 697,439 692,437 689,435 688,434 682,432 680,428 678,433 673,434 670,437 668,439 665,440 663,435 660,435 657,430 659,427 657,425 658,419 658,417 658,412 657,409 658,404 659,403 657,399"/>
<polygon fill="#ffffff" points="707,400 710,399 715,399 719,400 723,399 726,401 731,399 732,399 737,402 742,402 745,400 746,404 747,408 745,412 747,417 748,421 747,424 744,426 745,431 742,433 739,437 738,435 731,435 728,433 725,431 721,429 718,429 714,428 714,431 712,433 709,438 706,440 708,437 707,432 706,430 706,427 708,422 705,419 706,413 708,411 706,405 706,404"/>
<polygon fill="#ffffff" points="700,376 703,375 709,375 712,376 717,375 720,373 720,378 721,381 721,384 721,389 718,388 713,389 709,388 707,389 703,390 701,387 701,383 700,379"/>
<polygon fill="#ffffff" points="746,392 748,392 753,392 757,390 759,390 760,395 762,401 759,400 754,401 751,401 747,402 747,397"/>
<polygon fill="#b3b3b3" points="657,447 660,447 664,447 667,446 671,446 675,447 680,447 682,446 685,446 691,447 691,451 692,453 692,458 690,463 691,465 693,469 689,473 687,474 682,476 679,480 677,478 673,475 672,473 669,471 664,474 663,476 661,480 660,476 659,474 659,470 658,465 659,461 659,458 659,454 659,451"/>
</g>
<g shape-rendering="crispEdges">
<polygon fill="#ffff00" points="1099,877 1103,876 1104,879 1100,880"/>
<polygon fill="#ffff00" points="1116,879 1120,877 1121,880 1117,881"/>
<polygon fill="#ffff00" points="1124,878 1130,875 1136,873 1138,876 1132,879 1126,880"/>
<polygon fill="#ffff00" points="1138,875 1144,872 1146,874 1140,877"/>
<polygon fill="#ffff00" points="1147,871 1152,866 1156,860 1158,861 1155,868 1150,873"/>
<polygon fill="#ffff00" points="1158,858 1160,852 1162,853 1160,859"/>
<polygon fill="#87d3f2" points="352,651 356,655 358,661 355,661 352,656"/>
<polygon fill="#c896d6" points="335,642 340,643 341,647 336,646"/>
<polygon fill="#5bbbe5" points="316,634 322,634 322,636 316,636"/>
<polygon fill="#2fa3d9" points="327,645 329,645 329,648 327,648"/>
<polygon fill="#b3b3b3" points="969,264 977,260 985,256 986,259 978,264 970,267"/>
<polygon fill="#b3b3b3" points="1081,311 1089,311 1089,316 1081,316"/>
<polygon fill="#fdab50" points="1144,771 1147,778 1150,786 1149,790 1146,782 1143,775"/>
</g>
<g class="bd">
<polygon points="262,235.5 842.5,235.5 842.4,232.3 843.3,228.8 842.5,225.5 845.8,225.7 848.6,225.5 852.5,225.5 853,230 852.4,233 852.7,237.9 853.8,241.2 857.8,241.3 862.1,243.8 865,243.8 868.6,245.2 871.1,245.4 875,247.5 878.4,245.9 881.1,245.4 885,245 888.3,245.8 893.2,247.3 897.5,247.5 901.3,250.3 905,252.5 908.3,253.6 911.6,253.8 915,255 919.2,257.6 922.3,258.7 925,260 928,258.3 931.3,256.7 935,256.2 938.8,256.9 942.3,257.7 945,258.8 949.3,260 951.1,259.5 956.2,260.6 959.9,261.2 962.5,262 958.6,263.9 956.8,265 952.4,266.8 950,268.8 947.7,271.1 943.1,272 939.9,273.6 937.5,276.2 934.9,277.9 931.4,280.5 927.6,283.2 925,285 921,287.3 917.6,289 915,291.2 910.7,292.1 908.3,294.3 903.8,295 907.1,294.9 910.7,293.1 915,292.5 919.8,292.3 922.6,292.4 927.5,291 930.1,289.1 933.8,288 935.1,291.4 935.5,295.5 940,300 946,298.8 948.6,296.3 951.3,295.6 955,293.8 957.9,293.1 961.4,292 965,291.2 969.2,289.1 971.8,287.7 975,285 977.8,282.3 982.4,281.4 985,278.8 988,277.4 992.3,277.9 994.8,277.1 998.8,275.5 1000,278.8 997.4,281 993.2,282.2 990,285 987.3,290.2 986.2,293.8 990.2,292.2 995,290 998.3,292.5 1002.5,293.8 1005.2,295.5 1006.9,298.3 1010,300 1013,299.1 1017.6,299.8 1021.2,298.8 1025.2,297.5 1029.5,296.6 1032.5,296.2 1035.4,295.5 1039.9,294.8 1043.2,295.1 1047.5,295 1051.4,294.1 1054.8,295.2 1058.8,294.2 1060.2,298 1060,301.2 1064.5,301.8 1067.7,301.2 1072.5,302.5 1074.1,307 1077.5,310 1081.2,315 1078.2,315.9 1073.6,315.4 1071,315.2 1064.9,315.2 1060.9,317.2 1057.8,315.6 1054.8,313.2 1050.4,313.3 1046.7,311.7 1041.9,313 1038.7,314.2 1035.1,316.9 1030.6,318.2 1027.7,319.3 1024.4,320.3 1020.5,320.3 1017.2,318.8 1014.5,316.7 1012.9,319.9 1009.6,322.3 1007.4,324.3 1005.7,327.8 1002.9,330.8 1000.3,334.4 998.8,338.9 997,343 994.7,346.3 994,349 993.3,352.5 998,349 1002.6,348.4 1005.4,346.5 1008,343.5 1010.3,341 1012,338.6 1013.5,335.7 1016.5,332.4 1013.7,335.7 1012.5,338.2 1010.9,341.8 1008.7,345.6 1006.5,348 1005,350.4 1004.4,354.5 1003,358.9 1002.4,362.6 1000.8,366.1 1000.3,370.7 1000.5,375.6 999.3,380 998.6,384 997.8,387 997.5,390 997.3,393.6 998.7,398.2 999.1,401 998.8,405 999.5,408.4 999.3,412.5 1001.2,416.9 1001.2,420 1002.9,425.2 1003.8,428.8 1007.7,428.2 1012.5,428.8 1015.7,426.7 1018.7,425.3 1022.5,423.8 1024.3,420.9 1025.3,418.7 1028.1,415.2 1028.8,412.5 1028.9,408.5 1031.3,405.4 1031.9,403.3 1032.5,400 1031.7,396.4 1030.8,391 1031.2,387.5 1030.2,383.5 1030,380.8 1027.8,377.3 1027.5,375 1027.3,370.7 1026.9,366.9 1026.2,362.5 1027.6,359.2 1028.2,353.6 1028.8,350 1031.2,345.7 1033.8,342.5 1035.8,340.8 1040,338.6 1042.5,337.5 1045.8,334.7 1050,332.5 1052.9,330 1055.2,328 1057.5,325 1061.2,320 1064.5,321.5 1068.9,321.1 1072.3,323.2 1075,323.8 1077.7,324.9 1081.9,327 1085,327.5 1087.3,330.1 1090.7,333 1092.5,335 1094.1,338.3 1094.4,341.1 1095,345 1094.1,348.9 1092.8,352.1 1091.2,355 1088.7,359.1 1087.9,362.5 1085,365 1082.6,368 1080,370 1080.9,374.5 1082.5,377.5 1087.5,376.2 1090.6,372.9 1092.5,370 1095.5,367.4 1100,365 1103.2,366.7 1106.2,367.5 1107.2,369.8 1108.7,373 1109.6,376.3 1110,380 1110.1,384.7 1110.2,387.7 1111.2,392.5 1110.4,396.2 1110.2,399.5 1108.8,402.5 1103.8,406.2 1101.4,409.4 1097.5,412.5 1096.6,415.1 1093.7,419.2 1092.5,422.5 1088.8,426.2 1091.2,428.2 1094.6,429.4 1097.8,431 1100,432.5 1103,433.1 1107.3,434.9 1110,435 1113.2,434.7 1118.3,433.2 1121.4,431.6 1125,431.2 1128.2,430 1131.4,427.9 1135.2,427.5 1137.5,426.2 1140.4,425.5 1143.9,423.7 1147.2,421.7 1150,421.2 1153.6,419.8 1157.8,419.5 1160.1,417.5 1163.3,416.1 1167.5,415 1171.1,413.7 1173.5,410.7 1175.9,409.2 1180.3,406.3 1182.5,405 1185.5,400.4 1187.5,397.5 1184.4,393.3 1182.5,390 1185,385 1189.1,384.4 1192.2,384.6 1195.5,384.5 1200,383.8 1203.1,384.6 1207.1,384.8 1211.3,386.1 1215,387 1218.5,386 1222.6,384.8 1225.7,384.8 1230,383.8 1233.6,382.1 1237.3,380.6 1240,378.8 1243.1,375.1 1245,372.5 1242.9,369.3 1240,365 1244.5,362.2 1247.5,360 1249.7,358.3 1252,355.9 1255,352.5 1258.2,349.7 1259.5,348.5 1262.1,345.2 1265,343.8 1269.3,342.2 1272.5,340.9 1302.5,340.9 1341.2,340.9 1343,336.7 1343.8,333.8 1347.3,333.2 1351.2,332 1354.8,329.8 1360,328.8 1357.5,323.8 1360.3,321.6 1363.3,317.2 1365,315 1365.6,311.7 1366.2,307.5 1368.3,305.3 1369.9,301.7 1372.5,300 1373,295.4 1375,292.5 1377.6,289.2 1380.1,285.2 1382.5,282.5 1384.4,279.5 1388.1,278.4 1390,275 1393.8,280 1397.8,278.9 1399.5,280 1403.4,279.3 1406.4,278.3 1410,278 1412.5,279.9 1415.2,281.2 1417.9,284.8 1420,286.2 1421.2,320 1423.8,321.8 1427.5,323.8 1428.6,328 1428.8,332.5 1430.7,335.2 1433.8,338.3 1436.2,342.5 1435,347.5 1432,349.9 1427.5,351.2 1424.1,353.8 1420,355 1416.5,355.5 1412.5,356.2 1408.9,357.5 1405,358.8 1402.1,359.9 1397.5,360 1394.6,364.5 1392.5,367.5 1389.2,369.3 1385,370 1381.8,371.7 1377.5,373.8 1374.5,376.3 1370,377.5 1367.9,381.7 1365,385 1363,387.3 1360,390 1357.5,395 1355,400 1352.9,401.7 1350,405 1351,408.7 1352.5,412.5 1354.1,414.7 1357.5,417.5 1362,417 1366.9,418.1 1371.2,418.8 1372.6,422.7 1375,425 1374.7,428.5 1373.8,432.5 1369.7,433.3 1365,433.8 1361.3,434.8 1357.5,436.2 1354.6,434.6 1350,432.5 1346.2,433.8 1343.3,435.1 1340.4,434.6 1336.2,436.2 1312.5,440 1309,441.7 1304.6,442.3 1300.4,443.2 1297.5,445 1291.2,446.2 1290.6,449.7 1290,455.3 1290,458.8 1291.2,465 1290.4,468.1 1290.2,471.4 1289.3,474.6 1287.5,477.5 1286.8,480.1 1285.2,484.6 1283.8,487.5 1280.7,490.8 1278.8,492.4 1276.6,495 1275,497.5 1270,500 1267.7,496.7 1265,495 1263.3,491.1 1260,487.5 1258.2,483.9 1256.2,480 1260,482.5 1260.6,485.4 1261.9,489.3 1262.5,492.5 1264.6,496.6 1267.5,500 1267.5,502.5 1267.9,505.8 1268.8,510 1267,512.5 1265.7,516.3 1265.5,519.9 1265,522.5 1263.8,525 1262.5,530 1260,532.5 1257.6,536.6 1256.5,539.1 1255,542.5 1254,545.8 1251.2,550 1247.5,551.2 1247.1,548.3 1247.1,543.7 1246.2,540 1246.3,537.2 1244.8,532.6 1243.8,530 1244.4,526.6 1244,522.5 1245,520 1244.2,516 1243.2,513.6 1242.5,510 1241.6,506.2 1241,503.2 1240,500 1241,496.1 1241,492 1243.9,489.3 1245,485 1241,488 1239.4,490 1237,493 1235.3,497.2 1235,500 1235.5,503.6 1234.7,506.3 1235,510 1233.5,513.9 1231.2,517.5 1229.5,521.5 1227.5,525 1229.2,528.2 1230,532.5 1228.9,537.1 1228.8,540 1231.4,544.4 1232.5,547.5 1235.4,549.2 1240,552.5 1243.3,554.2 1247.5,556.2 1250,561.2 1251.2,564 1251.9,567.4 1252.1,571.9 1253.8,575 1255.1,578.6 1256,581.6 1257.5,585 1257.4,588.1 1258.8,592.3 1258.8,595 1255.1,596.8 1253.5,600.2 1250,602.5 1246.7,604.5 1242.5,607.5 1240.3,609.6 1238.9,612.3 1236.2,615 1233.8,617.5 1230.4,618.4 1228,620 1225.1,622.8 1221.2,623.8 1218,626 1214.3,628.7 1211.2,629.2 1209.1,632 1206,634 1201.8,634.6 1197,636 1194.3,636.6 1190.2,639 1187.5,640 1184.2,642.1 1182.5,645 1180.4,648.7 1177.1,651 1175,655 1172.2,657.4 1169.8,658.3 1167.9,661.1 1165.8,663.8 1162.5,665 1160.1,666.8 1156.8,668.4 1152.8,670.4 1150,672.5 1148.3,677 1145,680 1141.2,684 1139.5,687.4 1138.5,691.1 1137.5,695 1136.4,697.9 1135.1,701.4 1135.2,704.4 1133.8,707.5 1133.1,711.4 1131.2,715 1131.3,718.8 1133.2,721.3 1132.3,725 1133.8,728.5 1135.2,731.9 1135,735 1136.4,737.5 1136.8,742.2 1136.8,744.2 1138.8,749.1 1138.4,751.9 1140,755 1140.6,758.8 1142.8,761.2 1143.2,765.5 1145,768.8 1146.1,771.4 1147.5,775 1149.4,778.6 1149.6,781.7 1151,785.4 1152.4,788.2 1153.3,792 1153.8,795 1155.4,798.9 1156.4,802.4 1157.7,805.3 1158,808.7 1159.5,811.5 1160,815 1160.4,817.9 1161.4,822.9 1161.3,824.9 1161.5,828.9 1162.5,832.5 1161.9,836.6 1161.3,838.7 1161.1,842.6 1161.6,845.6 1159,850.8 1157.8,854.5 1155.6,859.3 1151.4,860.9 1148.8,862.7 1144.7,863.8 1140.3,863.5 1137.8,859 1136.9,855.9 1134.6,852.5 1133,850.6 1131.8,847.3 1128.6,844.3 1125,842.2 1123.3,837.8 1122.1,834.7 1121.6,830.3 1119.8,827 1119.3,823.5 1117.3,820.1 1113.9,817.4 1111.3,813.3 1110.6,809.6 1108.6,807.3 1107.1,803 1106,799.1 1104.1,797 1104.4,792.6 1102.8,789.4 1103.7,786 1104.1,783.5 1105.4,779.2 1106.3,774.8 1105.7,771.2 1107.1,767.3 1105.4,764.4 1104.6,760.6 1102.8,757 1098.3,754.1 1095,752.5 1092.2,748.7 1090.7,745.9 1087.5,742.5 1085.2,740.9 1082.1,737.6 1080,735 1075.6,734.9 1072.5,733.8 1068.5,735.9 1066.9,737.5 1062.4,738 1060,740 1057.1,740.1 1053.3,741.6 1050,742.5 1048.9,739.5 1046.9,735.9 1044.9,733 1042.5,730 1039.9,727.6 1036.4,726.1 1032.5,725 1028.4,724.2 1023.6,723.9 1020,722.5 1015.5,722.6 1010.9,723 1007.5,723.8 1002.5,725 999.3,726.6 996.2,727.5 995.4,723.7 994.4,719 994.5,715 993.8,720 993.8,723.6 992.5,727.5 988.5,726 986.2,725 982.9,724.8 978.9,725.5 974.1,726.8 971.2,726.2 968,727 964,728.4 960,730 958.3,733.1 957,736 953.1,734.2 950,733 946.5,732 942.9,729.8 940,729 936.4,730.7 932,733 935.8,736.1 938,739 942.4,738.4 946.6,737.6 950,738 952.7,737.9 957,739.7 960,740 963.4,738.3 968,737 966,743 964.1,746.2 961,749 963.3,751 967,754 969.4,755.8 973,759 969.3,759.7 966,762 964.8,758.5 962,755.6 960,752 957,754.6 953,756 948.8,756.4 945,757.5 941.3,755.9 938,756 932.5,757.5 929.8,755.4 928.4,753 925,750 921.5,747.7 917.5,745 912.9,742.8 910,741.2 906.6,742.8 903,743.5 900.6,745.5 897.5,746.2 895,745.2 890.6,744.2 888.9,742.6 885,741.2 880.6,741.7 876,742.5 872.5,742.5 870.3,743.5 866.6,745 862.6,746.1 860,746.2 856.9,745.3 852.6,745 850,745 848.5,748.7 846.4,752.4 845,755 842.3,756.9 839.3,759.9 836.8,761.7 835.1,763.1 832.5,765 829.5,766.1 827,769 823.7,769.9 820,771.2 816,773.1 813,774.5 810,775 807,778.5 805.6,781.1 802.5,785 799.7,787.2 795.8,790.3 793.8,793.8 793,798.3 790.7,800.9 788.8,805 791.6,809.2 793.8,812.5 794.4,816.8 796,820 796.2,825 796.5,828.2 797.1,831.3 798.6,834.2 799.3,837.6 800,841.2 796,840.9 791.9,840.4 787.5,841.2 784.7,839.7 782.1,839.6 778.1,838.3 775,837.5 771.8,836.6 768.6,835.5 764.7,834.6 761.2,832.5 760.6,829.8 758.6,825.7 757.5,822.5 756.4,820.2 755,816.5 753.6,814.2 752.2,809.7 751.2,807.5 750.1,805.1 748.5,801.4 747,797.8 745,795 743.2,791.2 740.3,788.9 739,785.8 736.2,783.4 735,780 733.4,776.2 731.3,773.1 730,770 728,766.2 727.7,764.8 725.8,761.7 723.9,758.5 722.5,755 719.5,752.9 717.6,750.7 714.3,748 712.5,745 708.5,744.2 706.6,742.4 702.5,742.5 698.7,741.7 695.5,740.9 692.5,741.2 688.8,743.7 683.8,745 682.3,748.1 681.4,750.8 680,755 676.7,759.5 675,762.5 671.3,761.2 669.1,760.9 665,758.8 661.6,756.1 658,755.3 655,752.5 652.8,749.5 649.8,747.2 646.2,745 645,741.1 644.4,739.2 642.5,735 640.3,731.9 638.6,729 637.5,725 634.2,721.8 632.9,719.7 630,717.5 628.2,715.7 625.4,711.8 622.9,710.8 620,707.5 617.9,704.2 615.5,702.2 614.4,699.5 611.4,697 610,695 607.4,692.9 603.9,690 601.2,687 568.8,689.5 569.4,693.8 568.3,697.3 568.8,701.8 565.9,702.1 561.1,702.1 557.2,702.7 554.2,701.9 550.8,701.8 507.5,702.5 430,668.8 430,666 381.2,668.8 379.4,664.8 377.5,662.5 376,658.8 373.7,656.4 372.5,652.5 369.3,648.8 368,645.4 365,642.5 361.8,640.7 358.8,639.5 357.4,636 353.8,635 350.4,634 347,632.8 344,629.9 340.9,629.3 337.5,627.5 334.1,625.6 331.8,623.2 328.1,621.6 325,618.8 322.1,618 319.3,616.7 315.8,615.9 312.2,615.3 308.8,615 308.3,611.9 308.6,608.3 307.3,604.1 307.5,600.5 304.5,597.3 302.5,593 300,590.5 298.3,587.8 296.4,584.9 293.8,580.5 292.5,578 289.6,575.5 288.4,572.9 286.1,571 283.7,568.7 282.5,565.5 281.8,561.4 281.4,556.7 280,553 277.4,549.7 275.2,546.7 274.2,544 271.6,541.2 270,538 268.8,534.4 268.6,529.2 268.8,525.5 264.8,525 262.7,524.3 258.8,523 256.2,519.8 255,516.5 254.3,513.2 251.7,511.5 250,508 249.1,504.4 246.4,502.4 243.9,498.5 243.7,495.4 241.2,493 240,489.3 239,485.6 237.3,483.9 237.6,480.1 235.6,475.9 235,473 233.6,469.5 231.9,467.8 230.3,463.7 229.9,461.2 227.5,458 227.3,454.1 229,449.7 229.1,447.1 230,443 230,420 229.9,417 229.2,413.7 227.6,411.2 227,407.5 226.1,404.7 225.2,400.6 225,397.5 225.4,393.8 226.3,389.5 227.3,386.2 228.8,382.5 229.2,378.9 231.1,375.8 231.7,371.5 231.5,367.7 232.5,365 233.3,361.4 232.9,357.5 233.2,354.6 234,352.4 235,347.9 235,345 235.2,341 236.6,338.1 236.7,335.4 237.4,330.8 236.8,328.1 237.5,325 236.7,321.9 237.2,317.9 237.5,312.8 237.3,309.3 237.5,306 236,302 236.4,298.4 235.3,295.7 235,292.5 234.2,288.5 233.7,285.4 232.5,282.5 231.7,279.7 229.4,275.7 228.4,273.5 227.5,270 225.2,266.8 223.8,263.5 221,261 220.5,257.4 220.2,253.5 220.5,251 223.5,252.2 228.3,253.6 232,254 236.9,254.6 240.3,256.8 244,257 246.8,257.7 251,258.5 254,258 256,264 255.7,267.5 254,272 255.2,275.3 256,280 257.9,283.3 260,287 262.2,285.3 266,284 267.7,280 270,276 270.1,271.4 271,268 270.5,264.6 269.7,261.6 270,258 268,253.3 267,250 267.2,246.4 268,243 262,241 262,235.5" fill="none"/>
<polygon points="1292.5,450 1312.5,446.2 1333.8,441.2 1335,446.2 1320,452.5 1305,456.2 1293.8,456.2" fill="none"/>
<polyline points="237.5,306 241,306.6 246.2,307.1 250,307.5 253.3,308.3 255.6,310.6 258.8,312.5 258.7,315.7 259.4,319.2 261,322.5 264.5,323.6 267.4,324.4 271,326 274,324.6 279.4,323.8 282.5,322.5 286.2,323.2 290.3,323.3 295,323.8 299.4,323.7 303.1,322.1 307.5,321 311.6,320.7 314.4,319.7 317.5,318.8 320.5,317.8 323.3,317.8 327.6,316.3 330,315.8 334.5,314.4 336.8,314.8 340.9,314 345,313.8 349.4,313 351.4,313.1 355.8,313 358.1,313.4 362.5,313.2 365.9,312.9 369.7,313.7 373.3,313.7 376.9,314.2 381.3,313.4 384,313.8" fill="none"/>
<polyline points="382.5,235.5 382.5,305 385,313.8" fill="none"/>
<polyline points="385,313.8 387.6,316.5 390.5,318.3 393.8,320 393.2,323.7 392.8,327.3 391,330 389.1,333.3 388.5,336.4 387,339 386,342.5 384.4,345.4 381.5,347.7 380,351 378.7,353.7 378,357.5 381.5,359.3 385,362.5 383.6,365.5 383.8,370 382.6,373.7 382.2,376.6 382.5,380 382.5,420" fill="none"/>
<polyline points="230,420 508.6,420" fill="none"/>
<polyline points="320,420 320,499.2 433.8,603" fill="none"/>
<polyline points="433.8,603 435.1,606.3 434.8,610.3 436.2,613 439.4,615.2 440.8,619 443.8,622 442.4,624.6 440.4,627.1 438.5,629.9 436.2,633 434.7,636.6 434.4,639.8 432.6,642.2 431.2,645.5 432.9,649.1 434.3,652.7 435,655.5 432.7,658.8 432,662 430,666" fill="none"/>
<polyline points="445.6,420 445.6,552.1" fill="none"/>
<polyline points="445.6,552.1 442.5,554 442.5,578 432.5,574.2 430,583 433.8,603" fill="none"/>
<polyline points="402.8,235.5 402.5,261 403.5,263 405.8,267.5 408,269 408.8,272.5 411,275.5 412.5,278.8 415.5,280.8 418.8,284.1 419.9,285.9 422.8,286.9 426.2,290 428.4,292.5 432.1,293.5 433.8,296.2 440,297.5 439.3,300 439.2,304.1 438.8,307.5 437.3,311.5 436.2,316.2 436.2,321.2 435,325 440,327.5 443.4,324.8 447.5,322.5 450.2,326.7 452.5,330 455,333.1 456.2,336.7 457.5,340 460.1,341.9 461.1,344.3 463.8,347.5 466.6,350 467.9,352.6 470,356.2 473.8,354.6 478.5,353.9 482.5,353.8 486.2,353.1 489,353.2 492.8,352.6 495.7,352 500,352.5 503.8,347.5 506.9,349.9 508.6,353" fill="none"/>
<polyline points="508.6,340.9 656,340.9 656,446.4 508.6,446.4 508.6,340.9" fill="none"/>
<polyline points="508.6,446.4 508.6,420" fill="none"/>
<polyline points="656,235.5 656,340.9" fill="none"/>
<polyline points="656,316.1 812,316.1" fill="none"/>
<polyline points="656,393.7 772.5,393.7 782.5,399.5 797.5,398 807.5,403.5 812.5,406" fill="none"/>
<polyline points="551,446.4 551,552.1" fill="none"/>
<polyline points="445.6,552.1 854.7,552.1" fill="none"/>
<polyline points="551,446.4 697.9,446.4" fill="none"/>
<polyline points="697.9,446.4 697.9,552.1" fill="none"/>
<polyline points="697.9,472.9 842,472.9" fill="none"/>
<polyline points="551,552.1 550.8,701.8" fill="none"/>
<polyline points="601.2,687 601.2,684.1 675.8,684.1" fill="none"/>
<polyline points="675.8,684.1 677.3,552.1" fill="none"/>
<polyline points="677.3,565.3 741.6,565.3 741.6,615.5 750,620.5 760,624.2 770,628 782.5,634.2 795,633 805,638 817.5,636.8 830,633 842.5,633 850,638 857.5,639.2" fill="none"/>
<polyline points="800,235.5 805,252.5 807.5,270 811,290 813.8,305 812.5,316 807.5,323.8 815,330 817.5,345 818.8,380.5 812.5,383.5 813.8,396 812.5,406 817.5,417.5 825,435 827.5,443 830,453 835,465.5 842.5,473 847.5,478 846.2,485.5 854.7,495.5 854.7,552.1 857.8,565.3 857.8,639.2 867.5,641.8 867.5,657.7 867.5,682.5 872.5,692.5 876.2,707.5 875,725 873.8,737.5 872.5,742.5" fill="none"/>
<polyline points="818.8,380.5 925,380.5" fill="none"/>
<polyline points="830,457.5 915,457.5 921.2,460" fill="none"/>
<polyline points="903.8,295 902.8,298.2 903.3,303.4 902.7,306.9 903,310 900.2,313 897.5,316.2 894.9,319.2 891.2,322.5 890.9,325.9 892.4,329.4 892.5,332.5 892.9,337.5 894.8,341.7 895,345 897.4,348.1 900.4,349.4 902.5,352.5 905,354.4 908.5,356.7 912.5,360 914.7,363 917.2,365 919.1,367 922.5,370 924.2,372.6 924.2,377.6 925,380.5 926.4,384.9 926.5,389 927.5,392.5 929.8,396.3 931.7,398.4 932.5,402.5 936.6,404.8 939.5,407.1 942.5,410 945.3,412.5 946.8,416.2 948.8,420 947.3,423.1 946.5,427.2 945,430 941.4,431.9 938.1,432.9 935,435 933.9,438.7 931.2,443 928.4,446.2 927,450 925.5,452.1 923.6,455.4 921.2,458 921.2,460.8 919.7,464 920,468 921,471 921.6,474.3 923.6,477.1 925,480.5 927.6,484.6 929.5,487.9 932.5,490.5 933.8,494.3 935.1,498 937.5,500.5 941.7,503.2 946.2,504.2 946.4,508.5 947.5,513 945,518 947.5,519.9 948.8,523.3 951.2,525.5 954.6,527.7 955.7,530.2 958.8,533 961.3,535.7 962.3,539.4 963.8,543 965.3,546.2 966.2,550.5 971.2,553 969.3,556.2 967.5,558.2 964.7,560.6 962.5,563 960.6,567.4 960,570.5 958.5,574.8 956.2,579.2 955.3,583.5 953.8,588 951,590 948.8,593 948.3,596.9 947.5,600.5 945,602.2 942.5,605.5 941.9,608.7 941,612.3 940,615.5 938.3,618.6 935,623 933.1,627.6 931.2,630.5 930.8,633.5 930,638 928.8,640.5 928.4,644.6 927.8,648.3 928.3,650.3 928.8,654.5 928,657.7 930.3,661.6 931.5,664.3 932.5,667.5 932.1,669.8 930.7,674.1 928.3,677.4 927.5,680 925.8,683.4 924.8,686.1 922.5,690 920.9,693.6 919.2,696.8 918.8,700 919.3,703.5 918.3,707.5 918.8,710.5 956.2,711.5 958.1,716.2 958.8,720 959.3,724.1 960.1,726 960,730" fill="none"/>
<polyline points="946,298.8 946,303.8 949.1,304 951.8,305.5 956.6,307.4 958.5,307.2 962.5,308.8 966,310.3 970.2,311.3 973,312.4 977.5,312.5 980.1,313.7 984.4,314.8 986.3,315.6 990,316.2 993,317.3 996.2,320 997,323 998.7,326.3 999.5,330 1000.3,334.4" fill="none"/>
<polyline points="942.5,407 998.8,407" fill="none"/>
<polyline points="1004.2,428.8 1004.2,493 1005,503 1000,510.5 996.2,518 992.5,529.2" fill="none"/>
<polyline points="1022.5,425.5 1061.7,426.1 1062,427.3 1088.8,426.8" fill="none"/>
<polyline points="1061.7,426.1 1061.7,498" fill="none"/>
<polyline points="971.2,553 975,548 978.9,547.1 982.5,545.5 984.4,541.1 987.5,538 989.5,535 990.2,531.5 992.5,529.2 997,528.2 1000,526.8 1003.5,526.8 1007.5,528 1012.1,527.1 1015,525.5 1018.8,524 1021.3,522.8 1025,521.8 1028.1,520.1 1032.5,518 1036.1,516.7 1040,514.2 1043.6,512.3 1047.5,510.5 1050,505.5 1053.3,504.2 1056.4,501.7 1060,499.2 1065,495.5 1068.3,497.5 1072.5,499.2 1075.9,502.4 1080,504.2 1082.9,506.1 1087,506.7 1090,508 1094.1,507.4 1097.1,507.3 1100,506.8 1102.4,508 1104.9,510.5 1107.5,513 1109.9,511.2 1112.1,508 1115,505 1118.6,502.5 1121.5,500.2 1125,498.8 1128.2,496.1 1129.9,494.1 1133.1,492.8 1135,490 1137.7,486.7 1139.3,484 1142.5,480 1143.4,476.4 1145.6,473.7 1147.5,470 1148.2,465.6 1149,462.5 1148.8,457.5 1151.8,457" fill="none"/>
<polyline points="1151.8,421 1151.8,480.3" fill="none"/>
<polyline points="1151.8,480.3 1253,480.3" fill="none"/>
<polyline points="1167.5,415 1167.5,420 1261.2,420" fill="none"/>
<polyline points="1261.2,420 1262.5,422.7 1265.4,424.8 1267.5,427.5 1269.1,430.5 1271.1,434.4 1272.5,437.5 1271.3,441.7 1269.2,444 1266.2,447.5 1265.6,450.9 1263.8,453.8 1267,457.6 1268.8,459.5 1272.5,462.5 1273.8,468.8 1270.7,471.1 1267.4,473.8 1265,475 1261.6,476.4 1258.5,478.1 1256.2,480 1253,481.2" fill="none"/>
<polyline points="1272.5,437.5 1291.2,446.2" fill="none"/>
<polyline points="1302.5,340.9 1303.8,355 1300,370 1302.5,380 1305,390 1306.2,400 1301.2,420 1297.5,445" fill="none"/>
<polyline points="1341.2,340.9 1341.3,344 1339.8,348.9 1340,352.5 1337.7,355.4 1334.6,358.1 1332.5,360 1331.7,363.6 1329.3,366.2 1327.9,370 1327.5,372.5 1327.4,376.3 1324.8,378.5 1324.8,381.9 1323.8,385 1322.1,389 1321.5,391.9 1320.3,395.4 1320,398.8" fill="none"/>
<polyline points="1351.2,332 1352.5,345 1353.8,370 1355,390 1357.5,395" fill="none"/>
<polyline points="1306.2,400 1320,398.8 1346.2,402 1355,397" fill="none"/>
<polyline points="1301.2,420 1346.2,420 1347,433" fill="none"/>
<polyline points="1336.2,420 1336.2,436.2" fill="none"/>
<polyline points="1253,481.2 1253.8,512.5 1267,512.5" fill="none"/>
<polyline points="1172.5,480.3 1171.8,483.6 1172.5,488.1 1172.5,492.5 1176.3,490 1179,487.5 1182.5,486.2 1186.2,485.3 1190.9,484.5 1195,483.8 1199.4,484.3 1202.5,486.2 1207.5,485" fill="none"/>
<polyline points="1207.5,485 1210.6,486.9 1213.3,490 1215,492.5 1217.3,495.2 1220.7,498.3 1222.5,500 1224.8,501.6 1227.5,505 1224.4,509.3 1222.5,512.5 1225,517.5 1228.8,519.5 1231,520.9 1235,522.5 1236.7,525.5 1240,530" fill="none"/>
<polyline points="1207.5,485 1209,489 1211.2,491.2 1208.4,493.4 1204.2,494.2 1201.1,495.5 1198.8,497.5 1195,502.5 1191,504.9 1188,505.8 1185,507.5 1181.9,509.9 1179.1,511 1175,512.5 1173.1,516.4 1171.2,518.8 1166.7,520.3 1162.5,522.5 1161.1,525.8 1158.8,530 1156.4,532.4 1154.5,534.7 1152.5,537.5 1149,539.1 1145,541.4 1142.5,542.5 1138.4,543.7 1135.9,544.7 1132.5,546 1128.3,544.2 1125,543.8 1120,540 1117.3,536.3 1115,532.8 1112.5,530 1112.1,526.6 1109.9,523.2 1110,520 1109.6,515.6 1107.5,513" fill="none"/>
<polyline points="1132.5,546 1129.3,549.2 1125.6,550.8 1122.5,553 1119.1,553.9 1116.4,555.7 1112.8,556.7 1110,558 1085,562.5" fill="none"/>
<polyline points="960,566 993.8,566 993.8,560.5 1050,561 1125,562.9 1250,562.9" fill="none"/>
<polyline points="857.5,565.3 948.8,565.3 951.2,571.8 943.8,578.5 956.2,578.5" fill="none"/>
<polyline points="946.2,604.9 1071.2,604.9 1092.5,606" fill="none"/>
<polyline points="1071.2,604.9 1073.5,602.4 1074.8,598.2 1077.4,595.6 1080,593 1083.7,591.9 1086.9,590.9 1089,590.5 1092.5,589.2 1094.9,588.6 1099.3,585.8 1101.5,585.1 1105,583 1108.9,581.6 1110.9,580.1 1115,578 1116.7,575.7 1120.1,573.8 1122.5,570.5 1124,565.9 1125,563" fill="none"/>
<polyline points="991.2,604.9 985,666 985,725" fill="none"/>
<polyline points="1043.8,604.9 1050,633 1056.2,672.5 1053.8,690 1057.5,708.8 1058.8,716" fill="none"/>
<polyline points="1007.5,723.8 1006.2,717.5 1001.2,710.3 1057.5,710.5" fill="none"/>
<polyline points="1058.8,716.2 1117.5,721.2 1118.8,726.2 1122.5,715 1131.2,715" fill="none"/>
<polyline points="1092.5,605.5 1095.8,609.3 1097.6,611.3 1100,615.5 1102.4,617.9 1104.3,621.4 1106.8,622.2 1108.5,625.4 1110,628 1112.5,630.3 1113.9,632.9 1115.3,635.2 1118.4,637.2 1120,640.5 1121.2,644.1 1124,646.6 1124.9,648.8 1127.5,652.5 1129,656.4 1131.4,659.5 1132.6,661.7 1135,665 1136.6,668.7 1137.4,671.9 1139.6,673.5 1141.2,677.5 1145,680" fill="none"/>
<polyline points="1092.5,605.5 1105,599.2 1140,600.5 1147.5,608 1172.5,609.2 1197,636" fill="none"/>
<polyline points="867.5,657.7 928,657.7" fill="none"/>
<polyline points="857.5,639.2 867.5,641.8" fill="none"/>
<polyline points="262.5,238.8 267.5,245 256,246 258.8,251 270,252.5 272.5,260 267.5,265 273.8,270 265,273.8 256,278.8 258.8,286 267.5,282.5 271,276 267.5,270" fill="none" style="stroke-width:5.5"/>
<polyline points="268,521 272,526 270,532 274,537 277,540" fill="none" style="stroke-width:5.5"/>
<polyline points="1006,346 1016.5,332.4" fill="none" style="stroke-width:5.5"/>
<polyline points="994.5,351 999,342" fill="none" style="stroke-width:5.5"/>
<polyline points="1018,319 1022,321" fill="none" style="stroke-width:5.5"/>
<polyline points="1045.5,343 1047.5,336" fill="none" style="stroke-width:5.5"/>
<polyline points="1243,486 1238,494 1237,504 1236,512 1232,520 1229,528 1231,536 1233,545 1240,552 1247,556" fill="none" style="stroke-width:5.5"/>
<polyline points="1226,518 1231,522 1237,524 1240,531" fill="none" style="stroke-width:5.5"/>
<polyline points="1222,530 1228,534 1235,538" fill="none" style="stroke-width:5.5"/>
<polyline points="1224,542 1232,546 1240,549" fill="none" style="stroke-width:5.5"/>
<polyline points="1248,570 1243,576 1248,582 1243,590 1250,594 1240,600 1236,606" fill="none" style="stroke-width:5.5"/>
<polyline points="1104,788 1108,792 1106,797" fill="none" style="stroke-width:5.5"/>
<polyline points="1113,815 1117,819" fill="none" style="stroke-width:5.5"/>
<polyline points="945,728 936,731 941,737 950,737 955,732 947,728" fill="none" style="stroke-width:5.5"/>
<polyline points="846,748 850,754 845,758" fill="none" style="stroke-width:5.5"/>
<polyline points="812,778 818,774 824,771" fill="none" style="stroke-width:5.5"/>
<polyline points="791,800 793,808 795,818" fill="none" style="stroke-width:5.5"/>
<polyline points="1345,424 1347,430 1345,435" fill="none" style="stroke-width:5.5"/>
<polyline points="1356,439 1360,438" fill="none" style="stroke-width:5.5"/>
<polyline points="1370,440 1374,439" fill="none" style="stroke-width:5.5"/>
<polyline points="993,716 994,726" fill="none" style="stroke-width:5.5"/>
</g>
<g>
<rect x="1481.3" y="407.20" width="24.6" height="25.72" fill="#4d4d4d"/>
<text x="1516.6" y="426.81" class="ll">excl.-sev.</text>
<rect x="1481.3" y="432.62" width="24.6" height="25.72" fill="#b3b3b3"/>
<text x="1516.6" y="452.23" class="ll">excl.-mod.</text>
<rect x="1481.3" y="458.04" width="24.6" height="25.72" fill="#ffff00"/>
<text x="1516.6" y="477.65" class="ll">May-04</text>
<rect x="1481.3" y="483.46" width="24.6" height="25.72" fill="#dfd800"/>
<text x="1516.6" y="503.07" class="ll">May-11</text>
<rect x="1481.3" y="508.88" width="24.6" height="25.72" fill="#bdb005"/>
<text x="1516.6" y="528.49" class="ll">May-18</text>
<rect x="1481.3" y="534.30" width="24.6" height="25.72" fill="#9a860b"/>
<text x="1516.6" y="553.91" class="ll">May-25</text>
<rect x="1481.3" y="559.72" width="24.6" height="25.72" fill="#fed98e"/>
<text x="1516.6" y="579.33" class="ll">Jun-01</text>
<rect x="1481.3" y="585.14" width="24.6" height="25.72" fill="#fec26f"/>
<text x="1516.6" y="604.75" class="ll">Jun-08</text>
<rect x="1481.3" y="610.56" width="24.6" height="25.72" fill="#fdab50"/>
<text x="1516.6" y="630.17" class="ll">Jun-15</text>
<rect x="1481.3" y="635.98" width="24.6" height="25.72" fill="#fd9431"/>
<text x="1516.6" y="655.59" class="ll">Jun-22</text>
<rect x="1481.3" y="661.40" width="24.6" height="25.72" fill="#fd7f12"/>
<text x="1516.6" y="681.01" class="ll">Jun-29</text>
<rect x="1481.3" y="686.82" width="24.6" height="25.72" fill="#f5cccc"/>
<text x="1516.6" y="706.43" class="ll">Jul-06</text>
<rect x="1481.3" y="712.24" width="24.6" height="25.72" fill="#f59999"/>
<text x="1516.6" y="731.85" class="ll">Jul-13</text>
<rect x="1481.3" y="737.66" width="24.6" height="25.72" fill="#f56666"/>
<text x="1516.6" y="757.27" class="ll">Jul-20</text>
<rect x="1481.3" y="763.08" width="24.6" height="25.72" fill="#fa3333"/>
<text x="1516.6" y="782.69" class="ll">Jul-27</text>
<rect x="1641.2" y="407.20" width="24.6" height="25.72" fill="#e6b8ad"/>
<text x="1676.6" y="426.81" class="ll">Aug-03</text>
<rect x="1641.2" y="432.62" width="24.6" height="25.72" fill="#cc9184"/>
<text x="1676.6" y="452.23" class="ll">Aug-10</text>
<rect x="1641.2" y="458.04" width="24.6" height="25.72" fill="#b36b5b"/>
<text x="1676.6" y="477.65" class="ll">Aug-17</text>
<rect x="1641.2" y="483.46" width="24.6" height="25.72" fill="#9a4632"/>
<text x="1676.6" y="503.07" class="ll">Aug-24</text>
<rect x="1641.2" y="508.88" width="24.6" height="25.72" fill="#80200a"/>
<text x="1676.6" y="528.49" class="ll">Aug-31</text>
<rect x="1641.2" y="534.30" width="24.6" height="25.72" fill="#ffb3d9"/>
<text x="1676.6" y="553.91" class="ll">Sep-07</text>
<rect x="1641.2" y="559.72" width="24.6" height="25.72" fill="#ff85e0"/>
<text x="1676.6" y="579.33" class="ll">Sep-14</text>
<rect x="1641.2" y="585.14" width="24.6" height="25.72" fill="#ff59ec"/>
<text x="1676.6" y="604.75" class="ll">Sep-21</text>
<rect x="1641.2" y="610.56" width="24.6" height="25.72" fill="#ff2df7"/>
<text x="1676.6" y="630.17" class="ll">Sep-28</text>
<rect x="1641.2" y="635.98" width="24.6" height="25.72" fill="#e0c0e8"/>
<text x="1676.6" y="655.59" class="ll">Oct-05</text>
<rect x="1641.2" y="661.40" width="24.6" height="25.72" fill="#c896d6"/>
<text x="1676.6" y="681.01" class="ll">Oct-12</text>
<rect x="1641.2" y="686.82" width="24.6" height="25.72" fill="#b46ec6"/>
<text x="1676.6" y="706.43" class="ll">Oct-19</text>
<rect x="1641.2" y="712.24" width="24.6" height="25.72" fill="#a048b8"/>
<text x="1676.6" y="731.85" class="ll">Oct-26</text>
<rect x="1641.2" y="737.66" width="24.6" height="25.72" fill="#b3ecff"/>
<text x="1676.6" y="757.27" class="ll">Nov-02</text>
<rect x="1641.2" y="763.08" width="24.6" height="25.72" fill="#87d3f2"/>
<text x="1676.6" y="782.69" class="ll">Nov-09</text>
<rect x="1765.3" y="407.20" width="25.4" height="25.72" fill="#5bbbe5"/>
<text x="1802.3" y="426.81" class="ll">Nov-16</text>
<rect x="1765.3" y="432.62" width="25.4" height="25.72" fill="#2fa3d9"/>
<text x="1802.3" y="452.23" class="ll">Nov-23</text>
<rect x="1765.3" y="458.04" width="25.4" height="25.72" fill="#038bcc"/>
<text x="1802.3" y="477.65" class="ll">Nov-30</text>
<rect x="1765.3" y="483.46" width="25.4" height="25.72" fill="#a3c7e8"/>
<text x="1802.3" y="503.07" class="ll">Dec-07</text>
<rect x="1765.3" y="508.88" width="25.4" height="25.72" fill="#7a93eb"/>
<text x="1802.3" y="528.49" class="ll">Dec-14</text>
<rect x="1765.3" y="534.30" width="25.4" height="25.72" fill="#5260f0"/>
<text x="1802.3" y="553.91" class="ll">Dec-21</text>
<rect x="1765.3" y="559.72" width="25.4" height="25.72" fill="#2b2bf5"/>
<text x="1802.3" y="579.33" class="ll">Dec-28</text>
</g>
</svg>
</body></html>
